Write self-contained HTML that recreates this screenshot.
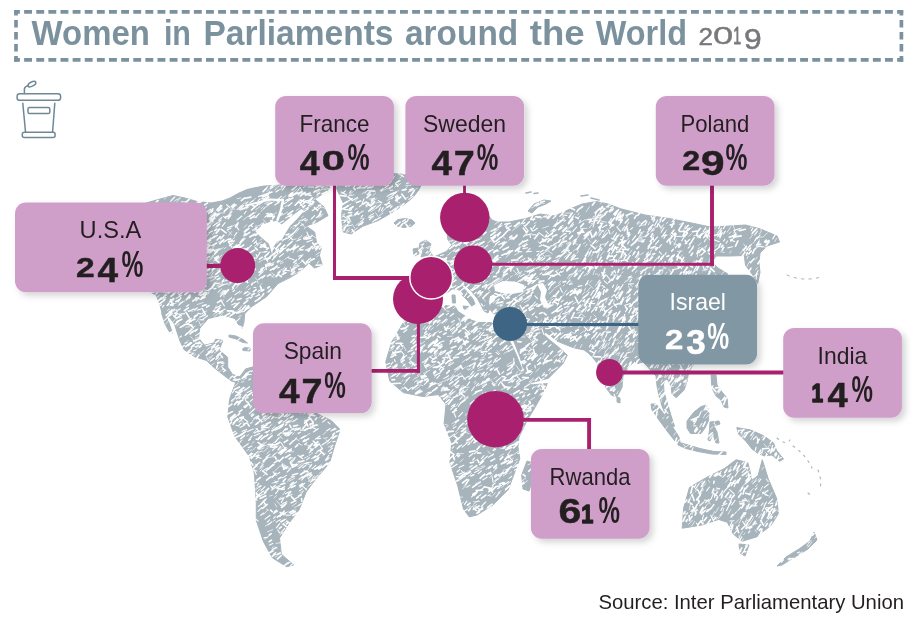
<!DOCTYPE html>
<html lang="en"><head><meta charset="utf-8"><title>Women in Parliaments around the World 2019</title>
<style>html,body{margin:0;padding:0;background:#fff}body{width:914px;height:618px;overflow:hidden}svg{display:block}</style></head>
<body>
<svg width="914" height="618" viewBox="0 0 914 618" font-family="'Liberation Sans', Arial, sans-serif">
<defs><filter id="sh" x="-10%" y="-12%" width="125%" height="135%"><feDropShadow dx="3.5" dy="3.5" stdDeviation="3.4" flood-color="#000" flood-opacity="0.17"/></filter></defs>
<rect width="914" height="618" fill="#fff"/>
<g stroke="#7b929e" stroke-width="3.7" fill="none"><path d="M14.1 11.95H903.2M14.1 59.95H903.2" stroke-dasharray="7.9 4.225" stroke-dashoffset="2.1"/><path d="M16 10.1V61.8M901.4 10.1V61.8" stroke-dasharray="7.5 4.5" stroke-dashoffset="2"/></g>
<text x="31.6" y="45.1" font-size="35" font-weight="700" fill="#7b929e" textLength="118.3" lengthAdjust="spacingAndGlyphs">Women</text>
<text x="163.9" y="45.1" font-size="35" font-weight="700" fill="#7b929e" textLength="27.1" lengthAdjust="spacingAndGlyphs">in</text>
<text x="203.4" y="45.1" font-size="35" font-weight="700" fill="#7b929e" textLength="190.1" lengthAdjust="spacingAndGlyphs">Parliaments</text>
<text x="405.0" y="45.1" font-size="35" font-weight="700" fill="#7b929e" textLength="113.2" lengthAdjust="spacingAndGlyphs">around</text>
<text x="529.8" y="45.1" font-size="35" font-weight="700" fill="#7b929e" textLength="54.9" lengthAdjust="spacingAndGlyphs">the</text>
<text x="595.8" y="45.1" font-size="35" font-weight="700" fill="#7b929e" textLength="91.2" lengthAdjust="spacingAndGlyphs">World</text>
<text transform="matrix(0.2612 0 0 0.2342 698.44 44.58)" font-size="100" fill="#77787b" stroke="#77787b" stroke-width="1.91" stroke-linejoin="round">2</text>
<text transform="matrix(0.3640 0 0 0.2328 712.93 44.41)" font-size="100" fill="#77787b" stroke="#77787b" stroke-width="1.37" stroke-linejoin="round">0</text>
<text transform="matrix(0.1415 0 0 0.2323 733.37 44.39)" font-size="100" fill="#77787b" stroke="#77787b" stroke-width="3.53" stroke-linejoin="round">1</text>
<text transform="matrix(0.3182 0 0 0.2998 744.06 49.17)" font-size="100" fill="#77787b" stroke="#77787b" stroke-width="1.57" stroke-linejoin="round">9</text>
<g fill="none" stroke="#6f8896" stroke-width="1.5" stroke-linecap="round" stroke-linejoin="round"><rect x="17.1" y="93.7" width="43.5" height="6.6" rx="2.6"/><path d="M22.8 103.2L25.5 131.8M54.8 103.2L52.6 131.8"/><rect x="28" y="107.4" width="21.8" height="6.2" rx="1.6"/><rect x="22.3" y="132.3" width="32.8" height="5.3" rx="2"/><path d="M24.4 93.5v-4.5q0-2.2 3.6-3.4"/><ellipse cx="31.9" cy="84.1" rx="4.3" ry="2.1" transform="rotate(-28 31.9 84.1)"/></g>
<path d="M146.0,203.0 160.0,199.0 173.0,195.5 185.0,198.0 197.0,201.5 211.0,203.0 222.0,201.0 230.0,198.0 238.0,193.5 247.0,189.5 256.0,187.5 264.0,186.0 275.0,185.5 285.0,184.5 300.0,183.5 318.0,184.0 330.0,187.0 326.0,192.0 314.6,199.0 324.0,207.0 328.0,215.6 316.5,222.4 306.0,226.0 314.6,232.0 316.5,242.0 321.4,247.7 319.4,255.4 322.3,265.0 314.6,268.0 308.7,263.0 301.0,271.0 291.0,277.0 278.0,283.6 266.5,296.7 252.0,306.4 244.7,313.7 244.0,322.0 242.2,328.3 238.0,324.0 235.0,318.5 222.8,315.0 208.3,318.5 199.8,328.3 198.5,338.0 204.6,345.2 214.3,342.8 215.5,339.2 222.8,340.4 219.2,350.1 227.7,357.4 227.7,367.1 232.5,374.4 239.8,376.8 238.0,383.0 231.4,381.0 222.5,374.3 213.6,367.2 206.5,360.5 194.0,356.5 184.0,349.5 180.0,341.0 177.0,332.0 174.5,324.0 170.0,318.0 162.0,313.0 159.7,304.0 156.0,295.0 150.0,292.0 140.0,260.0 130.0,230.0ZM239.8,376.8 245.6,368.9 256.0,366.0 270.0,368.0 290.0,372.0 310.0,385.0 322.0,400.0 316.9,413.5 331.2,420.6 340.1,429.5 334.7,445.5 329.4,463.3 316.9,477.6 306.2,491.9 299.1,509.7 288.4,523.9 279.5,538.2 281.3,554.2 293.7,564.9 286.6,566.7 272.4,557.8 263.5,541.8 256.3,520.4 256.3,502.6 254.5,474.0 249.2,456.2 234.9,436.6 227.8,417.0 229.6,399.2 236.7,379.6ZM336.5,188.4 343.3,203.0 341.4,216.6 343.3,232.1 351.0,234.0 362.7,226.3 378.3,220.5 391.8,212.7 403.5,205.0 413.2,197.2 419.0,189.4 422.0,183.0 420.0,177.0 400.0,174.0 360.0,172.0 340.0,176.0ZM394.0,223.0 398.0,219.5 405.0,218.5 412.0,220.0 415.0,223.0 411.0,226.5 404.0,227.5 397.0,226.0ZM420.0,243.0 426.0,240.0 431.0,244.0 429.0,250.0 433.0,256.0 428.0,258.0 421.0,257.0 423.0,251.0 419.0,248.0ZM413.0,249.0 418.0,248.0 419.0,254.0 414.0,256.0ZM418.0,272.0 425.0,262.0 436.0,256.0 445.0,252.0 452.0,245.0 448.0,240.0 446.0,228.0 452.0,215.0 462.0,203.0 476.0,199.0 485.0,206.0 489.0,216.0 492.0,220.0 497.0,222.0 509.0,222.0 526.0,218.5 540.0,214.0 555.0,216.0 570.0,209.0 582.0,204.0 596.0,201.5 608.0,204.0 620.7,208.8 645.0,215.0 669.0,218.5 693.5,223.4 710.5,227.0 730.0,226.0 745.5,225.0 760.0,228.8 777.0,236.0 779.5,242.0 767.4,245.8 760.0,253.0 759.0,262.8 760.0,272.5 757.7,283.4 752.8,275.0 745.5,265.2 744.3,255.5 730.0,256.0 716.0,256.0 712.0,262.0 718.0,268.0 728.0,274.0 738.0,290.0 735.0,305.0 722.0,320.0 712.0,345.0 695.0,362.0 688.7,372.0 687.0,381.7 684.0,390.0 676.3,397.7 672.0,394.0 671.0,386.0 668.0,380.0 666.0,379.0 663.5,384.0 664.0,392.0 667.0,402.0 671.0,415.5 674.5,426.2 671.0,427.0 667.0,418.0 662.0,406.0 659.0,396.0 657.0,386.0 656.0,376.0 652.0,372.0 647.0,366.0 643.0,362.0 637.7,363.6 634.6,361.5 628.5,367.0 623.0,376.0 622.0,387.4 616.8,397.0 611.4,395.1 604.0,385.0 599.0,370.0 596.7,362.5 592.5,357.3 588.3,353.1 584.1,349.9 573.6,347.8 563.0,343.6 557.0,341.0 551.0,336.0 545.0,332.0 543.8,334.5 549.0,339.5 554.0,343.5 559.0,347.5 567.3,355.2 563.0,363.6 548.4,378.3 531.5,382.5 526.0,378.0 520.3,357.7 512.7,338.3 508.5,331.0 506.0,322.0 508.0,314.0 500.0,314.6 493.0,313.5 490.0,309.0 491.0,304.0 495.0,301.0 497.0,296.5 493.5,294.0 489.5,296.0 488.5,302.0 490.0,308.0 488.0,313.0 484.0,311.0 481.0,305.0 477.0,298.0 472.0,292.0 468.0,288.0 464.0,285.0 461.5,285.5 468.0,293.0 473.0,299.0 475.0,304.0 471.5,306.0 468.0,301.0 463.0,296.0 458.0,289.0 452.0,289.0 447.0,293.0 440.0,296.0 432.0,297.0 428.0,300.0 424.0,307.0 414.0,309.0 403.0,305.0 402.0,292.0 410.0,286.0 420.0,284.0ZM403.3,322.7 410.0,313.0 418.8,311.0 434.4,307.2 442.6,305.5 455.0,306.3 458.0,311.5 465.0,316.0 472.0,320.5 480.0,322.5 491.0,322.5 497.0,326.0 506.2,330.0 510.1,342.1 515.9,353.8 523.7,373.2 531.5,384.9 547.3,383.6 542.0,395.1 533.6,409.8 527.3,420.0 519.0,437.0 517.9,447.0 519.8,458.6 514.0,474.2 508.2,489.7 492.6,505.2 477.1,515.0 469.3,516.9 463.5,509.1 457.7,485.8 449.9,462.5 451.8,443.1 444.1,423.7 446.0,404.3 438.3,394.6 422.7,396.5 403.3,392.6 389.7,381.0 385.8,361.6 391.7,342.1ZM527.0,461.0 533.0,463.0 534.0,475.0 529.0,491.0 523.0,489.0 521.7,475.0ZM617.0,397.0 620.0,398.0 620.0,403.0 617.0,402.0ZM682.2,528.2 683.7,507.8 689.5,487.4 707.0,477.2 724.5,468.5 736.1,459.7 747.8,462.6 752.1,480.1 758.0,475.7 762.3,459.7 768.2,478.6 776.9,499.0 778.4,513.6 771.1,525.3 756.5,536.9 742.0,541.3 733.2,534.0 727.4,522.3 718.6,519.4 701.2,525.2ZM739.0,544.0 749.0,545.0 745.0,556.0 740.0,553.0ZM814.0,532.0 817.0,540.0 808.0,549.0 795.0,557.0 782.0,565.0 777.0,566.0 786.0,557.0 799.0,549.0 810.0,541.0ZM736.8,427.6 750.5,429.9 764.3,436.0 773.5,442.9 776.6,450.5 783.5,459.0 779.6,461.3 772.0,455.0 764.3,455.9 758.2,453.6 752.0,449.0 746.0,441.4 738.3,433.7ZM687.0,421.0 694.0,412.0 701.0,406.6 706.6,405.0 709.0,412.0 708.3,421.0 705.0,428.0 701.0,433.5 690.5,433.5 687.0,428.0ZM651.0,404.0 656.0,404.0 664.0,414.0 672.0,426.0 679.0,437.0 680.0,442.0 675.0,441.0 667.0,431.0 659.0,420.0 652.0,410.0ZM678.0,442.0 688.0,445.0 700.0,448.5 714.0,451.5 726.0,452.0 726.0,454.5 712.0,454.0 698.0,451.5 686.0,448.5 678.0,445.0ZM710.0,422.0 719.0,421.0 720.0,424.0 714.0,426.0 717.0,432.0 719.0,443.0 716.0,443.0 713.0,434.0 710.0,441.0 708.0,440.0 709.5,430.0ZM711.0,375.0 716.0,375.0 717.0,385.0 722.0,392.0 727.0,398.0 728.0,408.0 724.0,407.0 721.0,400.0 716.0,396.0 712.0,388.0ZM528.0,211.0 534.0,204.0 544.0,200.0 551.0,201.0 546.0,204.0 538.0,207.0 532.0,213.0ZM229.0,335.0 236.0,336.0 243.0,339.5 247.5,343.0 243.0,342.5 236.0,339.0 229.0,337.0ZM242.0,347.5 250.0,348.0 250.0,351.0 243.0,350.5ZM161.5,313.0 165.0,313.5 169.0,323.0 172.5,333.0 169.5,332.0 165.0,324.0ZM463.0,306.0 469.0,306.5 468.0,309.5 464.0,309.0ZM452.0,295.0 455.0,295.0 455.5,303.0 452.5,303.0Z" fill="#a7b4bc" stroke="#a7b4bc" stroke-width="1" stroke-linejoin="round"/>
<path d="M255.4,231.2 263.3,224.0 276.5,220.7 281.7,224.6 293.5,214.8 301.4,208.9 304.0,211.0 297.0,219.0 290.0,226.0 285.6,233.1 281.7,239.7 276.5,242.3 273.5,247.0 272.0,254.0 270.0,247.0 268.6,243.6 259.4,235.8ZM494.0,285.0 503.0,281.0 515.0,281.5 524.5,285.0 523.0,292.0 512.0,294.0 502.0,293.0 495.0,291.0ZM537.0,284.0 543.0,283.0 547.0,290.0 545.0,297.0 549.0,306.0 544.0,308.0 540.0,300.0 541.0,292.0Z" fill="#fff"/>
<g fill="none" stroke="#fff" stroke-linecap="round" stroke-linejoin="round"><path stroke-width="2" d="M246 205.5L258 202.5L270 199.5L282 200"/><path stroke-width="2.4" d="M283 200L281 210L277.5 220"/><path stroke-width="1.6" d="M261 196L272 192M289 196L300 192.5L311 195.5M300 200L312 204"/></g>
<g fill="none" stroke="#a7b4bc" stroke-linecap="round"><path stroke-width="1.6" d="M526 193L531 192M534 193.5L538 193M581 196L588 195M591 198L599 200"/><path stroke-width="1" stroke-dasharray="2.5 5" d="M787 275Q803 282 821 277"/><path stroke-width="1.1" stroke-dasharray="2 5" d="M777 438Q786 446 790 440M793 446Q806 455 812 468M818 470Q822 480 820 490M808 493L812 496"/></g>
<g stroke="#fff" fill="none" stroke-linecap="round"><path stroke-width="0.7" d="M350.9 232.4l3.2 -1.7M175.6 209.4l4.8 -3.1M213.4 261.0l3.4 -1.7M719.1 287.4l1.3 -2.2M253.4 402.4l1.6 -1.6M169.2 254.3l3.4 -2.0M439.1 290.8l4.5 -1.0M630.2 284.8l2.0 1.6M730.6 297.7l1.7 -3.7M453.9 436.0l3.7 -3.6M693.5 286.0l2.3 -3.4M243.3 220.0l4.2 -3.5M217.2 270.9l3.3 -2.3M691.8 514.6l2.1 -3.3M250.0 264.8l2.0 -2.4M483.2 416.4l1.8 -1.3M746.1 480.1l3.8 -0.4M171.8 199.6l1.9 -2.0M362.1 193.8l3.0 -2.1M550.5 231.7l2.8 -2.2M448.8 363.8l2.7 -1.7M697.4 238.1l4.0 -4.8M490.1 231.3l5.7 -2.9M494.7 480.4l2.4 -1.8M713.6 490.6l4.3 -0.8M373.1 184.6l2.3 -2.3M305.0 444.4l6.2 1.8M280.2 262.3l2.5 -1.5M753.7 483.2l2.7 -4.8M627.2 240.2l1.6 -2.2M749.8 492.0l3.6 -3.4M697.2 256.9l0.7 -3.2M293.0 405.5l4.5 -4.1M473.8 382.5l1.7 -1.2M659.4 374.0l2.4 -3.2M549.6 373.8l2.5 -4.5M438.1 383.7l5.4 -2.5M212.4 347.6l2.3 -2.1M580.5 228.5l6.3 -0.2M401.7 362.2l3.9 4.3M483.5 306.6l1.5 -1.5M509.0 346.6l3.2 -1.5M200.9 277.6l2.1 -1.5M691.2 276.8l2.9 -5.4M600.8 341.8l4.1 -3.8M439.5 308.0l4.5 -4.2M312.9 223.8l2.2 -1.7M163.2 252.6l2.8 -1.9M651.1 287.3l1.3 -1.6M690.7 344.7l3.9 -4.2M397.6 373.4l5.0 -2.9M165.3 224.9l4.2 -3.4M303.4 237.6l4.4 -2.4M454.8 372.2l2.6 -3.4M190.3 330.5l2.6 -1.5M530.3 382.4l4.0 -3.0M473.5 501.7l6.0 -0.3M219.5 316.5l3.8 -4.3M513.0 420.5l1.5 -1.4M474.8 384.1l1.6 -1.7M635.4 272.8l1.6 -2.4M467.0 324.0l4.7 -2.0M655.9 416.7l2.0 -2.4M640.0 293.0l1.2 -1.6M170.5 279.2l2.4 -2.2M484.1 356.4l1.6 -2.0M742.7 249.0l2.5 3.2M436.3 280.0l4.9 -3.9M274.1 402.6l1.3 -2.2M438.3 292.4l2.7 -2.3M765.1 452.1l2.6 2.7M316.5 192.5l5.0 -2.8M478.4 247.9l5.3 -1.9M631.9 352.1l2.4 -4.2M453.2 308.7l2.4 -2.0M580.2 292.6l1.0 -3.6M243.7 236.5l2.6 -1.5M261.3 208.6l1.7 -1.7M292.6 274.8l3.4 -1.7M413.2 380.2l2.4 -2.6M171.5 279.4l2.2 4.3M403.3 345.4l2.7 5.2M696.3 508.6l1.7 2.1M487.4 439.0l2.8 4.4M441.7 391.5l4.9 -3.7M572.5 293.2l1.8 -2.5M489.5 402.7l1.7 -1.2M290.4 267.1l1.8 4.9M340.0 181.7l2.3 -2.1M284.5 186.9l2.7 -2.8M597.5 250.5l2.9 -0.6M692.2 265.6l2.2 -4.9M468.6 248.3l4.1 -4.8M275.3 557.1l1.9 -1.2M745.6 521.7l2.9 -2.0M585.4 322.8l2.2 -2.7M693.4 345.4l2.7 -5.5M308.8 455.8l2.6 -1.9M424.1 364.4l2.6 4.7M545.5 302.2l3.3 -1.5M263.7 470.5l3.6 -2.6M310.3 206.5l3.4 -2.6M616.6 350.7l2.1 -4.6M584.8 219.9l3.3 -0.1M518.2 320.1l2.5 -1.8M524.5 302.5l5.5 -3.4M477.5 264.0l2.1 -1.3M157.0 289.2l1.4 -2.5M307.6 476.8l2.0 4.4M225.1 253.7l4.0 -2.4M576.9 253.5l1.6 -2.3M675.5 389.2l1.8 -1.7M399.4 390.6l4.3 -2.8M628.3 254.8l3.7 -4.8M228.5 285.0l3.5 -2.4M263.4 219.7l4.4 4.7M693.6 235.7l5.8 -0.8M698.3 245.6l2.6 -2.7M483.4 325.2l4.8 -3.7M540.3 389.8l3.1 -1.4M435.9 346.1l2.1 -2.2M453.7 215.7l2.8 -2.8M191.9 347.0l2.1 -1.0M756.2 237.5l6.2 -0.6M173.6 311.2l2.9 -1.5M687.9 230.6l4.8 -3.9M272.0 276.6l2.2 -1.8M564.9 314.3l4.5 -0.5M560.4 328.1l4.5 -1.1M690.4 273.6l5.7 -3.0M151.2 233.2l4.0 -4.5M219.8 262.3l1.8 -1.2M202.1 314.1l1.9 -2.2M556.6 361.8l4.1 -4.7M295.6 233.0l3.6 -4.2M515.1 311.8l2.5 -3.1M266.1 413.1l1.9 -2.1M641.2 357.5l1.5 -3.7M282.9 214.9l4.6 -2.7M617.7 278.6l2.4 -3.2M671.1 379.9l1.0 -2.8M641.2 302.0l2.9 -2.0M519.5 295.5l4.6 -4.0M691.5 526.3l3.2 -5.0M200.9 254.2l5.3 -2.0M562.9 286.2l1.8 -1.6M649.4 254.2l1.7 -2.6M322.8 455.6l2.7 -2.1M498.2 257.3l2.7 0.4M465.8 487.5l3.7 -2.0M609.0 371.0l3.0 -4.7M560.1 313.7l2.6 -2.8M269.2 274.2l4.9 3.5M493.2 471.3l3.9 -3.0M660.9 402.1l0.9 -2.9M259.2 292.6l4.8 -3.2M235.2 234.5l2.0 -1.9M198.7 321.1l2.3 5.1M633.0 344.9l1.6 -2.5M394.7 187.2l4.2 -3.7M605.2 371.6l2.4 -4.1M714.4 441.9l2.4 -3.3M195.7 338.0l3.0 -0.7M419.8 353.1l2.5 -3.0M253.5 432.6l4.4 -4.6M499.6 456.4l4.2 -2.5M271.8 444.1l5.1 -3.9M372.8 195.6l2.8 -2.6M282.0 462.9l4.3 3.6M449.9 395.8l4.9 -4.0M691.8 495.2l1.4 -2.2M701.2 311.9l3.2 0.3M421.5 246.4l2.4 -2.0M580.6 313.3l4.6 3.6M751.6 482.2l1.4 -1.6M580.0 271.8l1.3 -2.3M288.0 479.7l5.0 -2.5M263.1 446.4l4.9 -2.0M510.4 277.0l1.9 -1.2M449.1 230.1l3.7 -2.1M449.9 395.1l3.2 -2.1M479.8 363.7l2.0 -0.7M489.5 477.8l3.1 -3.3M696.1 287.8l3.8 -0.3M473.6 280.4l5.0 -2.4M163.1 291.5l2.2 -1.8M597.4 257.0l0.9 -2.3M577.7 317.8l5.5 -0.5M514.8 275.2l2.8 -2.8M154.8 219.1l4.6 -0.4M571.0 257.6l3.5 -3.7M623.4 268.8l1.6 -2.3M560.5 338.7l4.3 -3.5M684.4 285.4l0.8 -3.1M688.6 524.4l4.0 -4.3M520.4 281.5l4.9 -2.7M366.1 207.2l4.3 -3.2M447.7 255.4l3.9 -3.7M672.9 354.6l2.0 -2.3M456.5 405.7l1.7 -2.3M252.6 450.3l3.0 -3.1M670.0 235.2l1.9 -3.0M518.2 277.6l2.9 -4.6M303.3 187.6l2.5 -1.3M538.9 330.0l3.9 -2.4M589.3 328.3l1.6 -2.2M280.4 189.6l3.9 -4.6M165.4 230.3l5.8 -2.4M594.0 291.3l2.1 -2.8M305.5 221.9l2.0 -1.9M292.5 229.1l2.6 -1.2M438.7 306.4l4.1 -0.6M559.6 229.5l3.9 -2.3M235.2 279.1l3.5 -0.2M588.2 256.5l1.7 -2.3M814.6 538.4l2.2 -2.5M628.7 286.1l0.8 3.4M755.7 259.2l1.6 -2.1M617.4 251.1l3.0 -3.0M316.0 254.7l4.4 -2.7M268.3 198.8l1.4 -1.7M684.0 304.3l5.9 0.0M728.2 278.2l1.7 -2.1M434.4 377.4l3.7 -3.7M689.5 515.9l2.9 -4.5M481.9 382.2l1.4 -1.5M254.3 213.3l1.9 -1.5M608.9 251.0l2.6 -3.9M523.6 379.4l4.8 -2.1M159.1 221.5l3.8 -1.9M406.8 227.4l3.8 -2.6M639.9 237.7l6.0 -1.6M394.2 339.1l5.8 -2.3M662.8 307.1l1.9 -2.9M689.3 509.6l1.3 -6.1M563.9 316.7l1.6 -1.7M425.0 372.3l5.1 -2.1M684.9 520.8l2.1 0.5M568.7 279.2l4.1 -4.6M555.1 271.9l3.4 -2.1M495.1 231.6l3.2 -2.1M705.3 414.6l3.2 -3.7M266.9 453.9l2.7 -3.1M280.5 375.8l3.5 -3.1M510.1 367.3l4.7 -2.8M237.0 198.7l3.9 -0.7M203.9 259.5l2.3 2.7M649.4 360.3l5.0 -1.5M521.1 336.9l3.7 0.1M439.6 353.9l2.3 -2.4M471.4 348.7l3.5 -2.9M708.6 501.6l1.6 2.5M516.1 365.7l3.9 5.2M484.3 377.6l2.5 -2.8M196.0 322.0l3.9 -4.5M492.9 495.2l2.5 -2.3M479.1 216.6l6.1 -2.0M236.2 288.2l2.5 -3.4M256.9 246.3l4.6 -4.6M587.8 251.5l2.4 -3.8M311.0 428.1l3.5 -1.7M212.5 234.6l1.9 -1.5M196.4 240.8l4.7 -3.0M658.7 301.1l1.5 -3.3M244.8 278.1l3.1 -1.7M436.9 326.3l4.3 -4.2M299.7 186.8l3.2 5.1M689.0 294.6l3.0 -5.5M621.7 261.4l3.7 -4.1M296.2 241.5l2.0 -2.0M405.7 198.7l2.6 -1.7M260.6 284.7l1.5 -1.5M585.4 308.0l2.0 -2.5M681.6 237.1l2.7 -4.5M271.9 548.1l2.1 -1.5M613.0 274.8l4.6 0.2M545.6 255.9l4.4 0.0M313.6 477.9l4.3 -2.5M517.6 296.3l4.9 -3.2M735.5 513.2l2.0 -2.6M585.1 312.0l1.6 -2.7M711.1 312.3l1.1 -2.6M240.0 251.3l2.6 -2.2M566.3 243.2l4.5 -0.6M621.8 273.4l1.1 -1.7M324.5 189.8l4.4 -1.6M160.1 270.3l4.9 -3.6M605.9 329.9l2.8 -5.0M320.7 206.7l4.8 1.7M559.4 352.2l4.2 -2.9M423.9 373.0l0.8 2.0M308.5 385.4l1.8 4.5M502.6 271.6l2.1 -2.0M341.2 227.2l4.3 -2.6M292.5 268.9l1.9 -3.0M504.5 473.5l4.3 -2.6M540.0 355.0l2.7 -2.0M169.5 284.6l3.8 -3.4M426.0 247.7l4.7 -1.5M577.5 272.2l1.8 -1.9M705.5 291.8l2.5 -5.6M696.2 300.4l1.7 -4.2M292.8 190.3l3.4 -3.9M468.6 370.4l2.2 -2.6M602.0 237.4l1.4 -1.7M705.7 510.0l3.8 -0.7M323.2 434.6l2.8 -2.8M749.8 238.5l2.5 -3.1M515.3 310.4l3.5 -2.1M572.6 292.2l4.3 -4.1M147.3 248.2l3.7 -3.3M414.5 382.3l3.0 -2.3M205.7 244.0l5.7 -1.6M302.9 210.5l2.4 -2.0M464.5 392.1l3.2 -2.9M507.3 454.9l1.9 -1.6M661.2 227.4l2.4 -2.8M613.6 340.4l4.8 -0.6M758.8 517.9l3.1 -4.5M504.9 491.2l4.3 -4.5M593.1 274.7l1.6 -4.3M255.1 392.1l4.3 -2.7M595.5 328.3l2.7 -2.6M179.4 303.2l5.5 -2.4M449.6 401.2l3.6 -2.9M356.7 182.0l5.1 -3.9M159.5 230.9l3.3 -2.7M307.3 398.2l5.4 -3.2M728.5 479.0l1.6 -2.8M565.2 311.8l2.4 -3.0M169.9 305.9l3.2 -1.7M296.2 265.5l2.0 -1.6M440.4 348.6l1.8 -1.5M182.3 244.3l5.4 -3.5M241.9 278.7l2.3 -1.7M572.8 251.6l4.9 -4.0M541.6 203.4l2.6 -0.1M257.0 384.7l4.6 -1.5M574.6 333.5l2.5 -3.0M539.9 274.0l1.7 -1.2M355.1 209.5l2.1 -1.1M687.5 340.6l3.4 -3.2M510.2 432.6l2.2 -2.2M660.7 296.2l4.7 -4.3M440.5 282.4l1.7 -1.1M455.5 431.8l2.8 -2.3M148.3 226.0l1.8 -2.1M230.2 243.9l4.8 -3.8M663.0 266.9l3.1 1.7M678.2 356.1l3.5 -5.0M282.9 272.4l2.1 -2.0M276.4 398.5l4.8 -3.4M726.1 278.9l2.2 -2.7M239.6 442.9l2.9 -2.8M273.0 521.5l2.3 -1.6M196.3 239.6l1.4 -2.0M289.8 485.4l2.7 -1.4M211.2 365.5l3.2 -2.3M252.0 443.3l2.0 -1.6M275.4 555.0l4.8 -2.2M310.3 200.9l3.1 -3.3M377.2 177.7l3.9 -3.1M501.2 389.5l4.9 -1.8M401.9 299.7l4.9 -4.1M304.0 413.9l2.0 -1.5M708.6 480.5l1.1 1.9M605.4 302.9l2.9 -5.7M289.6 421.7l2.8 -2.4M618.5 328.9l1.4 -3.1M281.3 416.0l4.2 -4.4M454.2 457.7l1.9 -1.8M488.4 380.4l3.0 -0.5M445.1 424.6l2.2 0.3M234.5 272.6l2.4 -2.7M679.6 380.2l4.4 -4.8M605.7 351.5l3.6 -4.3M650.6 232.5l1.4 -2.7M389.9 180.2l4.0 -2.3M168.5 243.4l2.4 -2.0M383.7 190.2l3.2 -1.8M618.7 290.2l1.5 -3.2M763.1 246.4l4.6 2.4M354.9 201.5l2.9 -3.0M747.6 472.5l3.2 -3.4M445.0 355.5l5.6 -2.2M429.8 367.5l4.8 -3.1M404.3 190.2l3.3 -4.3M209.1 261.1l4.1 -3.9M198.0 208.5l3.8 -3.3M617.1 364.7l2.8 -4.2M727.2 232.1l3.6 -5.3M718.9 392.9l2.2 -3.2M163.6 292.2l3.2 -0.1M267.7 194.1l2.1 -3.0M448.0 366.1l1.9 -2.2M163.4 296.9l3.5 -1.7M516.0 301.2l4.2 -3.0M537.9 241.7l3.6 2.8M679.3 369.9l1.5 -2.5M704.8 228.6l2.3 1.8M196.8 209.5l5.0 0.2M599.9 235.3l2.7 -4.3M528.3 298.6l3.1 -1.6M704.8 231.3l6.3 1.3M397.3 186.5l3.3 -3.0M192.9 356.7l2.9 -2.7M593.2 216.6l6.4 1.1M539.5 386.0l2.4 -1.1M709.7 258.7l2.2 6.0M297.7 466.6l4.5 -3.2M507.3 484.4l3.3 -2.8M583.6 239.1l4.0 -4.8M230.2 209.1l4.4 0.0M208.9 357.8l3.8 -2.3M267.2 223.7l5.2 -3.1M463.7 486.1l3.6 -3.6M286.0 469.2l3.0 -2.3M484.8 287.4l2.4 -0.3M526.5 265.0l1.9 -1.3M297.9 408.0l1.9 1.0M688.8 307.6l1.7 -1.2M297.1 462.3l2.2 -1.5M263.4 259.1l5.5 -0.7M457.3 370.4l4.5 -4.1M264.2 419.1l5.2 -0.8M639.2 226.1l6.0 -1.6M701.0 491.2l1.9 -5.2M727.2 288.1l2.1 3.8M287.0 252.0l4.9 -3.7M703.0 486.5l3.0 -2.9M139.4 216.5l3.7 -1.7M554.1 288.3l2.6 -1.9M610.2 348.5l3.0 -4.1M255.2 277.9l2.7 2.5M282.2 524.3l3.6 -2.2M700.1 236.9l1.0 -1.7M742.6 437.8l3.0 -5.6M562.6 322.3l3.1 -4.0M352.1 224.1l2.6 3.9M569.6 284.1l2.1 -2.5M501.8 336.6l4.2 2.8M674.4 311.1l1.6 -4.0M732.1 236.9l1.4 -1.7M257.9 292.9l1.4 2.5M203.6 276.0l1.8 -2.6M267.5 531.8l5.3 -2.2M344.6 233.9l3.3 -3.8M645.2 283.1l3.7 -4.9M492.8 286.5l1.7 -1.4M203.5 294.4l5.9 -2.4M660.9 326.3l2.5 2.9M682.2 312.7l2.7 -5.3M493.9 378.7l2.9 -2.0M473.2 509.8l3.5 -3.0M745.2 529.0l3.9 -4.5M316.8 257.0l1.6 -1.8M679.7 315.1l2.7 -2.2M223.6 281.6l3.5 -2.0M204.3 262.1l3.4 -3.1M277.2 486.7l4.9 -3.0M684.4 385.7l2.5 -3.5M530.1 331.4l3.6 -3.0M284.7 512.9l1.6 3.1M457.0 227.0l2.6 -4.4M615.7 352.7l2.0 -2.6M261.7 463.5l3.5 -2.0M263.8 451.4l4.0 -3.3M170.5 254.5l5.3 -2.6M241.5 420.5l1.8 2.1M681.9 352.6l1.5 -2.0M755.6 486.7l1.5 -2.0M515.9 373.5l2.3 -2.1M632.1 323.7l2.0 -0.2M276.3 403.7l1.5 -1.4M698.7 483.6l3.5 -2.6M176.3 301.3l5.0 -3.3M461.4 425.5l3.0 -2.2M214.5 251.6l4.4 -1.5M451.4 331.5l3.8 -3.1M604.0 360.9l2.9 -5.4M155.6 208.2l1.4 1.7M279.2 435.4l3.4 3.5M256.4 492.4l4.1 -3.7M739.5 536.1l3.3 -4.8M474.3 417.3l1.8 -1.3M401.9 175.7l1.6 -1.4M699.0 493.4l2.1 -2.1M369.6 210.5l5.1 -2.8M653.0 231.0l1.6 -1.3M179.7 218.4l3.6 -3.0M485.3 354.1l4.1 -4.5M756.7 503.4l1.0 -1.9M192.7 345.4l4.7 2.7M646.5 282.1l1.2 -3.7M141.6 263.1l5.5 -0.1M674.4 384.4l3.0 -4.9M492.1 430.0l5.3 -3.0M189.3 257.8l4.6 -4.0M271.8 272.9l3.9 3.0M317.0 476.6l1.7 -1.8M602.3 348.7l2.8 -2.2M696.6 261.0l5.6 0.6M589.8 282.5l1.9 -1.9M583.2 243.9l2.1 -1.3M280.8 199.4l5.2 -3.6M299.2 487.4l2.8 -2.5M654.3 261.9l2.2 -2.9M193.2 219.2l2.4 -1.4M177.3 262.4l3.7 -5.2M293.3 239.8l2.8 -1.0M186.0 276.2l2.1 1.0M270.0 434.4l2.1 -1.4M717.6 315.2l2.7 3.8M277.9 186.9l2.2 -1.4M259.4 468.8l4.4 -2.5M555.4 257.8l2.8 -0.7M513.5 454.9l5.0 -3.9M230.5 227.4l3.9 -2.5M288.9 240.3l4.1 -4.4M415.8 381.3l5.6 -0.6M208.2 270.6l3.7 -4.8M520.7 244.8l2.2 -2.3M488.3 440.7l3.2 -2.6M572.4 241.8l4.8 2.7M747.1 266.2l2.4 -4.9M216.2 260.6l2.8 -1.5M152.8 227.2l3.5 -3.0M592.4 238.0l3.9 -5.0M263.0 475.9l3.7 -2.9M712.6 518.3l2.3 -1.8M626.8 281.5l3.3 -3.9M311.5 451.9l1.3 1.6M458.0 274.7l2.0 -1.3M309.2 485.5l2.9 -2.0M466.9 245.4l1.9 1.9M605.0 325.3l1.7 -2.5M260.2 451.5l2.4 -0.3M224.1 248.9l1.8 -1.7M564.0 269.2l3.0 -4.3M584.1 276.0l2.1 -2.2M674.4 296.2l2.7 -3.9M480.8 229.6l4.2 4.2M446.0 251.4l2.4 -2.7M621.4 381.9l1.4 -2.0M176.9 325.7l2.4 -1.9M320.5 183.9l1.9 5.8M216.5 357.6l4.2 -3.4M658.3 346.1l2.3 -3.0M164.2 286.4l1.9 -1.3M241.3 382.1l2.7 -0.3M421.5 306.2l2.0 -1.5M305.5 463.2l5.6 2.3M544.0 286.8l1.9 -1.7M716.1 301.3l1.9 -5.0M721.1 401.4l3.6 -4.9M712.2 496.9l1.4 -3.4M737.1 472.3l4.9 -4.2M687.7 273.6l1.7 -3.3M497.7 305.9l5.4 -2.3M733.0 224.3l1.5 5.1M503.9 353.6l4.9 -3.4M353.4 183.0l2.6 -1.5M177.0 199.8l3.1 -2.2M483.6 364.5l5.2 -2.8M586.2 256.4l2.1 -4.7M488.0 495.4l3.5 0.8M279.5 466.3l6.4 -0.6M424.9 323.3l5.8 -2.1M266.8 292.5l3.5 -2.8M471.4 438.0l4.6 -4.4M673.7 243.1l5.3 2.6M512.6 230.6l4.1 -3.8M417.3 375.6l2.8 -2.1M291.7 273.7l2.2 -1.7M266.7 404.7l4.1 -3.2M187.1 200.7l4.4 -2.4M297.3 251.8l2.2 -2.5M240.0 259.0l2.5 -1.5M452.9 250.8l1.9 -1.3M420.5 312.0l3.1 -2.1M425.0 292.0l4.4 -4.5M227.3 317.6l5.0 -2.5M253.6 217.8l3.4 -0.5M457.2 369.6l4.6 -3.9M668.5 277.5l2.9 -5.4M497.9 282.4l4.8 -3.1M143.7 249.1l2.4 -1.8M167.6 277.9l3.8 -3.6M427.2 248.8l2.0 -1.3M728.2 472.2l3.0 -5.6M205.1 238.3l4.2 -4.8M427.4 327.4l2.1 -2.2M613.2 243.2l3.4 -4.1M523.1 350.3l4.7 -0.1M777.1 510.3l2.1 1.9M668.4 377.5l3.1 -4.7M550.6 298.8l4.0 -3.9M307.4 414.1l5.6 -1.9M465.3 277.9l0.9 5.3M532.5 339.5l0.9 2.2M318.7 217.6l2.8 -1.5M624.8 257.9l2.1 -2.5M453.8 219.4l1.9 -1.1M637.3 225.1l2.6 -2.6M299.0 495.6l4.3 -3.9M447.1 358.7l4.2 -3.2M255.2 226.1l4.2 -0.3M669.1 269.5l1.6 2.5M639.4 265.8l4.4 -4.3M239.3 443.6l2.0 -3.3M244.0 227.4l2.6 -2.6M509.5 473.5l2.2 -1.7M788.9 561.3l0.9 -3.6M505.2 297.0l1.9 -2.2M213.8 286.3l2.7 -4.3M509.1 254.1l1.7 -1.8M136.5 253.8l5.0 -3.6M482.8 298.4l2.8 2.7M577.3 238.1l3.3 -5.1M304.2 228.8l2.0 -1.7M523.8 393.9l1.7 -1.4M648.4 267.8l3.0 -0.6M654.3 261.4l2.7 -3.3M253.1 200.7l2.4 -2.5M419.9 294.5l2.3 -1.4M754.4 451.9l1.5 -2.3M158.9 220.9l4.7 -1.2M358.4 214.2l3.9 -3.5M480.0 239.3l1.5 -1.8M263.6 208.4l5.5 -3.5M590.0 261.0l1.5 -2.2M464.1 250.1l2.9 -3.1M684.9 286.1l1.4 2.2M460.5 224.0l3.5 -3.8M349.3 194.8l4.0 -3.3M621.3 219.7l2.3 -4.5M752.5 483.7l3.9 -2.9M263.9 378.1l2.2 -2.7M532.7 261.3l2.6 -2.9M585.3 246.5l2.0 -2.5M665.3 377.5l2.6 -2.6M460.1 461.9l3.0 -2.7M632.3 255.8l3.1 -4.0M316.7 196.9l1.4 -1.7M680.7 264.3l3.9 -3.6M463.2 318.7l3.7 -2.0M711.6 517.3l3.0 -5.6M253.4 236.0l5.1 -3.5M714.4 302.8l2.9 -0.0M659.4 322.5l2.9 -5.3M430.5 330.0l3.0 -2.3M388.4 178.0l4.4 -3.2M558.0 247.6l2.2 -2.5M266.2 508.8l2.6 1.6M530.5 400.0l4.2 -2.5M542.4 374.2l2.4 -1.8M294.4 510.9l1.5 -1.5M312.6 480.5l4.7 -4.4M165.5 324.3l3.8 -4.4M306.5 471.5l4.2 -4.9M191.5 355.0l2.0 -1.3M477.1 287.5l3.4 -2.7M478.3 368.5l4.9 -3.3M493.4 303.3l4.3 -3.9M434.3 333.9l4.7 -3.3M147.7 257.3l4.2 2.8M453.4 251.1l2.2 -2.3M572.1 226.9l1.5 -2.4M478.0 297.2l4.1 -2.5M220.7 295.0l3.8 -2.2M520.3 261.1l4.6 -2.9M577.9 215.0l1.1 -1.8M628.0 277.6l4.3 -0.0M720.8 251.8l3.5 0.6M174.0 201.4l2.7 -1.9M750.9 513.8l2.2 3.3M675.9 281.6l1.6 2.6M508.2 414.3l2.3 -1.2M607.4 356.1l6.0 -1.9M321.6 466.2l3.1 -0.4M606.3 329.7l2.3 -2.8M477.7 370.6l5.2 -1.5M580.4 333.6l3.2 -2.6M475.7 483.6l4.9 -1.9M193.2 282.6l3.2 -3.4M508.3 410.2l2.0 -1.5M661.1 287.6l5.6 -0.6M478.2 233.2l3.7 -4.6M254.4 401.4l2.6 -3.0M473.6 504.1l5.0 -3.7M265.9 188.2l2.0 -2.2M665.8 294.2l1.5 -2.6M603.3 234.9l3.3 -4.8M299.8 206.0l1.8 -1.6M464.3 272.8l3.8 -4.0M625.9 217.8l1.2 -1.6M355.0 215.5l2.5 -1.6M480.8 348.5l2.1 -5.0M446.3 399.8l1.4 -1.9M218.1 292.3l3.8 -3.7M269.0 426.9l3.1 -2.5M360.1 223.6l2.5 -2.1M671.6 294.8l3.2 -4.2M400.4 370.7l1.9 -1.7M488.0 289.5l2.4 1.9M319.8 216.3l3.4 -2.1M729.6 253.2l1.6 -2.2M484.3 338.0l4.8 3.7M290.9 394.8l5.4 -2.9M215.9 359.6l2.2 -1.6M281.7 204.9l2.2 -1.5M693.0 337.6l2.2 -2.2M624.3 282.9l2.0 -2.5M530.2 291.2l4.3 -2.4M468.9 264.3l3.5 -3.9M808.7 546.6l3.2 -4.7M548.5 251.3l3.8 2.5M249.6 275.4l1.8 -2.2M158.2 246.3l2.9 2.3M575.1 332.3l3.2 -2.9M705.0 269.5l2.9 -5.0M670.5 361.4l0.9 -3.5M709.3 437.3l2.0 -2.2M358.9 213.7l4.6 -2.5M282.3 507.6l2.7 -1.8M399.9 178.1l2.7 -2.6M528.5 372.2l2.7 -2.5M683.8 448.0l4.8 -3.0M234.2 386.8l3.8 -3.5M521.8 480.9l3.9 -2.7M762.6 494.3l1.6 -3.3M197.2 304.6l5.8 -2.1M434.2 355.8l3.7 -3.1M683.9 272.3l3.8 -4.7M215.6 228.0l4.2 -4.9M563.8 239.1l0.4 2.8M664.7 405.0l2.0 -3.2M359.6 177.3l2.0 -1.1M466.2 333.1l3.6 -3.0M696.8 527.5l1.5 -4.3M444.1 390.9l3.7 -1.8M283.7 451.7l3.6 -3.1M482.7 325.6l3.6 -2.7M402.0 387.5l1.7 1.5M219.8 293.7l4.2 -3.8M475.7 229.1l5.5 -1.3M276.0 543.4l5.8 -1.0M517.7 282.1l3.5 -2.7M655.4 294.7l2.2 -3.5M688.8 236.1l2.7 -2.3M733.0 237.9l2.9 -4.1M185.1 271.4l4.4 -4.0M409.0 351.3l4.1 -3.7M493.7 449.0l3.2 -2.0M636.6 258.6l2.5 -4.2M459.6 318.9l1.2 6.1M720.7 275.2l3.8 -4.0M582.3 294.6l2.4 -2.3M436.0 354.7l0.8 4.1M711.3 498.1l2.3 -5.3M274.7 470.9l4.1 -3.8M379.4 215.6l3.6 -2.5M529.1 347.3l3.1 2.4M534.7 387.1l2.6 -1.7M514.5 255.2l4.6 -3.0M664.6 347.9l2.9 -3.3M692.7 292.6l1.2 -2.8M558.7 283.3l2.0 -2.3M256.2 244.5l3.1 -1.7M578.3 328.0l2.0 -2.0M493.6 426.0l4.4 -3.8M725.6 482.2l2.2 -2.5M287.5 451.7l4.2 -3.4M657.7 298.8l2.5 -4.9M506.7 470.8l2.7 -1.2M305.9 436.1l4.0 -2.8M588.9 254.6l1.3 -2.6M194.3 311.2l3.2 -3.3M229.4 212.2l4.2 -4.2M513.4 270.2l4.1 4.7M341.0 177.6l2.5 -0.5M251.7 271.8l3.4 -2.1M672.0 396.2l3.2 -5.0M764.2 524.1l3.3 -4.0M291.3 384.2l4.7 -1.6M259.3 420.9l5.6 -3.2M257.9 453.5l2.1 -1.7M491.7 240.9l2.4 -0.2M216.0 259.3l1.8 -3.0M740.2 253.5l3.9 -4.9M595.2 338.6l0.2 2.4M156.1 224.3l4.2 3.3M744.7 436.8l4.1 -4.7M466.8 367.0l3.7 -2.2M679.5 224.4l2.9 -1.0M443.4 429.3l4.9 -3.4M480.3 373.0l2.2 2.7M344.3 221.6l1.7 -1.3M270.1 392.1l2.8 -2.1M695.3 488.7l1.9 1.7M272.2 215.8l4.3 -3.4M482.3 392.8l4.3 2.3M467.7 471.7l3.3 -2.0M425.4 394.4l3.2 -1.9M421.6 316.5l3.2 4.2M400.1 350.3l2.9 -2.2M350.9 195.2l3.1 -0.3M450.6 326.9l4.0 -3.9M722.6 513.2l1.2 -5.1M742.1 541.3l0.9 -2.3M533.2 338.7l2.3 -1.1M521.6 302.2l4.1 -4.0M253.2 456.7l3.3 -1.0M544.7 217.5l3.3 -3.5M567.3 308.1l2.2 -1.7M302.6 404.6l4.8 -2.8M236.0 276.2l2.4 -1.6M219.0 257.6l2.9 -2.5M650.7 334.2l2.3 -5.6M489.5 441.9l2.8 -1.5M444.4 381.3l4.2 -2.9M617.2 344.1l2.1 -2.3M274.1 497.9l2.5 -2.2M578.2 217.7l2.0 -1.9M424.5 266.7l1.4 1.7M577.1 313.3l3.1 -1.2M196.7 250.2l5.0 0.6M298.3 238.6l3.8 -3.2M479.3 243.0l3.1 -0.2M480.8 361.5l4.3 -3.0M666.3 223.8l1.7 -1.8M582.1 299.2l1.3 -2.4M405.3 223.5l2.5 -2.9M208.5 274.8l4.4 -3.9M346.7 230.6l2.7 -2.3M480.9 466.9l3.4 -1.3M604.6 331.6l3.6 -0.6M679.6 293.8l1.2 -2.6M685.5 382.8l2.0 -4.1M198.8 228.3l3.7 -3.2M683.3 444.2l1.9 2.4M663.5 234.5l3.2 -4.5M236.0 378.6l2.7 3.2M462.4 489.2l4.1 -4.4M598.4 352.3l4.0 -4.9M619.4 365.7l2.4 -1.1M694.8 318.2l1.7 1.9M753.3 504.5l2.2 -3.4M213.6 310.9l2.8 -5.0M316.5 195.0l3.0 -1.5M619.6 359.6l2.3 -3.4M550.4 245.8l5.9 -0.7M714.8 496.2l3.3 -4.2M512.5 316.0l5.3 -3.3M291.5 452.0l2.2 -0.8M607.7 310.3l1.7 -1.6M493.5 281.5l4.6 -2.0M707.5 335.8l3.2 -4.9M265.9 512.0l1.7 -2.0M535.4 342.1l1.8 -1.6M618.0 226.3l3.9 -4.5M379.5 180.6l1.8 -2.5M272.2 202.7l3.3 -2.2M609.7 300.0l2.8 -0.2M589.3 320.0l1.8 -3.7M453.3 444.1l2.6 -2.9M298.4 443.7l3.7 1.5M562.7 251.6l3.8 0.5M308.3 481.6l4.7 -3.7M664.0 327.6l2.7 -2.9M562.4 296.0l1.7 -1.2M749.4 495.3l1.9 -3.4M671.7 221.6l4.4 -3.7M483.3 264.5l2.5 0.1M645.3 262.4l0.8 -2.1M610.7 378.2l3.0 -1.9M180.7 211.9l4.2 -3.1M269.1 457.3l4.7 -0.6M283.9 396.7l4.6 -3.7M247.3 276.9l1.9 -1.2M216.2 216.8l1.6 -1.4M269.8 496.0l2.5 -0.7M472.4 395.2l3.7 -3.4M387.1 200.5l5.2 -2.6M245.5 310.0l5.1 -2.6M307.7 399.8l1.9 -2.4M390.6 211.8l3.2 -0.4M646.0 255.9l1.8 -2.1M294.5 231.9l3.2 -3.7M188.2 259.3l4.0 -1.7M146.2 210.9l4.1 -3.6M293.8 405.7l2.7 -2.3M418.6 384.8l4.3 0.8M651.0 259.1l2.2 -3.3M287.4 481.7l3.0 -2.6M678.7 278.1l1.8 -3.8M374.7 183.1l1.7 -1.8M493.4 326.0l1.6 -1.3M467.3 487.2l3.0 -2.0M403.3 322.4l2.1 3.4M697.3 305.6l3.3 -3.2M273.1 487.4l2.9 -2.5M688.1 358.6l2.5 -0.9M241.4 268.1l3.4 -2.6M528.3 354.7l3.9 -2.1M394.6 350.8l4.8 -2.4M750.1 227.9l3.2 -2.4M199.9 353.9l4.1 -3.7M257.4 281.2l0.8 2.3M644.7 338.0l1.9 2.4M161.8 207.5l2.0 -3.0M482.3 385.8l4.3 -1.8M210.2 215.9l4.9 -4.0M652.9 356.4l1.5 4.4M209.3 259.4l3.9 -4.3M659.0 377.5l1.4 -2.7M200.4 272.1l5.9 -2.3M526.9 268.1l4.5 -3.8M567.0 245.5l3.3 -4.0M692.7 357.6l2.3 -2.4M494.8 261.3l2.2 -2.3M595.0 307.0l3.0 -4.1M238.9 316.4l2.4 -0.7M277.5 275.1l3.2 -3.7M451.0 378.1l2.2 -3.6M264.1 419.3l3.5 -2.3M702.3 411.0l3.4 -2.9M763.2 515.3l4.2 -3.7M686.0 307.5l1.4 -1.5M524.8 244.7l1.8 -2.0M466.0 205.0l4.0 -1.9M616.0 354.6l3.3 -2.1M620.6 263.2l0.9 -2.1M312.6 477.4l1.9 -1.4M460.3 435.1l2.2 -1.4M518.5 374.6l3.8 -1.8M636.8 279.0l5.0 -2.8M376.0 203.1l4.9 -1.3M464.0 387.2l5.1 0.0M496.1 369.2l2.5 -1.7M590.2 305.0l0.4 3.2M482.7 214.1l1.4 -1.8M652.0 317.9l3.5 -4.6M395.5 341.2l3.4 -2.8M353.5 176.3l1.6 -1.7M513.7 465.6l3.6 -4.1M695.4 491.8l1.9 -3.0M666.0 286.0l1.7 1.5M170.7 302.3l3.2 -1.9M457.1 229.1l3.2 -2.8M676.8 344.9l3.8 -4.6M228.3 276.5l4.1 -3.5M426.8 339.3l4.4 -4.5M259.4 225.4l2.8 -2.3M593.6 314.6l2.4 2.4M494.8 283.8l3.4 -1.9M615.6 289.4l1.8 -4.6M206.1 230.9l2.1 -1.9M583.9 305.4l1.8 2.2M524.9 271.2l5.0 -0.1M580.3 347.7l1.6 -3.3M481.2 272.1l2.4 -1.0M601.4 370.0l1.1 6.1M504.3 282.4l4.4 -4.0M272.0 429.0l3.2 -2.7M488.1 495.7l2.3 -1.6M287.6 423.1l3.8 -1.8M206.5 357.0l1.8 3.3M510.5 338.7l4.3 -1.6M706.3 323.1l2.9 -3.4M634.4 237.3l1.6 -2.2M278.5 450.5l4.0 -3.1M596.8 328.8l4.7 -0.1M680.0 354.0l2.0 -5.2M477.9 385.9l1.6 -1.9M370.9 211.7l3.8 -2.3M733.4 515.6l2.4 -3.4M719.0 247.7l1.4 -4.1M628.0 350.6l2.6 -2.9M614.2 316.6l2.0 -3.7M173.0 253.6l1.9 -1.1M248.1 291.8l3.3 2.3M289.5 408.8l1.5 -1.9M505.0 295.7l3.7 -3.0M254.2 246.4l3.1 -2.3M319.2 417.6l3.1 -2.7M493.1 436.3l2.8 -2.0M653.0 236.6l1.0 -1.8M213.3 315.0l3.7 -3.8M707.7 237.2l3.7 4.8M517.1 380.9l2.2 -1.9M550.0 301.4l3.7 -2.7M563.0 268.0l2.5 -3.9M225.4 291.2l1.8 -1.0M620.6 302.9l0.8 -2.2M479.2 275.4l2.6 -1.9M269.3 264.6l4.8 -2.3M561.6 217.5l3.6 -2.2M588.8 284.2l4.0 4.1M702.5 270.6l5.0 -1.2M402.6 370.6l4.7 -3.5M601.4 375.2l3.3 -3.7M596.1 217.9l3.3 -4.7M594.9 249.0l2.2 -2.6M701.5 483.8l1.4 -2.2M515.4 226.6l2.9 -3.0M313.1 413.7l3.1 -3.5M316.4 246.5l4.8 -3.3M173.9 271.6l3.5 -2.1M597.3 234.4l2.1 -2.8M191.5 220.8l1.9 -1.2M576.2 291.0l2.0 -1.3M280.0 534.6l4.1 -2.8M591.0 264.5l1.8 -2.3M664.7 377.3l1.5 -4.1M622.9 256.4l2.7 -3.8M526.5 355.1l3.1 -3.1M211.1 275.7l2.1 -3.0M763.2 237.2l4.1 -4.3M680.6 300.7l3.0 -4.7M743.7 534.6l1.3 -1.6M599.2 303.6l3.9 -4.2M607.6 229.1l1.7 1.4M251.9 268.9l3.0 -3.3M184.2 247.0l3.0 -1.3M670.3 387.4l3.3 -1.2M158.1 212.2l1.7 -2.3M304.7 475.4l4.0 -3.2M263.3 190.7l4.5 -3.6M484.9 427.1l3.3 3.7M482.5 476.3l3.4 -1.7M577.1 310.2l3.1 -3.3M526.6 409.0l4.7 -2.3M586.0 274.4l3.9 -3.8M478.5 486.5l3.3 -1.3M144.6 224.8l2.2 -1.2M458.2 318.0l1.2 2.0M499.1 311.2l3.1 4.1M543.5 275.0l3.0 -3.4M190.6 336.6l2.6 2.8M475.0 469.9l5.1 -1.0M266.2 416.6l2.0 -2.1M665.1 429.6l2.6 -3.5M252.1 394.8l1.8 2.6M591.6 346.8l1.3 -2.0M745.7 527.5l2.4 -3.3M295.5 396.1l3.9 -2.9M489.3 396.3l4.2 -3.6M461.6 471.6l3.7 2.5M219.1 354.3l1.9 -2.1M284.8 259.4l4.2 -3.1M529.1 364.8l1.6 -1.3M466.9 369.2l2.1 -0.1M465.9 348.3l3.4 5.2M407.8 368.6l2.2 -1.7M141.0 268.1l3.8 -4.4M460.1 259.5l3.6 -2.8M216.8 286.0l5.7 -2.4M647.3 357.1l1.6 2.7M259.8 421.3l3.4 -2.7M661.3 382.1l0.9 -2.0M462.9 228.7l2.1 -3.3M679.8 307.8l3.8 -4.9M281.2 204.4l3.1 -2.6M428.0 352.3l4.0 -4.4M621.9 300.7l4.3 -3.9M427.3 281.5l2.2 -2.5M140.2 224.5l3.4 -2.9M486.8 263.7l5.2 -3.7M647.3 328.5l3.2 -4.5M634.2 324.2l2.9 -3.2M461.3 504.1l2.4 -2.2M473.6 461.4l4.0 -2.2M532.1 354.1l2.5 -1.8M314.5 396.8l2.9 -3.8M461.2 470.3l2.4 2.6M696.0 349.4l1.3 -2.7M166.4 277.5l2.1 2.5M282.3 241.4l4.5 -3.9M205.2 295.2l3.6 -1.7M735.2 523.2l3.6 -3.6M553.8 317.7l5.1 -2.5M422.2 348.0l3.1 -2.8M716.9 332.8l0.9 -5.5M494.5 325.8l1.4 -1.4M462.7 208.6l5.3 -1.1M456.3 394.7l3.8 -1.7M716.3 519.5l1.7 -2.4M470.9 377.5l4.3 -4.8M753.0 243.5l2.2 -3.0M539.0 395.5l2.7 -2.5M665.1 369.0l4.8 -4.4M671.6 395.4l3.0 -5.1M390.9 369.7l2.9 -1.2M714.8 426.3l1.0 -1.7M255.7 386.9l2.3 -2.1M637.8 315.3l1.2 -1.8M550.9 331.0l4.9 3.5M556.1 336.6l4.4 -3.8M154.0 215.5l3.2 -2.9M774.9 241.5l1.6 -3.2M588.5 232.9l3.4 -3.1M625.5 227.4l3.4 -5.1M603.9 236.3l1.2 -1.9M187.9 310.6l4.8 0.6M529.9 375.2l2.9 -3.1M659.6 219.5l3.2 -3.9M280.4 263.8l3.1 -1.5M741.9 517.5l2.7 -1.0M190.3 329.2l4.9 -3.1M481.9 489.1l2.5 -1.9M659.9 220.6l2.4 -4.5M728.2 301.4l2.5 -5.1M501.3 404.2l4.1 -3.9M715.6 394.2l3.4 -5.1M166.9 305.4l3.1 -3.8M222.9 241.6l1.4 -1.5M492.0 272.7l1.8 -1.3M730.2 301.7l3.1 -3.8M648.5 362.9l2.6 -0.5M745.7 508.9l1.1 -3.5M304.3 185.2l2.0 -1.7M603.1 346.0l3.1 -5.4M314.4 190.8l2.3 -0.1M260.9 211.5l4.3 -3.9M633.2 342.7l2.2 -3.3M586.1 211.9l3.4 -5.2M159.2 259.9l1.8 -1.8M569.8 310.7l4.1 -3.4M434.0 382.3l5.6 2.5M262.0 470.9l5.7 -3.0M677.4 358.1l6.1 1.4M607.5 206.2l1.5 -2.3M454.9 212.1l2.0 -2.1M265.1 420.9l3.1 -2.8M703.4 417.5l1.8 -3.0M456.0 376.2l4.8 -3.2M441.8 287.8l1.8 -1.4M650.4 251.4l2.9 -3.2M509.9 408.3l2.9 -2.0M758.9 241.9l0.5 -2.1M604.1 356.9l1.5 -5.6M619.5 337.9l2.7 -3.7M296.6 444.9l2.8 -1.5M666.5 320.1l1.4 -3.6M747.0 258.7l1.2 -2.4M246.1 288.2l2.5 -2.9M677.4 388.5l1.2 -2.1M354.6 181.7l3.8 -2.7M726.4 497.3l4.6 4.4M653.5 282.9l0.7 -2.3M741.2 438.2l2.1 -3.2M621.0 347.6l1.3 -1.6M688.8 332.6l1.1 -1.7M644.6 274.8l1.3 -3.0M167.1 310.5l2.6 -1.6M509.5 388.5l2.2 -2.7M169.2 252.0l4.2 -2.2M646.5 328.3l3.1 -5.3M238.4 309.8l4.0 -4.6M313.9 458.2l2.0 -1.1M684.5 275.0l2.1 -3.6M283.9 468.3l4.0 -1.9M403.5 384.8l3.9 -4.5M231.7 402.2l2.3 -2.4M246.6 435.9l2.0 -1.2M522.3 420.5l4.3 -4.2M662.5 362.7l2.4 -2.7M689.7 345.5l2.7 -4.1M599.4 219.0l3.2 -4.9M763.9 444.2l2.7 2.4M596.1 243.0l2.3 -2.3M768.3 446.3l2.4 -1.1M700.6 426.2l1.7 -2.9M750.7 439.5l3.2 -5.1M300.3 413.4l3.7 -2.9M523.2 260.7l1.4 -2.0M316.9 467.6l4.5 -3.3M714.0 423.6l1.5 -4.1M451.4 247.3l5.0 -2.9M219.3 372.2l1.4 -1.5M612.5 239.5l2.4 -3.6M625.7 215.1l1.8 2.2M624.1 323.8l1.5 -4.9M429.5 357.1l3.1 -1.6M737.9 230.7l3.6 -3.0M266.7 458.6l1.7 -1.4M769.1 497.4l2.9 -4.9M476.9 288.4l3.6 -3.2M480.0 350.7l3.2 1.8M465.3 325.2l2.9 -0.5M288.9 458.6l3.7 -0.9M451.3 268.9l2.6 0.7M598.5 276.1l1.1 -2.0M572.2 216.8l2.7 -2.8M498.5 428.8l4.5 -1.8M511.5 459.7l2.0 -1.7M489.7 362.3l1.6 -1.7M656.9 355.7l3.3 -2.8M526.9 335.5l4.3 4.8M519.4 393.8l1.7 -2.6M661.5 274.0l1.5 -2.9M488.8 269.5l1.7 -2.2M176.8 264.6l2.8 -2.6M229.1 413.3l2.1 -1.6M761.5 437.7l4.0 -3.5M551.1 322.4l2.3 -1.9M260.5 269.4l1.6 -2.1M291.2 462.8l3.7 -3.7M722.3 319.4l3.0 -5.4M730.2 497.5l2.2 -0.1M618.2 260.5l2.0 -3.3M255.6 488.9l2.0 -2.1M729.1 233.9l1.7 -2.1M418.5 345.5l2.5 -2.1M748.7 499.7l0.4 2.6M505.8 257.4l4.1 -3.7M616.5 394.1l1.6 -2.7M527.8 293.3l1.9 -1.6M503.0 408.0l4.7 -3.7M457.0 453.5l6.3 0.2M384.0 180.9l3.2 -3.1M659.3 266.5l3.3 -4.8M516.9 227.5l4.0 -3.8M166.6 232.7l4.5 -4.2M267.1 191.5l2.4 -2.7M400.0 328.7l4.4 -1.1M260.7 449.4l3.3 -1.5M701.9 292.9l0.5 2.2M431.4 314.5l2.2 5.3M595.3 286.0l1.8 -2.2M519.7 297.7l5.1 -3.1M381.4 174.7l3.4 -2.9M276.7 500.8l3.7 4.3M244.7 263.0l1.5 -3.2M484.7 409.3l3.3 -1.2M593.1 324.9l1.3 -2.1M508.7 240.1l2.8 -1.8M488.1 374.9l2.0 -1.4M323.5 189.2l3.9 -2.4M595.9 221.2l2.1 -3.0M283.6 184.1l0.7 2.4M346.9 206.6l4.1 -2.5M532.5 330.4l1.8 -1.4M278.7 416.1l1.2 -1.6M594.8 345.3l2.8 -3.9M491.9 405.0l3.3 -3.7M421.3 343.9l3.3 -2.5M263.0 271.7l2.4 -3.0M614.3 349.0l1.6 -2.1M398.4 207.0l2.8 -2.5M144.0 254.1l4.5 -2.6M187.2 287.0l4.7 -4.0M493.1 277.6l3.6 -2.8M718.4 518.5l3.1 -3.4M586.3 292.2l3.9 -4.5M226.1 421.6l5.7 -2.6M391.8 373.6l2.4 -2.6M463.6 431.7l5.3 1.9M603.4 237.8l2.0 -2.1M475.3 467.4l1.7 -1.9M293.2 266.0l5.5 -0.5M702.5 491.2l0.8 -1.9M295.7 465.9l3.2 -2.4M519.8 381.4l5.0 -2.3M531.4 208.1l3.0 -1.8M254.8 490.5l5.2 -3.9M606.7 357.2l1.7 -4.2M475.1 330.0l3.4 -4.2M422.7 329.4l2.4 -3.5M299.7 439.0l3.2 -1.7M232.8 246.9l4.0 -0.9M679.5 258.6l2.8 -3.8M273.5 255.7l3.2 -1.3M200.1 325.2l3.3 -1.9M444.1 330.0l2.1 -1.7M452.8 426.4l3.4 -3.2M667.1 332.6l1.4 -1.9M272.5 416.8l6.0 1.2M589.9 303.4l4.4 -2.9M461.4 345.3l2.9 -1.7M243.0 380.1l3.7 -2.3M471.9 436.9l1.7 -1.1M249.7 451.1l1.9 -1.5M668.0 262.6l1.6 -3.0M315.5 246.6l3.7 -0.1M595.5 232.1l0.8 3.4M699.6 427.0l1.7 -3.3M607.8 384.1l3.5 5.4M282.3 270.6l2.5 -3.6M738.4 492.4l1.3 -1.9M715.6 246.4l1.3 -2.0M182.7 286.3l3.2 -2.9M272.3 392.2l2.9 -2.8M309.9 425.8l3.7 -1.7M506.4 312.5l2.3 -3.6M642.3 301.2l2.3 -3.5M269.8 552.8l4.2 -1.9M476.5 468.1l2.5 -0.5M409.4 375.1l3.4 -4.3M311.5 235.1l4.0 2.5M171.9 323.1l3.1 -3.5M423.5 320.1l2.6 -1.5M757.1 513.1l2.0 -1.9M757.2 496.5l1.9 -2.4M601.4 338.4l2.3 -5.3M622.1 269.6l1.6 -2.7M193.0 273.7l4.5 -4.6M568.5 228.6l5.0 -4.1M480.5 376.4l3.6 -2.1M710.0 429.2l3.0 -2.5M591.1 238.2l4.0 -5.1M230.2 241.3l4.5 -3.8M423.9 241.7l3.3 -2.8M201.6 313.6l5.1 -2.8M534.2 223.6l2.0 -1.3M493.2 242.6l2.4 -1.1M600.1 203.6l2.0 -1.8M459.2 245.7l2.4 -2.5M683.5 230.4l2.0 -4.8M660.6 304.6l2.3 -3.6M648.3 224.8l1.5 -2.5M640.3 271.6l3.7 -1.1M387.5 189.0l5.3 -3.7M518.8 375.1l1.5 -2.4M746.2 472.7l2.0 -5.4M294.5 507.8l4.3 -2.6M738.9 523.4l3.0 -4.9M261.1 375.3l2.0 2.7M292.4 506.1l4.2 -3.4M528.2 281.1l2.8 -1.4M741.0 434.9l1.5 -1.8M291.8 193.1l5.1 -4.0M542.7 228.2l5.8 -2.1M493.5 247.0l2.7 -2.2M662.9 294.9l5.2 -3.1M272.2 549.2l5.0 -1.2M148.1 256.3l2.1 -0.1M261.3 200.4l3.6 -1.9M304.1 458.2l3.5 -1.7M224.2 241.9l4.2 -3.1M684.5 265.2l0.7 -1.9M307.9 486.9l1.9 -2.3M585.1 330.9l1.7 -1.8M705.0 407.9l1.5 -1.9M696.2 278.3l5.7 -0.3M260.7 405.6l2.5 -1.6M683.4 513.6l2.3 -0.3M609.8 383.5l3.2 -4.1M281.7 380.3l3.5 -2.4M474.0 277.2l1.6 -2.1M498.0 492.8l3.1 -1.8M766.3 479.0l2.9 2.8M705.9 418.1l3.0 -3.1M218.0 242.2l4.3 -1.4M677.0 352.3l2.3 -2.0M458.6 340.0l4.0 -1.2M659.8 311.1l2.1 -2.7M547.0 242.0l3.9 -2.5M562.0 241.8l3.0 -4.9M298.8 221.0l4.3 -1.5M755.5 269.6l2.2 -1.9M483.1 330.6l1.9 -1.7M481.4 247.7l2.4 3.7M442.2 276.5l4.9 -2.7M315.3 265.6l2.9 -2.4M570.2 332.7l4.0 0.2M672.2 329.8l4.6 -3.9M487.8 451.1l2.4 2.6M702.5 524.6l0.8 -3.8M242.9 241.3l2.8 -2.9M356.0 225.2l3.7 -2.5M449.6 224.7l3.8 -4.7M454.9 231.3l1.6 -1.6M389.5 350.8l4.0 -1.9M393.5 192.9l5.1 -2.2M584.2 290.8l1.4 -2.8M268.8 267.2l1.7 -2.4M292.3 434.5l2.1 -1.7M162.9 208.9l4.4 -2.4M422.4 299.5l2.4 -1.7M356.1 213.3l2.4 -1.6M479.1 446.9l3.1 -2.5M274.8 190.3l2.2 -2.9M708.6 271.7l3.0 -3.6M615.2 261.3l1.1 -1.8M459.6 497.1l3.0 -0.0M263.1 370.7l3.4 3.0M603.1 347.9l4.3 -4.8M305.4 489.9l1.2 -1.7M203.6 228.6l1.9 -1.4M424.6 280.0l2.1 -2.2M687.6 324.1l1.6 -2.9M759.6 233.8l1.3 -2.1M534.0 230.7l3.8 -2.5M472.1 241.5l5.1 -3.2M325.7 439.8l4.2 2.9M766.1 479.2l1.9 2.5M591.6 256.2l1.4 -3.0M170.6 305.1l5.5 -2.0M462.4 320.4l5.5 -3.0M195.8 346.7l2.7 -0.3M172.3 255.3l5.0 -4.0M674.0 245.5l2.3 -6.0M257.7 432.8l1.8 -1.6M461.8 386.3l2.0 -0.3M371.1 202.2l5.3 -3.5M543.4 253.3l5.4 -3.4M242.1 251.7l5.3 -3.7M450.1 393.8l5.2 -2.7M209.5 225.8l3.6 -3.4M526.1 335.0l2.7 -1.6M599.3 348.6l4.0 -5.1M531.9 332.6l3.6 -2.2M442.5 258.8l1.0 1.8M445.4 354.2l2.3 -1.3M471.9 360.0l3.1 -1.8M280.3 382.5l1.7 -1.2M469.6 424.2l4.7 -1.6M282.9 494.8l2.5 -3.4M501.8 487.3l1.7 -1.4M716.6 280.7l1.8 -2.5M522.8 403.5l2.2 -1.6M710.9 267.7l2.7 3.1M520.7 428.2l3.1 -1.4M599.1 235.9l1.2 -3.1M523.4 416.6l1.8 -1.2M266.0 369.2l4.6 -2.8M226.3 254.4l2.2 -1.9M214.0 317.5l3.9 -4.0M640.6 254.7l2.8 -2.0M272.0 483.1l5.0 -1.3M587.6 238.0l3.1 4.3M524.9 278.6l3.1 -3.3M436.6 321.8l2.0 -2.1M366.3 186.5l3.1 -1.8M207.9 360.9l3.3 -3.5M489.7 411.6l2.7 -1.3M401.9 381.5l1.4 -1.4M807.1 545.8l1.9 -3.6M310.7 451.2l3.6 -3.0M233.7 253.6l2.1 -1.4M737.4 540.3l3.1 -4.5M342.0 215.1l2.7 -1.3M260.6 400.3l2.2 -1.1M341.3 217.5l3.4 -2.7M595.5 274.1l2.1 -0.1M672.2 324.3l5.4 -0.8M469.9 283.9l3.9 -2.0M257.5 382.3l2.8 -1.8M588.5 232.7l2.3 -1.9M153.8 227.4l3.3 -1.5M395.2 200.9l4.5 1.9M555.5 225.1l2.3 -5.6M512.7 424.8l2.3 -1.9M255.8 209.7l4.3 -3.2M699.3 255.4l2.7 -1.4M281.1 275.3l5.0 -2.4M530.4 405.3l4.0 1.1M206.8 278.7l5.7 -2.3M547.9 247.8l4.4 -1.9M485.9 469.8l3.6 -3.7M542.8 325.1l2.8 -2.8M262.2 430.2l3.4 -3.5M584.4 332.0l2.6 -4.1M577.4 310.3l2.6 0.0M537.1 262.0l3.0 -1.5M301.5 223.2l3.4 4.1M375.4 212.5l3.4 4.9M430.8 345.4l3.5 -3.0M281.2 522.2l5.2 -3.4M524.1 315.4l1.9 -2.4M199.2 291.3l3.4 -2.6M477.6 235.4l2.3 -1.8M639.2 239.2l2.6 -0.6M255.1 463.9l2.1 3.2M618.1 355.6l1.6 -2.7M258.9 252.2l6.4 0.0M264.7 203.6l5.3 -2.3M480.2 469.0l4.6 -2.4M241.1 206.1l4.4 -4.2M572.3 304.3l3.9 -2.2M416.4 347.0l5.8 1.0M758.0 480.4l1.3 -1.9M497.6 479.8l4.2 -4.6M657.8 390.2l1.4 -2.1M506.9 365.2l5.2 -3.4M470.9 370.1l3.3 -2.1M267.1 447.0l3.2 -2.3M402.1 376.2l4.7 -2.5M604.1 213.7l1.5 -1.5M702.1 249.6l3.7 -3.7M774.3 518.5l1.5 -2.3M455.3 270.8l2.3 -0.9M602.2 288.9l1.9 -2.0M760.7 229.1l0.6 2.2M283.2 566.0l5.3 -3.8M623.6 360.6l2.9 -5.2M735.4 469.4l3.6 -3.8M197.2 259.5l5.0 -2.2M606.2 315.9l2.2 3.3M306.4 462.6l5.3 -0.3M493.6 232.3l2.4 -0.1M288.5 468.9l4.2 -2.3M666.2 301.4l2.4 -3.6M714.1 423.4l1.4 1.6M420.3 251.6l3.7 -3.3M275.8 453.1l2.0 -1.0M739.1 536.2l1.2 4.4M491.7 380.8l4.2 4.8M427.6 254.0l3.7 -4.9M494.7 224.2l4.9 -2.9M590.7 357.8l3.4 -2.5M404.3 330.0l2.3 -2.3M484.9 343.2l2.3 -2.2M511.7 436.7l4.2 -3.3M528.5 274.8l4.0 -4.8M690.4 498.2l1.2 -2.9M205.1 251.1l2.7 -0.4M447.3 380.6l3.4 -3.0M474.3 247.6l2.1 -1.8M560.9 246.6l1.6 -2.7M204.8 228.9l4.4 -3.1M137.4 232.5l3.0 -2.4M562.0 230.8l4.9 -4.2M530.3 324.0l2.3 -0.2M504.2 385.2l2.3 2.9M537.2 324.3l4.6 -4.5M323.6 438.2l3.8 -0.5M534.9 278.1l2.3 -1.4M524.9 401.3l2.1 -2.0M529.5 333.2l4.7 -3.9M450.0 466.6l2.2 -1.9M176.6 318.1l4.4 -0.8M571.0 341.0l2.9 -0.8M252.3 420.7l3.3 -2.4M575.7 339.8l4.9 -4.1M522.6 308.4l5.2 -3.7M447.4 336.5l5.0 -0.4M680.1 313.8l3.1 2.8M405.8 185.3l4.1 0.0M760.1 491.0l2.5 -4.6M258.9 262.3l4.2 -2.8M239.8 293.2l2.0 -1.6M704.6 249.6l2.1 -4.2M479.6 495.7l2.7 -2.7M501.2 409.3l4.3 -2.9M242.9 312.1l2.2 -1.4M683.5 235.1l1.4 -2.1M468.1 507.3l2.6 -1.2M589.4 265.3l2.8 4.5M161.2 241.9l2.5 5.5M563.4 249.9l5.4 0.8M668.6 352.8l2.1 -4.1M282.0 274.9l4.8 -2.5M565.6 231.4l2.8 -3.6M647.2 338.7l1.4 -2.4M601.9 321.4l5.0 -0.1M597.5 302.7l1.1 -1.9M289.7 236.6l2.9 -3.1M567.2 278.1l2.3 -2.1M713.0 506.6l1.2 -1.9M290.5 228.1l1.9 -1.2M564.3 257.5l4.0 -3.3M619.2 245.1l1.7 -3.1M423.3 375.5l3.8 -3.4M165.0 273.0l4.9 -2.8M631.0 322.4l3.2 -4.3M415.4 389.5l4.0 -2.6M538.9 279.8l1.0 4.2M633.2 307.2l3.4 1.8M487.7 242.8l3.1 -2.3M638.9 237.2l2.9 -5.2M184.4 262.6l2.7 -1.0M231.5 301.5l2.9 -1.9M601.3 276.4l4.3 -4.3M274.6 480.6l2.3 2.9M294.0 268.0l5.4 -2.0M679.6 292.5l2.9 -3.2M487.8 366.1l3.9 -1.4M524.1 291.3l3.9 -2.6M140.5 246.5l4.2 -1.1M692.2 306.2l2.8 -2.0M228.6 235.3l3.1 -3.8M210.5 250.8l3.9 -4.9M284.8 206.4l4.5 -1.3M760.4 456.1l2.1 -3.5M743.8 244.0l3.4 5.4M655.0 308.2l3.5 -4.3M587.2 275.0l2.7 -3.1M608.0 345.3l1.7 -2.9M540.9 252.8l3.9 4.0M278.6 499.1l2.5 -1.8M660.9 229.4l1.8 -4.1M232.4 252.4l2.4 -1.7M410.4 185.5l4.1 -2.7M217.5 360.6l4.6 -4.3M412.5 190.7l5.2 -2.7M299.6 263.3l3.8 -3.6M157.7 229.1l5.9 0.6M670.6 243.0l2.2 -2.0M705.2 506.8l3.5 -4.0M186.2 210.5l4.5 -4.3M465.2 242.6l3.1 4.4M755.1 530.2l1.4 1.9M451.5 230.7l3.2 -2.1M694.6 325.3l4.1 -4.6M467.9 333.1l3.9 -2.5M481.6 406.2l4.5 -3.5M677.3 251.4l4.9 -0.5M241.4 392.3l4.5 -3.9M288.8 451.5l2.5 -1.8M494.2 283.3l4.0 -3.2M557.6 286.2l3.0 -2.4M502.4 436.1l3.5 -2.2M277.9 439.3l3.4 -3.1M408.7 373.4l3.1 -1.7M709.8 288.6l3.8 -0.8M808.9 543.1l2.1 -2.6M260.1 471.1l1.9 -2.3M446.2 310.8l2.7 0.6M391.3 179.3l3.9 -3.4M151.8 260.2l1.7 -1.1M610.8 222.5l1.9 -3.1M503.3 236.9l2.4 2.1M641.0 318.7l3.5 0.2M214.5 352.8l3.9 -2.4M275.0 243.9l3.5 -1.9M458.6 438.4l4.6 -3.2M611.7 233.9l2.0 -2.8M156.8 263.2l3.2 -4.7M189.4 331.0l4.0 -2.5M475.8 209.9l2.4 -2.9M452.0 423.9l4.2 -3.0M481.3 217.1l4.6 -3.2M674.4 313.4l2.2 -2.9M431.1 336.1l4.7 -3.9M761.9 469.6l1.7 -2.5M445.7 322.2l1.8 -2.7M183.9 285.2l2.9 -4.9M256.0 481.6l3.8 -3.6M487.5 508.2l3.2 -1.9M486.4 325.9l3.0 -0.7M300.8 492.4l2.6 -1.7M236.0 264.1l1.9 3.0M549.2 293.8l4.1 -4.2M407.7 357.8l2.0 -0.4M187.9 276.0l4.8 -2.8M282.0 397.7l2.7 -2.1M747.4 508.5l1.1 -2.3M246.1 209.1l3.1 -2.4M184.0 258.2l3.7 -3.3M288.6 197.1l2.0 -1.5M497.3 350.7l2.7 3.2M188.3 230.2l2.8 -1.2M426.9 284.2l1.6 -1.4M600.3 255.6l3.8 -4.1M490.7 265.6l3.5 -2.7M604.6 348.6l2.1 -3.5M480.5 417.7l3.5 -3.2M191.8 252.1l1.4 -2.1M217.5 363.8l1.9 -1.0M479.1 385.5l2.9 -2.2M662.9 355.3l1.4 -2.8M348.9 195.7l2.6 -0.4M470.3 508.2l3.2 -2.8M542.7 358.7l2.7 -5.3M463.0 368.9l2.3 -1.7M535.9 371.7l3.5 -3.4M206.9 349.7l3.5 -2.7M354.2 230.3l3.3 -2.5M312.2 405.9l3.0 -1.2M184.7 266.9l3.4 -2.2M536.4 390.7l4.1 -2.4M225.4 281.2l3.5 -1.5M450.4 316.2l2.5 -2.8M470.7 289.4l1.2 1.9M221.7 302.1l1.9 -2.5M201.9 232.7l3.6 -1.5M619.9 343.6l2.7 -3.7M369.6 217.5l3.5 0.2M482.6 433.2l6.2 1.5M555.2 342.1l2.7 -3.5M691.7 284.1l4.4 -3.8M540.0 274.5l2.3 -1.5M492.0 456.0l1.6 -1.5M468.0 476.7l3.7 -3.5M156.7 268.5l3.9 -1.7M194.9 342.0l1.9 -1.7M265.4 526.0l5.4 -3.2M490.3 330.8l3.8 2.0M477.3 332.1l2.4 -1.3M453.6 251.3l5.5 -0.7M500.8 432.3l3.7 -4.0M663.7 276.2l3.3 -4.1M566.6 325.7l3.6 -4.4M263.8 514.5l1.9 -2.3M450.2 453.5l2.3 -2.9M500.0 350.8l4.3 -3.1M591.2 223.5l3.5 -1.0M185.7 343.0l2.3 -2.5M417.1 382.7l2.5 -1.3M533.4 220.7l1.6 -3.4M527.9 464.8l5.1 -2.2M647.6 345.2l3.8 -4.7M204.0 276.9l3.7 -3.5M227.8 230.6l4.1 4.2M189.9 356.9l4.3 -3.8M176.7 202.2l3.4 -4.3M252.9 261.4l2.9 -1.2M514.9 460.5l3.1 -1.5M500.8 448.6l5.4 -0.7M218.0 292.0l2.3 -2.1M662.4 290.1l3.3 -4.9M283.7 514.4l4.5 -3.0M215.8 371.2l3.3 -3.1M485.8 265.9l5.2 -1.7M454.4 376.2l3.3 -0.3M153.1 284.4l4.6 -4.0M265.0 539.2l4.4 -3.7M302.3 410.3l1.8 -1.6M560.3 335.0l2.7 -2.1M347.7 222.3l3.0 -2.1M275.0 503.8l1.8 3.0M625.4 357.5l2.9 -0.0M262.4 445.2l4.5 -3.6M503.1 470.2l4.5 -0.9M696.2 270.2l0.9 -1.8M540.6 219.0l4.8 -3.6M461.2 428.4l2.8 -0.2M498.8 280.2l5.1 -3.5M425.6 241.6l3.1 -1.3M489.4 366.9l3.3 -2.2M172.9 293.9l4.1 -2.4M310.3 202.5l5.0 -3.9M151.6 281.5l3.2 -2.4M522.2 245.9l2.2 -1.2M707.6 263.7l2.7 -3.7M679.9 267.7l2.0 -3.0M479.7 437.5l3.5 -4.0M248.2 289.7l2.3 -1.4M496.7 251.4l2.3 -0.2M702.1 325.0l1.5 3.1M260.8 445.7l3.4 -3.5M286.5 246.7l2.0 -1.7M671.2 327.3l2.9 -3.8M540.0 269.6l4.3 -2.5M147.8 211.0l3.9 -3.0M369.1 199.0l3.9 -0.4M511.3 370.7l2.2 -2.6M290.7 404.5l3.1 -3.2M602.1 244.4l3.8 -0.7M415.9 378.2l3.4 -2.4M215.5 252.2l5.1 -3.3M548.8 283.9l3.0 -2.6M427.9 388.2l4.7 -3.6M529.0 382.0l4.1 -3.7M589.2 227.9l3.9 -4.4M711.3 323.4l2.8 -5.7M308.4 410.1l2.3 -1.9M185.8 327.2l3.8 -0.4M649.3 260.7l2.6 -5.4M658.0 311.3l2.3 -4.1M478.9 351.3l3.1 -1.5M256.5 493.0l4.1 3.0M550.8 264.9l5.2 -2.8M715.3 512.8l3.4 -5.3M760.8 522.1l2.0 -5.8M191.6 245.8l2.7 -2.2M172.8 232.0l5.3 -1.8M462.0 362.6l4.3 -3.5M744.9 466.2l2.7 -4.9M486.6 508.7l4.7 -4.1M413.0 355.2l2.0 -2.2M478.0 349.2l2.9 -3.6M438.2 356.2l3.1 -5.6M512.1 382.3l1.8 -0.9M485.0 283.2l2.8 -2.0M161.5 236.8l3.9 -4.2M296.0 438.8l3.1 1.9M474.2 424.8l3.6 -3.3M745.8 510.8l1.8 -2.1M289.5 481.2l5.1 -2.9M688.4 309.2l3.1 0.5M493.2 385.8l4.0 -3.4M446.2 404.9l4.8 -3.9M601.0 220.9l5.5 1.4M307.2 208.1l2.0 -1.4M271.9 386.5l1.8 -1.6M554.7 261.0l4.8 -2.6M273.9 186.6l3.5 -2.2M210.5 281.3l5.2 -2.9M741.7 487.3l4.1 -4.4M807.7 547.2l1.4 -1.6M317.4 262.7l1.6 -1.4M286.9 418.8l2.3 -0.7M678.0 267.5l1.1 -1.9M563.8 293.9l2.9 -4.0M580.0 308.0l3.0 -3.8M661.8 270.5l3.2 -3.1M392.2 345.6l2.8 -5.1M599.9 312.1l2.2 -4.5M282.1 451.2l3.4 -2.4M441.2 390.6l3.4 -2.9M564.2 221.8l1.6 -1.7M430.7 320.6l3.0 -1.5M637.0 284.7l2.1 -3.3M277.4 272.6l4.8 -3.6M441.2 388.3l2.5 -1.2M264.4 430.0l2.0 -1.8M565.6 213.2l5.2 -0.2M637.2 342.6l2.1 -0.6M285.9 434.0l3.1 -3.3M513.8 298.9l2.0 -1.8M286.1 405.0l1.7 -1.3M639.6 226.5l2.6 -3.4M263.7 402.6l4.0 -2.8M662.5 418.8l1.6 -1.4M159.9 211.1l3.1 0.1M489.9 327.7l3.5 -2.1M638.5 238.5l2.7 -3.4M743.8 467.8l0.9 -3.5M327.0 444.5l4.5 -3.4M260.0 240.1l1.9 -1.2M718.5 393.2l3.2 -4.8M749.4 524.1l3.7 -5.3M613.5 354.7l2.0 -2.6M463.9 398.6l4.1 -2.2M412.3 369.6l4.1 -2.1M650.4 292.8l1.1 -3.2M657.5 400.6l4.9 -4.1M237.7 310.4l3.8 -3.0M231.3 280.7l5.5 -2.9M730.2 529.1l2.0 -3.1M341.8 193.5l3.4 -1.8M685.9 298.7l1.0 2.3M473.6 506.7l3.2 -2.3M202.4 315.3l3.4 -2.1M185.1 209.5l4.2 -4.5M627.9 279.8l2.8 -3.5M700.8 263.7l2.2 -5.9M533.0 326.0l5.7 -2.2M459.6 395.2l2.3 -1.0M518.0 274.2l3.9 -2.8M270.7 379.7l3.7 -1.6M360.1 218.3l4.0 0.0M431.1 326.2l2.8 -2.0M481.8 358.0l2.2 -0.5M220.3 249.3l2.8 -1.6M690.2 319.0l2.4 -0.3M517.2 416.5l3.2 -3.5M710.3 306.0l2.4 -2.9M246.6 450.9l2.2 -1.6M640.8 345.2l2.3 -3.5M296.2 210.4l3.2 -2.0M597.2 257.9l2.2 -5.9M507.7 454.5l3.1 -4.4M765.2 495.1l3.2 0.4M619.5 214.6l2.0 -2.0M673.8 435.3l1.9 -2.7M319.5 473.0l2.5 -1.6M479.1 222.2l2.4 -1.9M264.0 257.1l2.9 -3.1M614.0 214.3l2.2 -3.5M659.1 283.4l3.4 -4.7M263.9 504.4l1.8 -1.1M451.5 387.0l2.9 -2.9M640.3 235.3l3.6 -4.0M640.1 232.0l2.1 1.8M279.2 532.6l5.1 1.1M421.8 264.6l4.5 -2.6M744.4 524.2l2.4 -5.6M261.1 422.6l4.0 -2.8M218.9 213.1l5.7 -0.2M150.7 252.0l1.2 -2.4M524.9 347.4l3.4 -3.2M632.5 213.1l1.3 1.6M381.6 212.1l4.3 -3.9M483.9 310.3l2.6 0.1M348.3 216.7l5.1 -1.0M573.3 348.8l2.5 -3.8M291.0 462.9l2.0 -1.4M506.1 436.7l4.0 -2.8M277.9 263.1l2.7 -2.7M155.9 297.8l3.3 -2.2M412.0 291.3l4.7 -2.7M347.1 232.4l2.0 -1.2M301.5 217.5l1.8 -1.3M679.0 275.7l4.0 -4.1M465.2 415.2l5.0 -3.5M660.6 392.6l2.5 -2.9M468.6 203.2l4.4 3.4M212.4 256.9l2.6 -2.8M164.3 199.1l1.6 -1.4M292.6 252.7l2.5 -4.5M259.2 447.7l1.2 -1.6M503.3 475.9l4.3 -2.8M209.7 278.5l5.1 -2.2M569.4 311.8l2.6 -3.6M477.3 398.6l2.8 -0.5M613.5 302.5l1.0 -1.9M553.7 357.1l4.2 -2.9M523.2 484.0l4.4 -3.3M242.9 399.0l3.9 -2.1M654.1 302.9l0.4 -2.1M513.8 405.1l3.8 -2.2M642.3 305.4l4.5 -4.4M547.3 308.6l4.6 -4.2M452.9 360.1l3.0 -5.1M693.4 293.7l2.2 -3.5M458.0 239.0l4.7 -4.2M328.2 447.2l2.9 -1.6M578.7 223.2l5.4 -3.0M186.5 353.0l4.7 -0.8M528.3 275.2l6.3 0.2M276.9 443.8l2.3 2.0M722.1 279.6l4.0 -4.3M653.2 407.8l3.5 -3.9M532.8 314.4l2.3 -2.2M566.8 247.4l2.8 3.3M223.0 290.8l1.0 6.2M568.3 335.7l2.9 -4.0M695.5 345.1l3.3 -3.6M451.1 276.8l4.4 -2.4M715.1 228.7l2.8 -3.4M728.1 514.1l2.8 -4.8M150.8 291.1l4.3 -2.8M379.9 190.4l3.1 -1.3M494.5 428.8l3.7 -3.3M704.9 270.8l1.7 -1.8M698.1 248.5l2.1 -0.9M483.5 231.0l3.1 -4.0M285.8 563.5l5.3 -1.6"/><path stroke-width="1.1" d="M168.6 316.5l3.9 -2.6M680.2 365.1l1.7 3.4M384.7 365.6l5.0 -2.4M672.9 332.2l3.1 -4.8M541.8 260.5l3.2 -2.7M393.1 371.5l4.2 -2.7M246.7 295.6l2.7 -1.8M710.6 265.9l1.0 -2.9M156.2 257.8l0.6 4.7M612.9 344.1l2.7 -5.6M240.0 251.8l2.0 1.1M444.6 268.8l1.8 -1.7M552.8 261.5l2.4 -1.0M445.2 294.4l1.3 -1.7M264.3 259.3l3.5 -1.2M297.9 190.4l2.5 -2.9M669.9 239.1l3.0 -3.0M461.4 237.4l1.6 -1.5M469.2 456.5l3.8 -3.0M306.4 459.9l3.1 -2.3M387.6 177.6l4.0 -3.7M659.2 343.6l2.3 -3.7M547.1 323.4l4.6 -4.2M246.1 299.3l4.0 -2.1M707.8 267.7l2.8 -5.2M591.7 349.1l3.7 -3.8M568.4 323.7l2.7 2.8M306.0 263.8l2.8 -4.5M455.8 439.7l4.8 -2.9M582.8 268.5l4.6 -2.2M712.8 492.6l4.5 3.6M302.7 467.7l3.6 -2.8M193.4 244.9l1.6 -1.9M149.3 218.5l3.2 -3.1M458.3 376.2l3.8 0.3M654.8 404.4l2.1 -0.1M234.4 251.2l4.5 -0.3M425.4 367.4l4.7 -2.3M170.2 261.2l2.2 -1.8M315.3 208.9l2.9 -2.2M617.0 297.0l2.6 1.6M264.6 256.5l3.3 5.2M444.1 262.6l2.2 -2.0M490.1 466.7l2.6 -1.1M371.3 202.5l1.7 -1.9M459.1 271.9l2.6 3.6M272.3 259.8l4.3 -4.5M293.0 429.4l4.0 -1.5M777.3 459.1l4.1 -1.5M181.2 201.8l6.0 0.2M588.3 264.8l2.0 -2.8M343.6 228.2l4.5 -4.0M330.7 430.9l5.4 -1.8M273.5 257.1l3.2 -2.0M656.0 287.8l1.1 -1.8M406.6 183.4l5.2 -1.4M203.8 289.8l5.0 1.0M244.0 311.5l3.4 -3.8M511.1 381.4l1.3 -1.8M300.5 430.1l5.1 -0.0M263.3 501.1l2.5 4.0M244.9 310.0l3.2 -2.2M288.4 206.0l3.7 -3.3M139.2 250.5l3.7 -3.5M438.9 297.0l2.8 -2.8M245.2 399.6l1.4 2.5M325.3 460.3l3.6 -4.9M439.5 342.4l4.5 -1.5M727.5 486.7l2.6 -3.7M613.5 258.2l3.3 -3.9M181.1 258.0l3.6 -1.1M772.8 513.0l3.3 -3.2M523.8 247.0l3.2 -2.8M182.3 242.7l3.4 -1.8M694.3 263.6l2.3 -0.5M542.2 270.0l4.9 -3.7M424.7 311.9l2.9 -2.8M598.8 261.9l2.5 4.6M577.4 294.5l3.7 -3.7M751.9 234.2l3.6 -4.9M500.8 314.7l2.8 -1.4M270.9 413.7l4.0 -3.1M236.2 280.2l4.3 -0.4M482.8 480.0l4.3 -2.9M280.2 454.6l2.7 -1.8M622.3 299.5l1.0 -2.1M229.4 245.7l3.7 -2.6M264.1 251.9l3.0 -0.5M239.0 421.8l4.7 -4.1M704.1 287.2l2.4 -5.0M260.7 515.3l3.0 -2.3M701.8 290.7l2.5 -2.2M660.7 219.9l2.1 -4.1M339.9 177.2l1.8 -2.0M268.4 370.7l3.5 -3.7M508.6 407.4l2.6 -3.7M462.3 447.1l4.7 -4.0M181.0 283.9l2.7 -1.0M439.2 369.9l2.3 -3.3M341.5 209.2l3.1 -1.4M215.1 259.6l3.8 -2.2M260.6 246.2l4.5 -3.1M203.0 223.3l2.9 -0.9M601.0 376.4l1.6 -1.5M651.7 281.2l2.6 3.8M504.3 324.4l4.5 -1.6M493.3 362.6l2.3 -2.4M559.8 216.3l1.7 -1.8M654.7 367.8l2.7 -3.3M426.8 258.0l4.4 -4.8M298.2 195.0l3.7 -3.6M258.3 506.4l2.4 -2.0M655.7 298.7l4.3 -4.5M310.1 447.9l2.6 2.3M248.2 447.7l3.7 -1.6M717.6 236.7l2.0 -3.5M279.2 423.5l1.6 -1.5M255.5 518.9l2.6 2.3M411.8 366.0l2.0 -3.2M655.4 227.0l2.2 -0.2M678.5 310.5l1.7 -1.5M472.8 325.4l1.1 -1.9M682.9 364.8l4.7 -4.5M637.8 240.8l6.3 0.9M389.4 211.5l2.2 3.3M199.1 292.8l3.5 -2.1M498.3 226.9l3.4 -3.7M513.7 358.3l0.3 4.9M518.6 301.6l3.6 -2.9M407.6 390.6l4.8 -3.5M724.5 472.7l2.8 -3.9M488.3 440.9l5.8 -3.0M301.7 485.4l4.8 4.2M559.7 326.9l2.1 -2.1M568.9 217.6l2.4 -3.8M244.8 252.0l2.3 3.0M509.4 432.0l6.1 -0.8M277.7 412.6l6.2 0.1M654.9 317.7l3.5 -3.8M459.2 392.3l3.3 -3.6M191.6 287.1l4.2 -3.5M704.2 315.1l1.1 -2.4M251.5 416.5l2.3 -1.8M499.2 331.8l4.0 -3.3M347.2 201.8l5.1 -3.6M474.8 227.9l1.5 -1.6M501.8 373.3l1.9 -1.6M491.6 231.4l3.8 -2.7M651.6 324.4l2.4 -4.4M614.2 294.8l3.2 4.9M630.7 229.4l1.9 -1.8M661.2 385.0l4.2 -4.1M470.2 245.3l4.2 -3.5M758.6 455.4l2.1 -2.5M512.3 381.8l2.7 -2.6M142.7 213.9l3.5 -2.6M420.9 281.8l4.4 -4.1M520.6 276.4l3.7 -2.3M685.2 327.4l2.1 -2.6M205.7 258.6l3.8 -2.1M744.3 466.1l2.3 -3.8M690.6 301.4l1.6 -1.9M491.3 314.0l5.7 -2.9M189.3 277.6l1.9 -1.8M409.6 359.6l2.8 -3.6M378.7 211.2l1.7 -3.7M549.9 306.5l3.4 -1.8M279.0 373.2l3.8 -3.3M644.9 329.5l2.4 0.9M700.3 294.0l1.5 -3.1M141.3 231.2l4.7 -3.4M179.6 294.4l0.9 3.5M575.2 272.7l2.2 -3.8M484.8 296.1l2.3 -2.8M560.6 221.4l3.5 -3.4M548.5 279.2l2.1 -2.2M288.7 375.8l4.0 -2.5M458.8 327.0l1.2 -1.7M291.2 476.9l3.5 -0.2M742.6 521.5l2.8 3.9M498.7 244.8l5.4 -2.9M460.9 434.9l2.3 -1.6M513.2 327.2l2.8 0.1M491.8 283.0l3.7 -2.2M221.2 366.4l2.2 -1.3M232.2 289.4l1.6 -1.3M218.3 287.2l5.6 -2.7M548.8 370.4l1.6 -1.7M255.9 377.2l2.3 -1.1M726.1 243.2l1.4 -2.2M284.6 565.4l4.9 -2.8M237.1 209.6l4.2 -4.0M539.6 255.8l3.9 -2.7M539.1 246.4l3.2 -1.2M390.5 357.2l3.3 -1.9M220.1 342.3l1.9 -1.6M426.1 253.0l1.8 -1.6M190.0 284.4l3.8 -2.0M446.5 314.6l1.9 -1.2M472.5 494.3l2.9 -1.8M528.7 406.2l2.4 2.6M361.1 224.6l1.6 -2.0M488.2 350.2l3.4 -2.4M369.5 219.7l1.6 -1.3M256.3 258.2l3.7 -5.3M181.7 326.9l4.2 -3.0M609.3 304.9l1.4 -1.5M408.4 192.1l4.6 -2.9M624.0 366.9l2.4 -2.9M451.5 406.4l3.9 -2.4M463.7 378.9l5.8 -2.9M162.5 307.1l1.4 -1.7M553.5 226.5l1.9 -2.5M509.4 265.3l2.6 -3.5M655.1 275.1l3.2 -3.0M142.3 233.2l3.8 -3.6M191.4 257.3l2.2 1.4M247.2 392.4l4.2 -2.0M437.9 346.6l2.2 1.2M458.8 474.6l5.6 -2.6M641.2 240.0l2.6 0.1M651.4 310.9l2.4 -4.5M453.6 287.0l2.3 -1.4M680.4 374.6l2.5 4.3M714.1 308.3l3.3 1.4M702.3 303.4l1.3 -2.0M616.1 219.1l1.3 -2.1M484.4 401.5l5.3 -3.0M250.1 202.6l3.3 -2.1M430.5 294.8l5.2 -3.8M674.3 355.0l3.1 -3.2M495.8 497.1l3.9 -4.7M284.5 270.3l5.4 0.5M390.5 207.8l1.7 -1.7M282.5 514.5l3.1 -1.9M255.3 217.5l3.9 -3.9M750.0 246.1l1.4 -1.8M544.4 270.1l3.4 -1.5M309.1 452.9l4.1 -4.2M235.9 425.2l3.1 0.8M216.6 283.6l3.4 -0.6M545.7 328.6l4.8 -0.4M466.2 442.3l5.1 -0.3M248.7 458.4l3.2 -2.0M475.0 219.3l3.1 -2.1M699.4 493.4l3.3 -5.1M184.9 257.7l2.1 -1.8M303.4 212.0l4.9 -3.1M724.1 399.0l3.0 -1.0M671.3 362.2l3.4 -2.5M349.8 176.2l5.0 -4.0M647.3 232.3l4.4 -4.5M524.6 387.3l5.4 -3.5M582.0 263.2l2.5 -5.0M315.3 248.9l4.3 -3.3M369.0 216.4l4.4 -2.8M493.4 276.4l3.1 0.5M706.3 303.3l2.7 1.8M526.4 322.6l2.5 -2.4M690.9 511.4l1.4 -1.8M655.0 248.5l1.8 -1.1M235.0 294.6l4.8 -3.2M449.1 394.2l4.1 -4.7M712.1 335.1l3.6 -4.9M406.3 307.6l2.7 -3.8M561.6 272.4l1.8 -1.6M178.0 302.0l2.8 -3.9M458.5 287.3l5.4 -3.0M708.1 251.1l2.2 -2.4M237.0 220.0l4.9 -4.0M655.8 285.6l2.5 -3.3M678.6 265.2l3.1 3.4M645.7 309.0l2.4 -5.9M605.9 388.1l2.9 -4.2M535.6 316.3l1.6 1.3M456.2 476.6l6.4 0.6M305.2 250.0l4.4 0.4M730.2 239.7l4.4 1.8M394.3 359.5l1.0 2.1M500.3 436.5l2.1 -2.1M592.1 218.3l3.8 -0.0M332.8 441.9l2.5 -0.6M255.1 498.4l2.0 1.9M194.0 216.4l2.2 -1.6M607.7 206.3l3.1 -1.5M186.3 306.5l2.5 -1.8M720.0 515.5l2.2 -2.7M223.6 216.3l2.4 2.3M195.6 297.5l5.5 2.0M430.4 306.5l3.3 3.2M255.7 241.8l1.5 2.0M638.3 286.2l2.6 -2.3M272.7 455.9l2.4 -2.3M657.0 360.3l2.6 -4.5M250.2 401.4l1.9 -1.6M473.6 247.6l4.3 -4.3M502.9 484.3l3.1 -0.6M479.4 464.7l4.4 -3.5M531.1 342.9l3.0 -2.2M551.0 233.6l5.2 -3.8M472.6 495.0l4.3 -3.7M660.7 300.8l5.1 0.5M505.4 226.6l3.0 -2.9M520.8 426.1l2.0 -1.0M446.8 308.3l5.7 -2.5M497.5 488.6l2.3 -1.0M465.7 424.5l1.6 -1.9M591.4 339.0l2.5 -3.0M393.5 194.4l1.7 -1.3M516.1 392.4l3.5 -2.1M613.8 303.4l2.9 3.7M282.7 405.9l4.5 -4.3M244.7 390.6l4.8 -3.9M304.7 220.6l2.5 -0.9M177.1 284.2l4.6 -3.1M526.2 235.3l5.3 -1.5M590.8 221.5l5.5 -0.8M646.3 254.4l2.2 -2.2M407.2 221.2l1.1 -2.0M317.6 193.9l2.3 -1.1M153.7 212.2l3.6 -1.2M349.6 192.8l1.5 -1.9M490.9 370.4l3.0 -2.7M452.1 244.2l4.0 -3.0M458.5 262.3l2.3 -1.2M701.5 521.5l1.4 -1.7M479.8 365.5l2.8 0.2M484.3 340.1l3.6 -3.7M419.7 291.9l4.6 -3.5M735.1 532.7l1.8 -2.0M734.0 533.9l2.5 -2.7M689.8 299.6l1.5 -1.6M471.5 270.5l3.1 -3.3M608.6 230.3l1.3 3.5M197.1 223.6l2.3 -1.4M663.0 346.0l1.2 -3.5M562.7 362.0l1.6 -3.3M459.6 291.7l4.8 -3.9M610.7 362.6l1.3 -2.1M729.6 489.7l4.5 4.2M136.9 218.8l2.0 -2.1M515.4 337.0l2.0 -1.2M537.3 365.0l3.0 -2.8M477.3 294.0l5.7 -2.4M531.8 306.0l3.5 -4.0M661.1 232.3l2.9 -4.6M666.8 418.3l1.4 -1.6M480.7 224.2l2.2 -0.6M248.8 440.1l3.1 -4.0M476.8 484.6l3.7 -2.6M513.6 427.2l4.8 -2.5M188.0 298.3l2.3 -2.8M300.7 386.7l4.6 -2.5M741.8 553.9l2.9 -3.5M267.5 217.0l4.0 -3.3M603.5 236.8l4.1 -3.9M687.0 296.6l5.0 -1.2M670.5 374.2l1.3 -1.8M686.1 514.7l1.5 -1.9M516.2 414.1l1.5 -2.3M277.9 449.6l2.9 -3.1M210.1 361.4l3.0 -2.8M219.5 267.2l1.3 1.8M476.7 497.4l3.8 -2.5M498.2 227.8l3.9 -2.4M464.9 263.2l3.6 -3.1M455.5 482.0l2.5 -2.3M755.1 489.8l1.9 -1.9M766.6 245.2l2.8 -3.3M467.0 349.1l4.1 -4.3M271.5 381.3l4.2 -3.7M266.9 396.8l3.5 -2.4M545.0 250.9l4.9 -3.9M573.7 241.0l1.4 -1.5M290.7 461.5l2.2 -1.6M162.1 267.2l1.6 -1.4M758.8 481.8l2.2 -2.8M447.4 353.6l4.6 -2.7M699.1 289.6l4.6 3.6M677.1 442.7l2.2 -2.9M635.7 285.6l1.3 1.9M384.8 187.9l3.8 -2.6M731.7 505.0l3.4 -4.7M596.8 291.1l1.9 -2.7M436.8 378.3l2.9 -3.3M551.0 240.5l1.7 -3.3M582.7 311.3l4.0 -3.9M483.2 282.1l1.8 -2.3M489.7 341.6l1.8 -3.0M253.9 287.2l2.0 0.5M248.5 226.8l4.7 -3.6M668.6 378.9l1.7 -2.5M708.7 316.5l6.3 -0.8M596.5 288.3l2.3 -2.7M558.0 352.3l2.9 -2.3M432.7 295.2l3.2 -4.6M709.6 439.1l3.6 -4.5M582.2 312.1l1.4 -1.4M680.1 326.7l5.2 -3.7M228.4 241.6l3.3 5.6M689.1 252.7l4.1 -5.0M301.8 480.1l2.7 -4.2M745.5 546.0l1.8 -1.8M681.6 371.4l1.5 2.0M559.8 220.7l5.2 -0.7M523.5 278.6l2.0 -1.0M426.5 395.9l3.4 -2.8M275.0 442.6l3.8 -4.7M281.3 502.4l2.8 -5.0M604.6 246.0l3.5 -4.3M350.1 210.5l1.6 -1.7M189.1 298.4l1.4 -1.6M283.9 203.8l2.4 -1.3M447.6 233.9l1.6 -1.4M412.6 340.4l2.2 -1.6M719.6 495.7l3.2 -5.1M375.9 208.4l4.7 -3.9M446.6 329.3l3.6 -1.3M469.8 415.2l1.7 -1.3M518.9 281.1l4.2 -2.1M436.0 273.0l2.4 -0.5M453.9 412.8l1.9 4.5M160.3 299.5l5.6 -1.9M718.7 228.6l1.1 -2.8M282.2 190.1l3.1 -3.8M157.1 224.8l4.6 -3.8M507.8 417.3l2.8 -2.4M537.4 327.6l2.8 -2.4M181.5 347.7l3.0 -2.4M144.9 252.8l2.3 -1.8M530.0 234.8l0.5 2.6M494.6 230.4l2.5 -2.0M394.8 365.8l2.1 -1.6M488.4 492.0l3.7 -3.3M593.3 355.2l2.8 -4.8M328.3 451.7l4.2 -3.6M286.9 416.6l3.3 -2.7M565.7 337.5l2.8 -0.8M169.2 311.7l1.6 1.4M221.0 311.2l4.2 -2.2M504.4 422.8l4.0 -2.8M383.1 181.9l3.8 -2.9M597.0 345.7l2.4 -4.8M450.5 380.3l3.7 -4.4M609.9 390.8l5.3 -1.4M312.1 468.6l3.8 -3.3M495.0 481.4l3.2 -2.7M488.3 457.4l5.3 -3.4M469.7 467.2l2.6 -1.7M735.9 465.2l1.4 -2.6M255.8 296.4l3.8 -1.9M264.9 256.2l4.5 -4.4M460.1 215.7l3.3 -3.4M614.5 270.6l1.2 2.4M449.1 286.7l2.5 -0.5M466.5 333.3l2.0 -0.5M421.8 322.9l4.3 -3.1M180.3 216.9l2.2 -1.7M735.8 529.2l3.5 -4.2M526.7 412.6l4.1 -4.3M657.4 367.6l1.4 -2.9M290.3 236.1l4.0 -3.4M752.2 506.0l4.8 -0.2M691.2 249.9l2.4 -4.0M133.3 245.7l5.7 -2.7M259.3 431.6l5.1 -2.3M200.1 253.1l4.4 -2.6M638.5 310.3l3.6 -4.1M326.8 430.8l3.4 -2.3M223.4 371.8l2.5 -1.6M484.3 223.3l4.9 -3.8M458.3 349.4l2.7 -3.8M498.3 412.5l1.4 -2.0M651.6 296.6l2.7 -4.5M632.6 333.4l2.1 -2.6M231.7 304.9l3.9 -1.8M390.2 190.5l2.6 -0.5M244.0 293.9l1.9 -2.0M660.8 362.9l4.1 -5.0M316.3 185.6l4.4 0.5M585.5 284.5l2.2 -0.9M261.9 277.9l3.2 -2.8M540.4 380.2l3.7 -2.2M706.6 490.9l2.8 -3.9M232.3 433.3l3.3 -2.2M744.9 473.9l1.8 -2.3M746.2 250.6l3.6 -5.0M604.2 280.8l3.1 2.9M770.6 452.9l4.0 -4.3M464.9 217.8l2.0 -0.7M733.6 238.5l3.0 -4.0M516.7 384.1l4.3 -4.3M511.2 306.0l3.7 -2.3M514.5 470.3l2.2 -1.4M628.8 313.0l2.6 -5.0M306.0 262.0l4.7 -3.9M587.8 294.0l1.4 -2.0M149.6 240.7l3.7 -2.2M616.9 226.8l3.6 4.6M199.9 244.0l2.3 -1.7M733.9 232.9l1.3 -3.2M664.5 409.5l3.5 3.9M480.9 415.2l2.1 -2.9M396.3 335.7l1.6 1.7M415.0 393.9l5.4 -3.2M704.3 241.7l1.7 -2.5M286.2 388.3l4.2 -3.8M373.6 183.0l2.5 -2.2M672.7 363.2l2.4 -3.0M606.2 206.9l2.7 -0.0M288.1 236.1l4.6 3.7M521.1 408.5l5.1 -3.2M429.8 356.7l4.0 2.9M410.8 191.1l2.2 -2.6M322.0 187.5l2.0 -1.0M403.6 332.2l3.4 -2.4M719.8 238.3l2.5 -5.5M681.7 379.1l1.7 -2.0M542.0 329.1l1.7 5.2M372.7 221.8l3.2 -2.7M226.8 301.6l4.7 -3.9M197.2 310.3l5.2 -1.9M412.6 374.0l1.9 -1.9M756.7 247.1l3.2 -0.9M671.9 423.0l2.3 -2.5M285.5 452.9l2.9 -2.5M536.9 255.6l1.8 -2.0M171.3 279.4l1.5 -2.2M697.8 331.7l2.5 -4.0M524.2 407.3l2.6 -1.7M273.3 554.1l2.7 -1.6M507.6 296.8l4.9 -3.6M279.7 499.6l3.1 -1.7M396.7 376.7l3.9 -4.6M230.6 377.3l2.6 -1.1M296.9 386.6l4.0 -3.4M481.3 506.4l4.4 -4.4M512.6 340.2l5.0 -4.0M688.0 367.5l1.9 -5.0M707.2 286.8l2.6 -3.7M184.9 343.3l2.0 -0.9M662.7 314.9l3.1 -4.3M174.1 207.1l2.2 -2.7M540.3 252.3l3.0 -2.1M396.3 334.7l1.7 5.0M236.4 305.1l2.9 -2.6M541.1 394.1l3.9 -2.4M548.8 307.5l1.7 -2.3M362.0 204.2l2.0 -5.3M277.7 435.3l3.8 -2.8M326.3 460.2l3.0 -2.4M595.1 216.1l1.3 -3.7M193.6 350.8l2.7 -1.0M665.0 254.8l1.1 -2.1M174.3 313.5l2.9 -1.7M669.2 361.9l2.4 -4.0M457.7 270.9l3.8 -2.8M447.1 327.5l1.6 -1.7M479.7 295.1l2.8 -2.9M165.8 253.6l2.1 0.3M307.2 449.6l1.8 -1.2M566.3 295.0l2.3 -2.3M419.9 301.5l4.3 -3.9M693.9 424.1l2.7 -4.4M450.8 409.3l3.6 -3.5M618.0 262.6l1.3 -1.9M227.6 227.8l4.1 -1.7M455.1 386.5l4.2 -1.4M240.7 252.1l3.4 -3.2M729.8 521.0l4.2 -0.3M583.2 260.8l2.3 -4.0M272.6 387.0l3.9 -4.5M459.0 467.5l4.8 -2.3M222.1 367.3l3.2 3.2M245.0 375.1l6.3 -0.8M494.7 333.2l4.1 -3.4M546.2 308.1l4.1 -3.4M455.8 387.9l3.0 -1.2M630.5 333.6l3.7 -4.6M173.5 232.6l3.1 -2.3M277.6 474.0l2.1 -1.6M621.0 355.7l2.3 -2.9M482.8 335.5l5.2 -0.6M281.3 532.3l3.4 -4.0M645.1 225.1l1.8 -3.7M464.5 504.3l2.4 -3.2M310.2 426.8l5.6 2.2M226.6 204.6l3.2 2.9M308.5 404.1l4.7 -2.9M744.9 498.4l2.5 3.0M239.7 265.9l4.5 -2.6M480.2 294.2l1.5 -2.1M503.3 274.6l4.3 -4.5M666.7 263.9l3.2 -0.4M628.5 284.1l4.9 -0.3M401.4 351.5l2.5 2.8M436.7 273.9l1.9 1.8M402.7 357.8l4.0 -2.3M273.2 388.7l2.2 -2.6M309.6 201.1l2.0 -2.1M462.9 280.5l4.1 0.8M392.6 367.1l3.9 -1.0M600.5 310.2l3.2 -4.5M192.2 227.9l4.1 -2.0M611.6 253.8l2.4 -3.5M293.6 459.2l1.5 -1.8M183.4 231.1l4.0 -3.1M636.1 335.8l3.0 -3.3M504.7 265.3l4.4 -3.4M603.6 357.5l3.6 -3.6M300.8 411.6l4.1 -3.6M607.6 368.2l1.2 -1.6M275.1 430.2l5.7 -2.8M315.7 188.0l5.6 -2.6M239.6 325.9l4.0 2.3M243.0 447.4l5.3 -3.7M771.4 449.2l1.4 -3.9M185.1 335.5l1.6 -1.7M535.7 268.5l4.4 -2.0M567.1 250.1l2.2 2.4M567.0 283.4l3.1 -3.3M692.0 321.1l4.3 -3.7M428.4 329.4l2.1 -3.3M408.2 180.1l4.1 -4.3M286.8 515.1l3.3 0.1M526.5 318.4l3.1 0.8M159.4 254.6l3.8 -3.8M523.7 354.9l1.9 -1.0M632.9 313.9l1.4 -2.1M234.1 307.4l2.8 -3.7M273.1 471.8l3.1 3.6M232.5 392.8l1.7 -2.6M543.7 241.8l5.0 -3.4M218.7 222.4l2.5 -2.3M658.6 395.2l1.7 -2.1M501.5 296.0l3.2 -2.7M456.2 222.6l2.4 3.2M200.1 345.6l2.2 -1.5M522.2 350.2l3.5 -2.4M446.4 261.2l6.0 -0.4M356.3 179.5l3.3 -2.9M744.3 433.2l6.0 -1.8M529.7 272.4l4.8 -2.5M295.5 226.5l4.4 -4.3M567.6 337.2l2.1 -2.0M654.6 225.6l3.1 -5.5M266.3 264.3l3.4 -1.2M390.8 377.1l3.1 -2.0M357.1 188.1l6.0 -0.3M690.7 322.9l2.7 -3.0M222.2 226.3l2.9 -3.6M247.6 431.6l5.5 -2.5M277.1 384.5l3.2 -3.9M268.9 369.6l1.8 -1.1M241.8 434.9l4.4 -3.8M573.8 317.2l4.7 0.7M683.9 310.2l2.8 -5.7M471.3 234.3l2.9 -1.8M611.5 238.3l4.7 1.7M704.5 410.0l2.4 -6.0M620.8 236.3l1.6 -1.5M761.2 505.5l2.0 -2.5M428.8 281.4l4.1 -2.2M428.4 352.1l4.8 -3.9M641.7 328.7l2.2 -0.2M428.1 335.4l2.1 -1.9M585.6 285.3l2.6 -4.6M584.8 301.5l1.0 5.0M170.1 312.9l4.8 -3.9M483.7 262.2l3.0 3.3M559.9 227.3l3.1 -1.9M504.8 473.0l1.8 -2.0M440.4 397.0l5.7 -3.2M569.0 275.3l4.4 -1.7M456.5 328.5l4.2 -4.0M451.5 322.2l2.9 -1.6M505.4 405.3l2.5 -3.7M471.1 290.2l4.2 -4.0M209.1 232.8l3.3 -1.9M642.7 307.9l1.0 -4.2M189.1 275.9l4.1 -3.2M479.1 334.5l1.8 -2.0M627.8 268.8l1.9 -2.8M510.2 379.1l2.7 -2.8M321.9 445.0l5.5 -3.5M532.4 269.6l1.8 -1.5M661.8 332.0l2.4 -3.7M727.8 247.9l4.7 -1.1M288.1 257.7l5.9 2.1M454.8 380.5l4.6 -3.2M770.3 503.7l2.6 -0.6M506.3 228.4l5.1 -2.7M590.8 295.2l2.8 -4.6M258.6 438.7l2.2 -1.5M689.8 321.9l2.9 -4.1M264.9 432.4l2.1 -0.8M523.0 223.8l1.9 -1.1M673.9 287.0l2.8 -1.4M343.9 209.4l5.1 0.5M579.0 316.3l1.5 -1.7M481.5 346.3l3.9 -4.8M652.2 308.3l2.3 -3.7M663.9 238.4l1.7 -3.2M537.5 361.4l3.5 -3.8M214.1 250.7l5.3 -2.0M244.3 213.8l1.8 -2.5M573.7 338.2l3.2 -2.7M474.7 393.8l2.3 -1.9M694.2 487.4l1.9 -3.1M502.8 336.4l3.9 -3.4M661.8 236.9l3.7 -4.9M562.1 239.1l4.6 -3.4M504.8 294.9l2.0 -1.6M553.8 276.5l2.2 -2.0M180.5 288.0l2.4 -2.6M651.7 357.4l3.8 -4.1M681.9 302.1l2.8 3.4M234.4 236.0l2.2 -3.2M298.6 256.2l4.5 -1.4M142.8 273.7l3.7 0.6M285.5 217.9l5.4 -2.8M172.7 258.7l2.1 0.9M276.7 488.3l3.2 -1.9M273.5 395.4l5.1 -3.7M524.0 299.5l3.0 -1.0M256.2 254.5l1.1 2.6M519.6 407.2l5.4 -2.6M176.2 298.4l5.4 -3.3M255.6 398.5l4.8 -2.4M764.2 487.7l4.2 -3.6M187.5 353.6l2.2 -1.9M268.1 524.8l3.6 -3.0M495.8 336.7l6.0 -1.3M738.0 430.5l6.3 -0.6M412.8 288.0l4.0 -4.5M594.8 307.9l2.7 -0.7M236.3 399.2l4.1 -3.5M723.6 492.8l2.0 -3.2M475.9 506.6l3.5 2.6M480.8 260.4l3.6 -3.4M627.7 368.1l1.9 -3.1M580.1 233.7l1.4 -1.7M221.4 363.5l2.7 -0.4M202.0 260.6l5.3 -0.9M474.4 324.5l4.5 -3.4M476.4 498.5l2.1 -1.2M391.5 198.7l1.6 -1.4M695.4 489.0l3.4 -4.7M546.7 260.8l3.3 -3.1M206.0 345.9l5.2 -1.6M531.7 283.5l2.9 -2.2M507.0 432.8l1.5 -1.8M176.6 310.7l3.9 -1.9M606.7 364.4l1.7 -5.3M359.5 206.7l3.0 -2.6M316.3 459.9l2.7 -2.2M276.7 252.0l2.7 -1.2M253.7 388.6l6.1 -0.2M278.7 223.6l4.9 -2.8M293.7 499.4l4.3 -2.2M554.2 362.9l2.3 -3.6M483.2 208.7l2.0 -2.3M286.7 436.1l1.8 -1.8M197.1 243.6l3.3 1.9M636.9 320.6l3.0 -5.6M520.1 305.2l3.2 5.6M679.2 247.3l1.7 -2.7M513.0 334.2l3.7 -1.9M528.8 351.3l2.4 -1.8M621.3 245.2l1.6 -2.5M626.0 301.1l1.5 -1.9M679.5 256.9l3.7 4.8M561.5 214.7l5.5 0.8M166.3 291.6l2.1 -1.5M306.9 242.1l5.5 -2.2M658.3 291.2l1.7 -1.9M614.1 394.3l1.5 3.6M710.8 515.3l2.7 5.6M298.3 505.7l3.0 -2.2M258.7 279.5l3.3 -2.9M502.9 474.1l4.5 -3.5M690.3 493.5l1.5 -2.4M283.3 422.1l3.8 -2.5M642.3 302.2l1.7 -1.6M494.7 360.0l2.5 -2.2M762.1 511.0l2.4 -4.3M457.1 448.8l4.8 -3.9M742.7 505.5l1.4 -3.6M245.3 263.5l3.2 -2.1M403.6 322.7l2.5 -2.8M665.4 360.2l2.5 -2.1M592.1 264.3l3.7 -3.2M570.2 226.6l3.0 -4.0M579.5 222.5l0.9 -2.3M371.3 205.9l2.9 -2.8M435.2 309.9l3.6 -1.9M549.8 273.7l3.5 -3.7M700.2 236.7l2.2 -3.4M310.5 237.4l1.8 -2.1M726.5 510.6l2.0 -4.1M291.6 190.0l5.2 -3.7M698.4 417.4l2.8 -5.8M451.6 467.7l5.4 -3.5M319.4 444.3l3.2 4.6M252.6 241.4l2.6 -2.9M652.2 276.9l2.3 -2.5M481.3 303.8l1.4 1.9M198.3 213.6l4.7 -1.9M507.0 307.4l3.7 -4.7M181.9 221.2l4.4 -3.7M446.4 234.8l4.2 -3.3M271.8 488.0l3.2 -2.2M430.0 383.6l2.9 -0.2M532.1 315.0l1.9 -1.6M237.1 340.8l3.1 -2.7M708.2 253.0l2.8 2.0M719.2 323.1l1.8 -4.1M528.9 278.7l3.5 -2.2M474.2 207.7l2.5 -0.9M755.4 450.0l0.7 -2.8M764.1 506.1l2.4 -4.1M368.8 217.8l5.0 -1.9M492.6 443.8l5.4 -3.2M391.9 357.4l3.2 -2.6M285.4 493.8l4.1 -2.0M308.8 478.2l3.4 -3.2M502.7 350.3l3.9 -4.0M478.2 473.6l3.3 -2.8M485.2 349.4l4.0 -4.2M456.7 440.4l2.2 -1.7M423.9 335.7l3.6 -2.0M604.1 386.0l2.1 -2.0M505.4 410.5l2.3 -2.6M555.8 271.1l4.4 4.6M512.5 300.5l3.9 -3.0M175.7 283.5l4.1 -3.2M649.2 285.8l2.3 -5.5M602.0 285.3l3.0 2.1M280.0 489.2l4.2 -2.5M149.0 246.8l2.2 1.9M627.0 347.3l1.7 -1.1M546.4 362.7l2.4 -2.2M259.7 496.7l2.6 -2.4M668.3 368.6l1.6 -3.2M454.0 216.7l3.7 -2.5M456.6 355.0l5.2 -2.9M275.9 192.0l3.3 -2.2M525.5 348.1l4.3 -4.7M255.9 456.2l5.3 2.3M653.1 270.2l1.9 -4.3M589.4 253.9l2.1 -3.5M196.0 246.4l4.2 -4.6M447.9 284.2l4.0 -0.5M572.8 231.4l3.9 -4.4M655.7 275.0l4.8 -0.6M659.4 251.7l2.0 2.4M414.0 329.9l4.2 -3.4M254.3 433.1l4.1 -2.2M469.0 253.4l2.9 -1.8M627.9 250.3l1.3 -1.8M188.5 311.5l5.2 -2.5M674.3 392.8l4.9 -3.8M533.9 230.6l3.1 -2.2M530.7 335.5l2.5 -2.6M628.8 277.0l2.5 -0.9M754.6 235.0l2.7 -3.6M672.5 287.4l2.1 -2.3M602.2 310.4l3.4 -4.0M677.0 236.5l4.1 -0.3M671.9 340.8l3.3 -5.3M425.2 329.6l2.4 -2.5M697.4 251.2l1.6 -1.4M495.9 361.8l4.6 -3.6M303.1 389.7l1.9 -1.7M509.7 463.5l1.7 -1.3M620.5 357.3l2.8 -4.6M641.8 360.4l1.6 -1.9M605.2 373.4l1.2 -3.9M150.1 258.0l2.1 0.7M236.4 321.3l3.5 -3.1M449.2 365.6l4.3 -3.0M678.0 347.2l3.0 -3.4M315.3 439.2l4.7 -3.2M567.8 304.5l5.1 -3.4M479.5 337.2l3.9 -4.5M482.8 276.1l2.4 -1.5M259.0 275.3l3.8 -3.5M485.7 295.5l3.4 -3.1M638.5 287.9l5.1 -2.1M315.8 250.4l2.6 -3.1M273.6 407.0l4.0 4.6M758.9 535.4l3.6 -3.7M448.4 221.1l2.9 3.4M298.1 455.4l4.6 3.4M558.6 316.7l1.4 -2.4M674.5 298.8l2.6 -0.4M442.1 263.2l3.4 -2.3M605.4 337.3l1.5 -3.2M402.9 366.2l2.3 -2.1M500.4 306.1l1.9 -1.1M383.9 183.9l1.9 -3.9M646.7 310.0l1.8 -1.9M389.5 183.4l1.7 -1.9M163.6 229.9l2.6 2.5M371.1 208.3l4.9 -2.5M699.8 505.5l4.3 -3.7M282.4 477.9l4.0 -2.5M261.5 429.1l3.9 -3.7M277.9 529.9l1.5 2.9M532.4 234.8l3.3 -0.1M636.8 314.0l3.4 -3.5M475.8 229.7l5.2 -3.3M526.8 334.8l5.1 -2.5M673.9 382.0l2.4 -3.7M221.5 293.1l4.0 -2.5M261.2 225.9l2.6 -3.1M475.2 349.1l5.4 -2.2M622.9 327.9l1.8 -1.9M519.7 244.5l3.2 -3.6M597.7 282.8l2.2 -2.7M501.4 343.9l4.7 -3.0M236.8 256.5l2.4 -1.6M677.5 381.1l2.7 -1.2M495.1 477.3l3.9 -3.2M518.5 325.7l4.0 -1.5M391.0 211.7l4.7 -3.7M408.8 199.4l4.4 -3.3M162.8 297.7l3.4 -3.8M466.4 360.2l4.6 -3.6M300.6 487.2l4.2 -4.1M648.5 295.8l5.8 -0.6M669.1 318.6l1.5 -2.1M644.3 259.5l3.4 -3.0M276.3 406.2l4.2 0.6M512.5 264.1l4.6 -1.6M245.9 203.6l2.1 -1.8M654.2 317.5l1.5 -2.4M272.4 450.3l4.3 -3.8M680.5 345.2l1.0 -2.2M635.2 357.7l1.7 -1.4M633.2 336.2l3.0 -5.0M616.4 279.1l1.4 -2.8M672.5 221.5l2.2 -2.7M306.1 239.4l4.7 -1.3M185.5 273.7l2.8 2.5M703.1 346.3l1.7 -3.2M522.7 264.1l3.4 -3.1M453.6 228.9l3.2 -2.8M478.4 511.1l4.5 -4.3M520.0 334.1l5.7 -3.0M597.9 223.2l2.6 -4.4M452.6 233.5l3.6 -0.2M420.9 244.9l2.9 -1.1M176.9 252.8l2.6 -0.7M668.9 329.8l1.7 -3.7M495.0 404.6l5.8 -2.0M733.0 483.1l2.6 -3.1M484.3 436.6l4.1 -2.0M459.2 394.8l4.4 -4.6M408.3 177.9l4.0 -3.2M605.5 291.5l1.6 -2.6M467.1 385.5l2.6 -3.6M205.0 230.4l3.6 -3.0M543.7 216.8l3.3 -0.0M271.6 418.8l1.9 -1.8M702.4 509.0l3.3 -1.4M218.8 220.4l3.0 -3.1M192.4 291.4l2.5 -0.7M629.6 366.2l1.7 -3.4M718.2 285.1l2.6 3.2M215.8 359.2l2.6 -2.1M772.7 238.9l3.4 -5.5M305.5 409.5l1.3 1.6M716.5 322.6l2.6 -3.5M702.4 264.2l1.8 5.0M270.7 486.2l1.9 2.2M274.9 386.3l2.0 -2.2M617.4 236.8l1.8 -2.4M371.3 187.9l2.4 -2.1M761.6 452.7l1.8 -4.1M217.9 354.4l3.8 -2.6M661.7 369.9l2.4 -4.0M545.0 317.9l3.3 1.5M599.3 230.7l4.3 0.2M626.7 293.4l3.3 -3.9M193.5 318.2l2.5 -1.8M625.3 337.5l1.3 -2.3M709.8 317.2l4.9 -1.6M280.7 411.4l2.5 4.8M714.9 301.5l2.0 -1.9M676.6 256.5l3.8 -5.1M491.4 327.9l1.7 -1.9M629.1 364.1l2.2 -2.7M572.0 256.8l2.0 -2.4M167.3 210.9l2.2 -1.7M524.5 278.1l2.4 -1.9M236.5 278.0l2.8 -2.3M470.5 268.0l2.3 -1.8M203.4 288.1l2.7 -2.1M240.7 210.1l2.4 -1.7M167.7 316.6l4.4 -4.6M298.6 259.2l3.2 -3.2M441.8 352.3l4.3 -2.0M713.7 267.8l2.2 -5.8M503.4 244.6l3.4 -2.7M494.2 280.9l5.0 -2.8M768.4 515.1l0.9 -2.1M569.3 233.7l1.6 -1.9M564.3 307.7l4.1 -1.6M378.7 174.6l2.3 -1.9M228.8 214.9l3.2 -3.4M490.3 489.3l2.9 -3.0M251.0 415.1l1.9 -1.4M228.3 272.5l2.0 -1.0M459.8 426.2l3.5 -3.1M216.9 210.4l3.7 -5.2M215.0 277.6l3.6 -1.8M294.8 264.1l1.8 -1.1M738.6 509.9l2.0 -2.9M238.2 313.3l4.8 -2.2M492.5 485.4l2.7 -2.4M189.2 355.9l3.8 -3.0M614.7 336.5l2.9 -4.5M477.6 270.7l4.7 -2.8M291.2 271.8l3.2 -2.1M400.9 294.5l4.5 -3.6M560.2 237.1l4.5 -3.6M480.6 366.6l5.4 -3.0M484.4 383.0l5.0 -3.1M614.8 381.7l3.8 -3.1M474.3 409.4l2.4 -1.5M474.6 472.6l4.3 -2.0M449.8 344.0l2.2 -2.6M609.9 228.1l2.8 -3.7M469.9 224.6l4.5 -2.9M467.2 252.9l0.3 3.2M481.9 414.6l4.8 -1.5M467.7 440.5l2.0 -1.1M400.7 360.3l3.2 -4.9M484.9 289.1l1.8 -2.6M746.2 476.5l1.3 -1.6M701.2 255.1l3.6 -3.6M276.2 522.1l4.1 -2.4M353.3 200.0l4.2 -2.5M317.4 456.4l4.1 -3.7M231.4 400.8l4.4 -3.4M163.3 245.2l1.6 2.4M332.2 430.0l2.9 -1.9M474.4 453.6l3.1 -2.5M659.0 247.6l2.7 -3.1M477.3 210.5l2.6 -1.5M516.9 376.0l3.3 4.0M314.7 244.6l1.9 -0.9M462.9 400.9l5.0 -3.3M446.5 328.5l1.6 -1.4M523.4 410.4l3.3 -2.9M497.5 430.9l3.7 -4.5M206.5 230.1l3.9 -4.3M661.0 360.4l2.9 -5.3M261.9 198.5l2.1 0.5M310.5 414.7l3.5 -3.3M489.9 370.1l1.6 -1.4M698.1 498.2l3.0 -5.1M391.1 364.4l1.8 -2.4M481.6 354.8l2.1 -1.1M482.4 441.4l2.4 -1.1M431.5 361.1l4.1 -4.0M257.9 511.3l3.9 -3.7M705.6 502.6l3.1 -3.1M251.2 225.1l1.1 1.8M768.4 519.1l3.6 -5.1M650.7 241.7l2.4 -4.1M733.2 497.1l1.4 -2.0M381.6 210.4l1.5 -2.9M731.8 497.9l1.6 -2.7M257.5 370.8l1.7 2.0M439.1 287.6l3.5 -2.9M685.1 243.9l4.5 -4.4M258.9 298.3l2.4 -1.5M619.4 217.9l3.1 2.3M490.0 396.7l3.3 -2.0M709.8 330.6l1.7 -1.6M452.5 278.1l3.2 -2.5M312.8 223.2l2.5 -2.7M248.8 380.0l1.8 -1.2M520.3 349.9l5.5 -3.0M757.8 245.9l5.1 1.0M458.7 416.6l4.0 -4.3M466.6 440.2l2.1 -1.1M165.8 287.2l1.8 -2.2M548.7 289.2l2.4 -3.8M487.9 364.7l3.2 -3.7M217.5 363.5l2.5 -0.7M172.3 263.2l3.7 -4.3M608.8 222.7l2.6 -4.1M560.8 338.1l3.9 -3.3M602.4 227.4l4.4 -2.5M250.3 455.9l2.5 -2.4M474.9 348.7l2.4 -1.6M248.1 349.9l1.4 -1.5M462.0 257.3l2.8 0.0M670.5 296.9l2.9 -2.7M508.6 382.8l3.8 -1.7M556.4 360.7l3.6 -0.5M293.7 226.1l2.3 -1.2M274.8 482.7l3.6 -1.7M170.6 201.4l4.3 -4.6M703.2 312.8l5.8 -0.7M282.9 431.9l2.7 -3.3M298.5 433.6l1.7 -1.5M691.7 366.3l2.2 -3.8M734.4 289.9l4.1 -3.3M310.6 482.2l2.4 -3.0M711.6 388.4l1.4 -2.8M235.6 225.0l3.2 4.9M156.7 275.1l2.6 -3.4M375.2 220.4l5.3 -3.2M675.9 262.3l2.8 5.8M504.5 429.7l3.1 4.7M294.4 440.3l2.1 -2.4M293.8 232.8l4.2 -4.9M705.1 234.3l3.9 -3.8M484.1 279.0l2.6 -1.6M727.3 476.7l3.6 -2.8M521.7 484.1l2.1 -2.3M496.0 352.4l2.6 2.0M378.3 200.6l3.6 2.4M739.2 501.8l4.3 0.2M632.3 240.1l3.2 -4.0M254.3 469.7l2.0 4.9M517.0 268.3l2.2 4.7M664.6 309.6l1.6 -4.0M287.2 472.0l3.4 -3.4M733.8 230.5l6.0 -1.9M453.2 428.3l2.8 -1.7M492.1 476.8l1.1 5.7M707.7 328.0l1.5 -2.5M742.6 516.3l2.5 -2.9M230.5 418.2l0.8 2.3M536.4 205.9l4.1 -2.2M654.4 329.1l3.9 -4.6M499.3 267.3l3.0 -2.5M708.2 276.4l2.5 -5.3M469.6 366.3l4.8 -3.4M293.1 510.1l1.0 2.1M756.2 279.2l0.2 -4.7M316.1 402.3l2.3 -1.5M474.8 285.5l4.7 -0.0M651.9 231.0l2.2 -3.0M422.5 362.6l3.8 -3.0M553.8 264.8l4.4 -4.3M629.8 281.7l1.6 -2.3M609.7 212.2l3.3 -5.5M607.9 315.9l3.1 -3.6M310.2 450.1l1.7 -1.1M508.9 478.4l3.0 -2.1M702.1 328.0l3.4 -0.2M611.8 272.1l3.2 -0.6M464.3 296.7l2.7 -3.8M285.7 200.6l3.8 -2.0M434.7 375.5l5.3 -2.4M330.8 447.6l2.2 -2.5M723.4 228.6l2.4 -4.0M245.6 267.4l2.0 -1.1M243.7 418.6l4.1 3.2M486.1 428.8l3.4 -1.6M304.7 444.7l2.0 -2.0M513.9 387.6l5.1 -3.2M476.2 385.9l2.2 -2.6M628.2 332.6l5.6 -3.0M316.6 468.5l4.8 -2.6M264.9 500.2l1.5 -1.6M481.3 458.6l2.7 -2.9M493.7 251.1l4.4 -0.8M269.5 545.1l3.3 -1.7M672.4 269.8l5.8 -1.3M626.4 353.2l4.0 -1.2M470.7 374.6l2.6 -3.2M664.2 333.8l0.8 -4.2M701.5 309.0l3.8 -4.9M180.5 272.2l1.9 -2.8M450.3 316.1l3.5 -2.6M480.0 490.6l4.8 -4.0M533.9 306.0l3.4 -2.3M591.4 312.2l3.0 -3.5M696.3 321.1l3.1 -3.9M399.9 343.9l2.9 -0.7M349.3 210.7l4.1 -4.4M491.9 266.8l2.7 -2.0M701.5 307.3l3.3 -5.2M450.3 330.2l4.1 -3.0M216.4 350.7l3.5 -2.6M281.8 488.9l2.9 -2.2M280.7 505.4l2.3 -0.5M595.5 346.2l3.2 -5.6M289.4 216.7l1.8 -0.9M635.4 257.4l3.6 -4.6M467.6 297.5l3.0 -2.6M654.4 329.6l1.5 -4.5M162.2 229.0l5.6 3.0M764.9 492.8l3.2 -2.5M717.2 292.6l2.9 -3.0M461.7 375.0l3.6 4.5M387.1 196.4l3.7 -2.4M637.1 255.3l1.5 -3.8M256.0 428.4l3.2 2.9M392.8 371.5l2.3 -2.6M272.7 249.6l1.8 -2.2M524.7 358.3l1.9 -1.8M426.2 381.9l2.3 -2.2M242.8 377.7l3.6 -2.9M425.5 294.2l4.1 -0.9M187.2 207.4l4.8 -4.0M388.8 198.1l4.4 -3.0M612.4 287.4l1.3 -2.5M468.1 444.8l1.6 -1.3M680.4 340.3l1.6 -1.2M454.6 369.6l5.3 -3.3M199.8 316.9l5.8 -1.9M251.5 371.5l4.3 -2.2M638.3 286.6l3.2 -4.2M357.4 188.7l5.0 -4.1M482.5 387.7l4.1 -3.6M517.1 332.7l5.0 -3.3M271.6 490.0l5.2 -3.4M277.5 199.6l3.9 -3.3M658.9 337.8l1.6 -2.2M312.2 210.7l2.8 -2.2M659.6 225.3l0.8 2.3M523.9 225.4l3.4 4.2M229.7 378.8l2.8 -2.8M150.4 292.8l5.7 -1.6M485.4 381.1l2.4 -1.9M459.9 392.8l5.4 -1.1M584.2 326.8l3.8 3.8M485.5 272.0l4.6 -3.7M276.4 527.9l3.3 -4.2M428.6 269.8l2.2 -1.4M636.7 361.4l4.5 -3.8M797.3 552.9l2.3 -0.8M386.2 205.2l3.3 -3.6M551.0 327.5l3.3 -2.0M462.0 319.3l3.9 -3.4M283.0 468.0l2.2 -1.2M189.5 267.7l3.6 -3.1M443.8 378.6l4.7 -2.9M250.4 298.3l2.2 -2.2M361.3 216.8l1.5 -1.4M669.3 311.4l2.3 -2.7M202.1 289.7l3.8 -4.4M172.9 211.6l1.7 -1.3M424.4 384.4l4.1 -3.6M719.5 236.4l1.8 -3.5M254.0 418.4l4.4 -2.8M553.0 218.5l3.2 -3.0M183.4 214.5l4.9 -2.6M502.8 342.3l4.1 -4.4M297.9 272.7l4.2 -2.6M552.1 370.9l5.1 -3.5M165.0 263.9l4.5 -2.3M523.6 422.7l4.6 -2.9M536.8 251.5l2.2 -0.1M228.8 238.8l5.2 2.6M606.5 328.4l1.4 -2.9M589.4 346.9l1.7 -2.8M663.7 360.0l5.2 -0.9M402.3 359.3l2.4 -1.9M451.2 263.4l4.4 -3.9M277.4 268.1l1.9 -0.8M418.2 313.8l2.3 -1.7M730.3 482.3l4.4 1.1M665.1 312.2l2.2 -2.2M491.0 415.8l3.8 -3.7M627.1 297.9l3.2 -3.4M289.4 434.3l2.7 -2.1M471.6 497.0l1.6 -2.0M474.3 293.9l2.0 -1.8M269.5 410.0l4.9 -2.1M649.8 302.2l2.6 -3.6M250.5 423.4l1.8 -1.3M528.8 357.8l4.2 -4.6M692.1 450.4l0.9 -2.8M476.4 340.2l4.0 -2.7M287.2 496.6l4.8 -2.1M254.1 243.4l2.4 -2.6M280.5 375.4l4.5 -3.3M409.1 362.5l1.8 1.4M212.8 219.0l2.6 -3.4M222.9 263.6l2.5 -2.7M533.3 347.4l3.3 -2.9M255.1 424.9l4.8 -3.8M245.1 293.5l2.7 -2.0M664.8 287.3l5.7 0.1M474.6 351.4l2.6 -1.6M697.8 231.5l1.2 -1.7M273.1 254.6l1.9 -1.0M243.0 250.6l2.2 -1.9M538.7 376.9l2.5 3.3M173.6 244.0l2.3 -1.8M643.0 318.6l3.3 -5.4M623.5 357.4l3.0 -3.4M277.7 488.9l5.8 -0.8M495.5 244.3l3.9 -3.0M561.3 301.9l1.9 -1.6M799.1 554.8l2.9 -2.6M633.7 325.9l1.0 -1.7M653.6 220.2l1.5 -4.0M503.6 485.0l5.2 -3.5M634.1 294.8l2.4 -3.6M178.8 305.2l4.0 -3.6M259.0 494.5l4.6 -3.5M486.7 369.1l2.1 -1.8M261.0 490.7l4.0 -4.0M252.5 230.1l6.3 -0.7M654.1 304.1l1.6 -2.8M238.9 398.5l2.0 -1.4M536.3 260.6l3.6 -3.6M453.5 404.9l1.6 1.4M407.8 322.9l2.3 -1.9M538.9 232.6l4.6 3.5M523.3 409.6l2.9 -3.5M488.5 252.1l4.5 -2.8M658.1 223.4l2.1 3.4M265.0 519.1l5.1 -3.8M299.2 408.7l1.9 -1.0M198.7 294.8l3.7 -3.0M681.7 240.9l2.4 -3.9M538.2 257.6l1.5 -2.6M585.8 338.0l2.5 -4.4M239.1 425.1l2.0 -1.9M533.0 228.4l2.2 -3.2M327.5 441.4l2.1 -2.1M288.5 435.7l3.0 -3.2M599.5 216.0l1.5 -1.5M299.0 479.2l3.8 -2.7M755.8 274.8l2.3 -4.4M204.6 208.8l2.1 -2.0M499.3 267.0l5.5 -2.8M245.6 398.6l2.6 -1.0M384.7 204.6l5.0 -1.3M505.4 266.1l6.2 0.3M440.5 354.9l4.8 -3.3M501.7 332.0l3.0 -2.8M531.5 329.1l3.4 -3.9M305.4 200.9l3.6 -0.7M301.0 225.5l2.2 -1.2M635.8 312.3l2.8 -4.9M476.3 269.7l5.2 -3.9M304.8 239.4l5.1 -3.0M678.8 268.5l1.2 -1.8M716.4 488.0l3.3 0.9M303.9 463.8l5.1 -1.2M714.7 250.8l4.9 -3.9M292.6 421.7l4.7 -3.0M521.5 223.7l3.6 -4.8M173.6 237.6l2.9 -1.8M659.9 374.0l2.2 2.5M316.3 217.7l4.7 -3.7M691.1 485.4l3.7 1.5M570.4 339.3l2.1 -2.6M282.7 503.4l4.4 -1.6M731.2 531.2l1.4 -3.7M379.4 183.2l3.9 -2.8M522.1 317.7l3.5 -1.6M458.0 447.6l1.7 -1.7M728.0 285.0l1.3 -4.6M157.2 243.1l2.1 -2.9M308.9 475.7l2.2 -1.5M343.9 222.6l3.3 -3.0M626.8 336.9l2.5 -3.2M507.4 397.5l3.6 -2.7M526.8 251.9l3.2 -3.5M453.7 262.2l4.5 -4.3M472.8 348.4l2.4 -2.7M299.6 248.7l4.7 -2.9M454.1 213.3l3.4 -2.5M693.8 271.2l3.1 -5.3M221.6 301.5l2.8 4.4M686.1 274.0l3.0 -3.0M202.4 277.3l5.3 -3.0M253.5 470.6l3.4 0.4M308.2 417.6l5.0 -3.7M329.6 453.7l2.1 -1.5M652.4 357.5l3.6 -3.8M706.7 264.6l0.8 2.5M322.6 422.0l4.1 -3.1M707.8 285.2l1.4 -2.4M256.3 465.0l3.6 -2.8M714.6 495.7l2.7 -4.0M659.1 270.4l3.2 -0.3M259.8 399.6l2.2 -1.2M264.0 537.9l3.4 -0.6M464.4 328.4l4.6 4.5M471.6 390.7l2.8 -3.9M270.7 372.8l1.2 1.6M496.0 304.0l3.2 -5.1M440.6 255.5l3.0 -0.8M573.4 259.3l4.9 -1.0M716.7 316.8l4.3 -4.6M699.7 322.1l5.1 -2.8M522.5 246.2l4.9 -1.7M617.6 279.2l3.1 -4.0M299.9 400.0l1.9 2.5M182.1 259.2l2.6 -1.2M637.2 223.5l1.8 -2.0M650.7 236.6l3.8 4.1M179.7 314.5l1.7 1.3M615.5 296.0l3.5 -4.2M574.0 267.4l3.0 -5.3M299.4 490.9l2.9 -2.0M149.6 235.4l2.8 -1.8M185.1 244.4l5.8 -2.8M542.5 241.5l3.8 -2.9M638.0 304.2l1.0 -2.0M166.3 287.5l5.6 -3.0M222.2 284.7l5.5 -1.0M458.0 428.9l3.2 -3.8M518.8 245.0l2.8 -2.6M179.6 287.7l4.9 -4.2M311.3 219.0l3.3 -3.4M498.3 385.3l2.4 -3.6M769.9 443.6l2.5 -3.7M704.4 314.5l3.8 -4.0M612.1 265.6l2.8 -5.6M328.0 422.2l1.9 1.7M491.2 333.0l2.6 -1.2M491.0 409.1l5.0 -4.0M504.0 463.3l4.8 -3.1M481.9 426.7l4.9 -4.2M187.5 323.7l4.2 -2.7M506.5 321.4l4.0 -2.8M674.8 286.3l2.4 -3.1M719.3 288.2l2.0 -3.3M197.0 230.5l3.3 -2.4M473.1 348.9l3.3 -0.0M256.3 419.0l2.2 -1.9M564.4 334.7l3.5 -0.4M387.5 368.0l3.3 -1.9M675.2 247.9l4.0 -4.6M516.5 381.9l1.3 -1.6M745.9 481.6l3.6 -4.6M258.1 201.0l1.9 -2.1M195.0 331.7l2.8 -2.6M279.5 256.8l4.0 -3.2M195.7 335.6l4.8 -3.2M360.6 221.6l3.0 -2.2M229.4 282.9l3.4 -2.0M417.4 383.6l4.5 -2.6M602.6 346.7l1.8 -3.3M622.5 320.1l2.3 -5.8M655.5 244.4l3.2 -3.8M719.3 473.8l1.9 -2.6M518.1 251.6l3.7 0.1M657.1 380.0l3.7 -4.8M736.1 434.3l3.8 -4.2M653.8 359.1l3.0 -4.5M172.1 284.4l3.7 -1.5M686.8 230.4l1.2 -2.1M570.2 341.5l5.1 -3.3M200.0 259.9l2.3 -1.3M714.6 497.5l0.3 -3.3M495.4 437.3l4.3 -3.4M257.1 485.5l1.8 -2.1M143.3 223.8l1.2 1.9M650.3 282.3l3.7 -5.2M159.3 306.1l2.2 -1.3M146.1 261.8l4.2 -2.7M510.4 436.5l1.7 4.5M607.2 258.4l2.3 -5.9M622.3 253.3l1.3 -2.7M477.6 414.8l3.8 -1.3M697.3 351.8l0.9 -2.5M486.6 407.7l3.4 -2.5M742.0 464.1l1.7 -2.0M740.0 539.8l1.9 -2.9M684.3 318.0l3.5 -3.6M528.8 323.9l2.2 1.5M311.7 458.6l3.9 -3.0M729.2 527.9l2.7 -5.7M438.7 386.0l3.0 -2.2M624.6 305.4l5.7 -1.8M693.0 311.4l2.5 0.3M214.5 237.1l2.8 -1.5M487.9 271.6l3.1 -3.0M245.7 373.7l5.2 -2.9M203.0 319.1l4.6 -3.4M285.3 425.3l1.6 -1.3M476.6 219.0l1.7 -1.6M706.3 347.5l1.9 -3.2M608.9 340.6l2.6 -3.6M315.6 187.6l3.2 -2.8M306.1 208.8l2.2 -1.2M549.6 328.3l4.2 -3.4M195.0 275.4l2.7 -1.0M279.9 516.4l2.9 -2.6M759.6 499.3l1.6 -2.1M542.1 376.0l2.9 -2.0M157.1 280.7l3.7 -4.7M500.1 411.0l3.6 4.7M650.0 300.4l3.7 4.7M578.2 286.4l3.7 -0.8M488.4 488.1l4.4 4.4M735.0 476.2l3.1 -4.9M415.8 392.8l4.5 -3.0M498.2 271.3l1.9 -3.2M582.8 262.9l3.1 -4.8M375.5 177.8l2.9 -2.5M757.0 238.9l3.0 -3.9M413.6 364.0l5.2 0.5M669.8 263.4l2.4 -5.7M298.5 193.8l3.4 -3.0M441.2 390.6l2.6 -3.8M476.9 265.4l2.3 -1.9M558.3 274.1l2.6 -2.7M589.0 303.4l5.9 0.2M242.1 431.3l4.6 -1.7M449.4 437.8l5.1 -3.7M272.0 550.4l4.2 -3.2M288.1 488.9l4.2 -3.7M419.5 348.2l5.2 -3.3M274.8 205.0l4.9 -3.5M685.4 343.0l1.2 -2.2M274.8 407.4l0.6 2.0M497.4 236.3l2.1 -2.5M533.3 328.5l3.6 -1.4M619.4 304.1l1.9 -2.8M712.5 334.5l1.5 1.9M723.5 233.9l1.8 -2.8M151.0 245.8l3.8 -0.6M313.4 432.0l4.8 -3.3M756.3 516.5l1.6 -2.1M450.1 463.7l2.0 -1.5M232.9 291.5l1.8 -1.3M492.5 327.8l1.7 -1.4M624.1 259.0l1.4 -3.2M621.0 303.0l2.1 -3.9M523.4 236.7l2.6 -2.5M526.1 252.0l5.4 -0.8M156.2 258.4l3.3 -2.3M162.7 243.0l2.7 -2.6M447.2 274.4l2.3 -2.2M332.9 438.3l4.4 -2.8M553.6 244.5l5.2 -2.4M750.7 435.7l3.5 -4.5M618.6 217.9l2.2 -2.3M255.9 417.2l3.2 -1.0M365.0 193.0l2.5 -2.7M482.3 400.4l3.1 -1.7M675.9 320.5l4.3 -4.0M340.8 220.2l5.0 -0.2M748.5 532.8l1.4 -1.9M282.0 240.3l6.1 -2.3M645.8 306.9l5.3 -0.9M263.7 494.4l2.4 -1.9M643.9 321.6l4.4 -4.3M271.1 466.3l3.2 -1.6M275.4 411.5l2.0 -0.8M518.6 409.2l3.2 -2.8M682.3 267.0l2.5 -4.1M471.7 440.9l1.6 -1.4M297.4 240.7l3.3 -1.5M486.1 286.3l4.9 -2.8M308.0 187.0l5.9 0.1M599.7 246.8l1.4 -2.5M258.1 291.5l2.5 -1.7M444.8 290.2l3.7 -4.0M407.9 352.1l5.2 -2.1M557.3 305.1l1.3 -2.0M689.6 333.1l2.8 -4.9M414.9 369.2l2.2 -1.7M730.5 501.3l2.1 -5.0M194.3 309.8l2.7 -1.9M593.5 220.0l3.9 0.5M469.9 439.6l3.8 -4.2M718.8 315.8l2.8 -3.5M314.4 445.7l2.2 -0.7M281.1 442.8l3.5 4.9M176.3 237.9l3.7 -3.0M766.3 507.6l2.9 0.1M343.5 216.2l3.8 2.3M716.1 475.6l4.6 -1.9M240.2 427.4l4.4 -2.3M656.7 355.0l5.7 -1.6M610.9 275.2l3.8 -4.9M732.2 299.2l1.3 -1.5M655.8 348.9l2.8 -4.4M459.9 399.5l2.2 -2.6M708.7 501.5l3.0 -3.3M720.9 510.5l1.5 -2.8M267.2 522.1l2.5 -2.2M753.9 276.3l3.9 -2.4M249.3 413.7l4.8 -4.0M312.5 248.7l2.6 -2.1M540.5 263.9l4.1 -0.2M762.4 492.4l5.2 3.0M498.7 410.6l1.6 -1.4M693.5 419.9l1.8 2.2M653.8 312.2l3.3 -5.0M266.0 457.1l3.8 -2.7M757.2 437.3l0.6 5.8M627.7 243.9l1.7 -2.9M674.7 345.4l3.5 -3.6M522.9 248.8l4.8 -1.0M538.6 282.6l2.5 -2.1M577.6 309.2l3.2 -4.0M152.5 226.3l2.8 -1.8M215.8 312.9l1.5 -1.6M472.7 460.1l1.8 -2.2M309.7 466.8l2.0 -2.1M670.2 376.2l1.8 -3.6M430.1 280.5l3.5 -4.3M240.7 418.5l2.9 -1.8M164.0 320.7l4.4 -3.8M535.3 280.4l3.0 -2.1M354.2 186.5l2.8 -2.9M235.4 395.9l5.6 -1.6M593.1 226.9l1.6 -5.6M619.7 216.8l1.4 -2.4M696.4 523.1l2.7 4.2M669.4 388.1l3.6 -5.1M186.9 247.2l4.5 -4.1M231.4 302.0l2.5 -3.8M649.2 277.8l1.2 -2.7M433.2 296.5l2.0 -0.7M611.7 297.2l2.7 -2.9M315.9 453.4l2.9 -3.3M317.6 438.9l3.2 -0.7M252.2 410.6l3.8 -2.6M625.5 311.7l2.2 -3.0M635.3 315.3l1.9 -2.9M266.3 213.6l2.6 -0.4M297.9 433.0l2.4 -0.2M698.9 358.3l1.9 -3.0M704.6 500.1l2.9 0.4M313.8 457.8l3.5 -1.9M585.4 269.3l1.6 -3.9M293.0 484.2l3.7 -2.3M261.7 392.0l2.1 3.7M447.0 396.7l3.8 0.6M642.2 264.9l2.8 -4.4M646.6 291.3l1.6 -2.4M179.8 337.2l1.7 -1.2M471.8 430.5l3.4 -3.6M501.9 414.0l2.2 0.4M522.4 484.3l1.8 -1.0M668.6 300.2l1.1 -5.2M515.1 417.7l3.0 -3.9M458.2 406.5l2.2 -3.0M539.5 260.0l3.3 -2.8M569.3 284.4l3.2 -0.6M288.6 450.5l1.9 -1.1M260.5 467.2l2.7 -3.1M525.8 346.3l3.4 -2.6M512.9 467.6l6.1 -2.4M222.2 370.0l1.5 -1.7M619.2 250.6l3.7 -4.9M510.8 269.7l3.2 -4.0M442.1 367.8l2.2 -1.4M425.7 338.9l4.5 -3.2M521.4 363.9l3.4 -3.5M505.1 408.2l4.8 -4.1M266.7 432.8l2.7 -2.4M511.6 422.8l3.9 -3.1M265.4 264.6l1.0 5.2M346.1 226.3l5.4 -1.1M195.7 346.9l3.0 -2.0M330.6 438.3l2.9 -2.9M653.5 241.6l4.1 -4.7M256.7 401.1l3.3 -2.6M298.8 468.5l4.3 -3.7M281.5 250.1l4.6 -2.4M248.6 440.4l1.9 -1.1M515.3 387.4l4.3 -4.0M467.8 274.4l2.6 -1.5M629.9 322.1l0.8 -2.4M504.7 405.3l3.8 -4.2M483.9 212.1l2.0 -0.4M191.3 332.4l5.1 -3.0M177.8 293.3l3.1 -3.8M241.7 249.2l6.4 0.5M200.0 319.7l3.6 0.2M610.8 207.5l2.3 -0.4M395.9 183.1l4.2 -2.6M460.3 286.2l3.5 -3.7M395.5 183.3l3.3 -2.7M703.2 295.4l4.0 -2.9M448.9 241.3l4.3 -0.5M488.2 444.0l4.2 -2.5M224.2 255.0l2.6 -1.5M245.7 281.9l3.8 -4.0M717.6 233.0l4.0 -5.0M311.0 481.6l4.6 -2.5M548.7 346.7l2.4 -2.1M560.2 287.8l2.1 4.4M197.2 218.3l4.9 -2.0M670.7 321.7l1.9 -3.1M696.8 283.1l1.2 -2.6M515.1 444.4l4.0 -2.7M178.7 295.0l4.7 -3.6M682.6 276.7l2.5 -5.8M439.4 373.5l2.1 -2.3M753.8 524.1l2.8 -0.7M751.2 230.7l1.6 -2.6M289.9 431.3l3.3 -2.9M415.0 336.8l3.8 -3.7M141.6 261.3l1.5 -2.3M473.1 509.6l2.3 -1.8M718.0 279.7l1.6 -2.5M528.3 404.8l2.2 -2.7M472.3 496.2l4.4 -3.3M622.1 230.4l2.4 -3.7M656.6 263.7l3.6 -3.9M398.5 173.6l5.4 3.3M205.4 212.8l5.2 -3.6M268.4 417.5l2.5 -1.6M601.1 250.6l1.0 -1.9M281.5 399.9l4.4 -0.5M768.4 503.6l4.1 -4.4M402.6 221.5l3.0 -2.2M690.7 331.1l1.0 -2.6M196.0 300.9l2.7 -3.3M745.8 480.8l2.5 -3.3M613.6 237.6l2.9 -4.7M739.6 552.7l1.6 -2.0M439.3 332.6l2.4 -1.1M509.6 457.5l2.9 3.1M262.3 201.8l3.7 -4.8M478.8 401.4l4.4 -1.4M213.8 266.1l4.2 -1.0M660.5 258.8l2.1 -2.4M391.6 354.8l4.4 -3.5M506.6 436.1l1.8 -1.0M264.9 217.2l3.3 -2.7M702.3 325.5l2.1 0.7M620.4 239.5l2.0 0.4M393.0 337.6l4.9 -3.3M213.1 225.9l4.4 -3.1M665.6 303.5l1.5 -3.5M197.8 313.2l2.9 0.7M457.0 472.0l2.7 -2.3M775.9 503.2l1.9 -3.4M563.9 234.4l2.2 -1.2M695.9 420.1l1.7 -3.6M468.5 233.9l4.0 -3.8M659.5 222.8l1.4 -2.5M190.9 212.0l4.0 -1.8M776.2 459.7l5.3 -2.2M220.3 296.6l2.1 -2.4M301.9 220.6l3.6 -2.2M532.4 388.7l1.6 -1.8M578.1 304.1l3.4 -3.7M484.3 393.6l1.8 -1.3M601.9 238.0l1.7 -1.9M254.2 435.7l5.6 -2.2M653.0 222.0l1.9 -2.3M479.3 328.3l2.5 -0.1M742.2 472.3l3.8 -3.7M253.7 400.9l3.2 -2.8M213.9 288.9l2.1 -0.5M252.2 399.4l4.6 -2.0M480.2 360.0l3.3 -0.2M484.3 375.9l3.0 -3.6M151.8 256.2l3.8 -2.8M521.8 352.1l3.9 -2.8M438.7 346.4l3.2 -2.1M439.5 354.2l1.5 -1.6M279.8 252.9l3.1 -2.7M507.9 351.9l5.0 -3.2M263.0 427.2l6.1 0.5M265.4 256.3l3.0 -2.6M483.1 249.2l4.8 -4.0M545.8 231.0l2.5 2.7M173.2 315.4l3.4 3.2M211.6 360.5l3.0 -2.6M253.6 483.3l3.4 -1.1M722.7 477.1l2.7 -2.6M181.3 256.1l3.1 -2.6M178.6 314.3l6.1 -0.7M486.4 379.6l3.0 -1.2M562.7 313.9l5.8 -2.2M492.7 260.5l2.5 -2.0M166.4 285.2l0.6 3.4M186.5 255.1l5.0 -3.0M258.4 196.8l1.8 -1.1M619.7 290.0l3.3 -5.5M239.8 242.5l2.7 -3.4M465.3 421.4l2.0 -1.1M145.3 240.8l3.1 -1.9M478.6 280.9l1.3 -1.7M261.3 426.1l2.6 -1.4M534.9 365.3l0.4 2.6M264.8 200.1l3.7 -3.1M186.0 276.1l3.0 -3.0M479.2 341.4l4.3 -1.9M256.1 458.8l2.5 -1.9M702.5 233.9l4.5 -2.8M155.9 294.2l2.5 -2.7M677.9 323.3l2.3 -0.7M161.9 210.3l2.9 -3.5M151.3 266.6l4.2 -2.1M290.2 402.5l4.8 -4.1M426.1 276.6l2.7 -3.7M183.5 219.5l2.0 -1.9M612.9 321.5l2.4 -4.0M393.2 367.7l2.3 -1.3M709.1 229.1l1.5 -2.9M307.1 249.4l5.7 -2.6M489.8 474.3l1.7 -1.2M651.0 215.7l1.3 2.7M457.7 481.1l4.1 -2.7M561.5 252.1l4.8 -3.5M317.6 209.6l2.9 -2.2M748.0 481.1l3.7 -4.3M725.5 489.8l4.0 -3.9M275.6 493.7l2.7 -3.6M486.3 432.8l4.7 -3.7M137.0 239.7l4.5 -4.0M470.3 403.8l4.3 -3.5M622.7 361.6l3.6 -4.0M596.6 337.7l3.7 -4.6M607.6 310.4l4.6 -4.0M734.1 486.8l2.3 -5.5M536.0 333.6l4.1 -0.8M215.9 308.1l5.0 -2.9M270.4 188.7l2.6 -1.7M247.1 249.3l4.5 -4.1M342.8 192.9l2.6 -2.0M302.0 386.8l4.6 -4.5M453.0 258.1l5.1 -3.3M683.0 311.2l1.4 -2.6M313.6 445.6l2.8 -1.6M462.2 512.4l5.4 -3.4M253.8 282.8l2.3 -1.3M609.2 260.2l5.5 -0.8M417.1 344.5l2.5 -1.6M534.9 295.9l2.7 2.7M580.2 275.8l3.1 -4.0M192.0 247.2l4.3 -1.9M289.1 403.1l4.8 -2.6M609.6 225.6l1.6 -2.6M281.0 209.0l2.5 -1.0M662.3 397.2l3.2 -4.2M307.6 420.6l3.5 -2.3M168.2 288.6l2.9 -2.4M711.7 507.5l2.1 -3.2M688.1 248.1l2.2 -2.2M405.9 381.0l3.8 -3.7M606.3 275.0l3.6 4.5M511.0 411.1l3.0 -2.8M223.5 242.1l5.6 -3.3M211.8 352.9l2.0 -2.2M697.1 435.4l3.3 -4.9M657.1 226.2l1.1 -2.9M452.3 448.2l1.6 -1.5M178.2 229.3l5.5 -3.4M695.0 512.1l2.2 -2.4M733.3 237.3l2.5 -4.6M701.4 340.8l3.7 -0.8M472.9 339.5l4.9 -3.8M259.0 204.5l3.7 -2.8M176.7 279.9l1.9 -1.1M253.7 386.3l2.2 -0.4M442.3 304.7l2.9 4.9M512.3 337.0l2.2 -0.9M723.6 241.1l1.2 -1.9M599.9 362.5l2.4 -5.5M233.1 380.2l2.2 -1.7M204.7 246.6l4.1 -2.3M460.7 349.1l1.4 -2.2M665.7 409.2l1.2 -1.7M483.3 218.5l2.7 0.2M507.8 340.2l2.7 -1.6M273.5 518.5l1.9 -2.2M723.1 301.2l3.4 -3.2M175.4 313.8l1.8 -2.5M494.8 262.4l1.6 -2.2M143.5 207.1l3.2 -3.2M472.3 433.7l5.2 -0.5M754.9 240.4l1.6 -2.4M642.0 242.4l2.7 -2.9M496.0 381.6l4.6 -3.7M290.6 565.7l2.4 -2.1M389.3 188.8l3.4 -2.5M620.8 260.7l5.8 -1.0M582.6 261.8l3.2 -0.5M701.1 513.6l2.2 -4.4M293.7 246.2l2.2 -1.8M254.0 455.2l4.1 -3.9M693.4 426.0l2.6 -0.3M227.2 230.1l3.7 -1.9M678.7 364.7l1.2 -2.0M314.2 460.5l4.1 -0.9M454.8 232.3l3.3 -2.1M637.9 285.5l3.5 4.0M233.7 422.3l3.9 -3.9M722.0 505.7l4.9 -2.2M529.9 265.6l4.5 -0.9M619.3 366.2l2.9 -3.3M542.1 383.4l2.1 3.6M483.9 459.4l3.5 -3.2M507.9 366.6l4.5 -2.2M692.4 281.5l2.9 -5.8M714.1 239.7l5.1 2.1M270.6 220.2l3.8 3.0M341.1 191.9l5.4 3.1M647.3 331.1l1.8 -2.5M347.8 222.2l3.1 -0.5M234.3 259.6l2.0 2.1M753.3 439.3l2.9 -3.0M518.0 281.7l1.8 -1.1M702.5 518.6l1.0 -3.3M495.2 468.7l1.6 -1.7M517.7 453.4l2.4 -0.7M510.2 309.6l4.4 -3.7M707.7 250.7l3.4 -4.9M276.0 428.6l3.0 -2.2M250.0 408.1l1.5 -2.0M703.1 231.7l2.6 -4.0M543.2 362.7l3.8 -2.5M460.8 215.1l3.2 -1.4M672.8 355.5l2.3 -4.9M306.9 232.1l2.5 6.0M421.0 377.8l3.9 0.3M708.9 250.9l3.5 -3.5M506.8 322.5l3.0 -2.8M153.6 252.9l3.1 1.4M194.3 222.6l3.0 -0.4M584.9 335.9l5.0 -1.4M473.6 241.6l5.8 -2.3M165.3 249.8l2.2 -1.8M499.9 248.3l4.0 -3.8M365.3 181.7l1.6 -1.4M434.9 390.1l2.6 -2.4"/><path stroke-width="1.6" d="M185.7 202.6l3.1 -2.9M309.6 405.9l3.3 -3.6M574.5 336.6l2.3 4.6M684.0 382.1l1.9 -1.8M597.1 289.1l2.7 -3.7M175.8 227.2l3.6 -2.2M517.8 341.6l3.3 0.3M686.3 305.5l2.2 -5.9M235.2 247.0l4.8 -2.8M247.6 269.8l2.9 3.4M698.9 252.5l3.4 -4.2M580.1 292.6l1.1 -2.4M745.5 493.2l4.8 1.2M459.3 208.6l2.1 -1.5M176.9 321.8l4.9 -2.6M252.8 395.0l3.3 -2.5M208.8 241.5l2.1 -1.6M451.2 285.6l1.2 1.9M284.9 416.4l2.5 -2.4M275.7 377.0l2.5 -2.0M204.0 279.5l1.3 -1.8M618.6 220.1l3.5 -0.5M498.6 330.3l4.0 0.3M413.9 314.5l1.8 -1.4M650.6 355.5l3.5 -4.2M432.3 362.1l3.4 -0.6M477.8 366.3l2.8 -3.7M395.8 200.2l5.0 -3.3M609.8 245.4l3.2 -3.4M511.9 365.6l2.2 -2.7M173.5 269.6l2.0 -1.3M688.8 369.6l1.9 -2.9M741.8 256.7l3.0 -4.3M348.5 212.7l3.3 -0.1M437.1 291.8l2.0 -1.6M418.8 250.6l3.8 -3.2M441.5 266.2l4.8 -2.2M671.8 232.9l2.1 -2.7M252.4 205.4l1.9 0.9M478.0 511.1l4.8 -2.3M523.0 312.6l3.5 -2.6M291.9 269.6l4.1 -2.2M433.0 335.8l1.9 -2.4M480.9 209.0l2.9 -1.4M598.0 305.1l3.4 -4.3M281.5 507.4l4.6 -3.8M265.4 370.8l1.5 1.8M608.9 312.7l2.9 -2.3M485.3 275.5l5.1 -2.6M584.2 235.8l4.3 -3.6M630.4 266.6l2.4 -4.1M482.0 374.3l2.2 -1.9M372.6 174.2l3.2 -2.8M433.4 359.2l2.5 -1.7M463.3 388.1l2.1 -1.2M259.5 259.2l2.7 -2.0M595.6 366.0l3.4 -4.8M197.9 203.9l5.2 -3.7M599.8 208.5l3.2 -0.6M413.2 343.6l2.4 -2.4M522.6 308.7l1.7 -1.2M489.6 331.1l3.4 -2.1M730.8 241.0l1.4 -1.6M552.8 249.9l3.1 -3.2M529.2 401.3l1.2 2.2M185.9 312.2l3.3 5.3M568.8 304.0l1.4 -1.6M516.5 398.3l1.9 -0.9M706.9 312.9l5.4 3.3M495.0 293.6l5.2 1.9M593.7 336.8l3.1 -4.1M484.5 266.3l5.6 -3.1M147.1 232.2l4.5 -4.5M444.2 280.4l3.2 -2.8M234.5 404.6l2.8 -3.2M762.5 516.1l2.1 -4.6M651.7 413.4l4.3 -3.6M299.1 462.1l4.9 -1.4M200.4 254.9l3.7 -3.3M228.9 239.9l1.7 -1.4M170.8 305.0l2.5 -1.4M631.3 245.4l4.8 -4.0M149.3 208.8l2.7 -1.5M618.0 369.3l1.0 -1.9M484.8 418.8l1.9 -0.9M262.6 415.0l2.3 -2.1M673.6 342.9l1.9 -2.5M201.3 277.1l1.4 1.7M730.6 480.3l2.1 -3.5M167.2 217.9l3.6 1.6M270.1 222.7l2.0 -2.0M673.0 364.4l1.5 -2.1M731.5 526.5l1.2 -1.8M230.9 260.9l2.9 -2.1M159.9 248.9l1.8 -1.2M660.8 326.6l2.8 -4.2M729.6 292.4l2.4 -2.3M196.8 357.9l2.1 -2.8M520.4 353.2l1.2 -2.1M212.6 238.1l2.3 -2.0M564.2 304.5l3.2 -2.1M442.9 396.7l3.5 -2.4M750.5 262.6l3.6 -3.8M235.7 227.0l1.9 -2.4M551.4 322.4l4.8 -1.4M679.5 385.6l1.1 -1.9M538.2 259.2l1.6 -1.5M190.1 334.0l3.3 -2.9M493.1 260.3l4.4 -4.0M474.8 323.4l3.0 -2.6M570.1 207.8l4.4 2.0M639.1 355.0l3.7 -1.1M269.4 468.2l3.8 -3.6M580.6 226.7l2.9 -3.1M594.3 356.8l6.3 0.1M499.6 483.9l3.8 -1.4M515.6 335.9l5.0 -1.1M175.9 250.3l4.2 -2.6M607.0 332.8l3.2 -0.9M280.7 484.6l4.3 -1.4M465.2 336.7l4.8 -3.1M203.4 251.0l5.4 -1.8M503.9 429.3l1.0 2.6M554.4 335.2l1.9 -1.8M178.9 212.8l3.5 -2.7M191.4 347.1l3.0 -2.4M465.0 321.6l1.3 -2.2M547.8 241.9l2.2 -2.9M527.8 359.5l2.4 -1.5M437.9 362.0l1.7 1.2M243.9 303.7l3.9 -3.4M189.9 324.9l3.2 2.4M501.0 336.4l4.3 -3.7M684.5 236.4l2.9 -3.3M542.4 239.0l2.5 1.9M673.0 256.7l1.3 -1.8M363.4 204.0l2.9 -2.1M322.5 467.3l2.4 -2.1M232.9 207.4l3.1 -2.5M497.9 303.0l4.9 -1.2M578.3 279.0l2.1 -3.2M682.1 321.0l3.2 -2.9M442.2 323.0l3.9 -3.8M716.2 500.1l1.4 -2.8M517.2 435.8l1.8 -1.4M239.6 209.4l3.8 -3.9M463.9 261.4l2.8 -1.7M570.1 295.1l4.7 -3.6M569.5 268.7l2.6 -2.7M519.5 299.6l2.3 -2.3M236.8 313.2l4.2 -3.1M449.7 248.7l4.6 -3.6M670.2 225.1l3.8 -1.3M459.6 291.4l2.7 2.7M231.3 420.7l1.9 -3.1M256.4 424.2l1.9 -1.8M477.7 460.1l1.3 2.6M241.3 200.6l3.4 -2.7M507.6 389.4l2.0 -2.0M680.2 369.7l2.8 0.1M554.1 301.6l3.1 2.1M662.5 316.8l2.2 -2.3M712.3 492.8l1.3 -3.9M162.8 254.1l3.2 -3.4M342.0 204.7l5.0 -3.0M237.9 415.1l1.8 -1.7M509.7 446.2l4.8 -2.0M587.9 310.8l1.4 -1.6M151.6 248.8l3.4 -4.1M741.6 508.0l2.6 -3.9M638.0 215.3l2.4 -3.5M466.7 219.4l1.6 -1.3M459.8 233.4l1.9 -1.5M692.1 494.7l2.0 5.9M263.5 369.5l3.2 -2.2M626.7 215.2l5.5 -2.1M735.4 246.3l2.5 -5.4M490.9 395.8l5.2 -3.0M456.9 455.4l1.2 -1.9M661.9 334.2l3.2 -3.7M731.2 528.5l1.7 -2.6M402.0 294.6l3.2 -2.0M270.4 447.0l1.7 -2.3M628.6 326.3l2.2 3.3M678.6 380.2l2.3 -2.7M487.0 345.2l5.3 -2.9M638.3 296.8l1.4 2.1M591.0 245.1l4.1 3.6M484.2 216.6l3.1 -2.9M671.6 378.2l2.0 -4.5M609.2 211.2l1.8 -1.8M628.4 292.3l1.1 -1.7M647.5 283.5l2.5 -4.1M465.3 343.2l3.0 -1.5M411.4 348.3l5.2 -3.8M366.2 205.7l2.4 -2.6M657.0 409.7l2.7 -3.3M595.1 212.9l4.4 -4.0M663.3 325.3l1.3 -2.3M288.3 390.3l2.7 -1.7M313.9 192.1l5.4 -2.7M492.4 383.3l1.6 2.3M502.3 381.0l3.5 -3.5M471.1 423.9l1.8 -1.2M669.4 238.8l1.0 5.2M216.7 356.3l3.6 -2.5M481.6 256.8l3.3 -3.4M546.8 306.4l3.8 -4.1M503.0 401.2l2.2 -1.3M247.2 396.2l4.7 -3.9M411.4 315.3l3.5 -2.2M469.3 378.9l3.9 -3.8M472.2 425.8l3.5 -3.1M401.3 329.3l2.6 -0.9M255.4 247.9l2.0 1.9M461.9 321.0l4.9 -3.9M711.0 298.4l2.2 -3.7M724.8 400.7l1.6 -2.6M446.6 353.5l5.0 -2.3M717.7 455.8l4.3 -3.8M178.3 278.2l5.5 -3.3M521.4 362.0l3.2 -1.5M603.5 383.7l3.6 -5.0M261.0 269.9l2.9 -2.2M344.7 182.7l2.6 -1.5M746.0 525.6l1.6 -3.0M420.0 350.9l2.3 -3.1M443.0 357.9l4.3 -0.7M280.0 426.2l3.6 -2.2M476.1 349.5l3.6 -3.1M245.6 230.5l3.3 -2.0M293.7 426.1l3.9 -0.9M697.9 490.0l2.4 4.8M211.8 347.1l3.4 -2.6M692.3 511.5l3.7 -4.2M279.0 418.1l4.3 -3.6M528.6 471.3l4.1 -3.8M465.0 475.0l5.4 -3.3M486.9 379.9l2.0 -1.5M610.6 368.3l2.8 -4.0M576.9 211.7l1.3 -2.0M207.2 270.7l2.0 -1.4M613.4 337.7l2.1 -4.2M768.3 509.5l4.3 -3.9M665.2 320.2l2.2 -3.1M295.1 205.2l3.8 -3.8M292.0 196.2l5.0 -4.1M692.4 231.7l6.1 -1.0M529.1 279.1l3.3 -4.4M251.5 210.0l4.5 -4.1M522.8 278.7l3.1 -2.6M552.9 321.7l2.9 -2.1M228.0 406.8l3.9 -2.7M659.1 343.5l5.4 -3.1M465.2 288.5l3.7 -3.8M332.9 434.9l1.7 -1.8M662.5 221.2l2.9 -2.9M471.0 475.9l2.7 -1.1M255.3 403.6l4.4 -4.3M558.2 319.6l2.3 -3.3M282.2 464.6l1.9 3.9M463.5 343.7l3.3 -3.1M596.7 252.6l2.4 -2.1M561.6 242.5l4.9 -1.4M412.3 336.5l1.9 -0.8M428.4 392.8l2.7 -0.4M688.6 329.1l2.8 -3.4M170.6 299.5l2.2 5.9M569.5 239.0l2.9 -3.2M729.5 471.4l1.4 -1.4M158.8 234.1l4.0 -4.0M473.7 332.7l3.8 -4.1M602.1 305.8l1.1 -1.8M215.7 259.9l2.9 2.2M212.1 245.6l4.3 -2.5M531.4 293.5l1.6 -1.5M523.4 228.2l3.6 4.7M757.9 263.8l2.2 -3.4M132.3 230.1l4.1 -2.3M400.1 226.7l2.6 -2.9M430.1 385.6l5.3 -2.0M692.9 325.2l2.9 -3.5M657.7 315.8l1.6 3.7M736.7 482.8l1.4 -2.8M671.5 289.3l5.2 -3.4M662.7 355.3l1.2 -1.8M455.5 422.3l3.1 -2.3M639.3 306.6l2.3 -1.9M625.2 222.9l3.0 -3.5M515.3 403.6l3.8 -2.2M527.5 271.7l4.0 -1.6M695.1 295.0l2.5 -4.4M348.3 217.0l1.3 2.7M636.9 300.9l2.5 -5.1M507.0 374.8l4.4 -2.6M269.3 535.0l1.9 -1.3M715.8 476.0l2.2 -3.0M284.8 394.8l4.1 -2.3M744.6 549.4l2.5 -3.4M244.7 273.8l1.6 -1.6M429.0 345.6l4.9 -4.2M454.5 410.4l1.8 -1.9M283.6 469.4l3.5 -2.1M278.2 378.4l4.5 -2.8M235.3 437.5l4.7 -1.9M291.2 487.5l3.9 -1.8M266.5 249.3l1.9 -1.3M138.9 216.7l2.5 -1.5M267.3 204.6l4.3 -1.9M595.4 268.3l3.0 -2.6M590.0 324.6l1.7 -2.3M618.9 320.0l3.4 -2.9M235.7 421.2l2.6 -1.8M568.9 222.5l2.4 -1.7M538.0 387.0l1.7 -2.0M624.4 230.7l2.6 -4.2M462.5 216.6l4.4 -4.0M292.5 474.9l5.1 -1.5M454.4 339.2l3.9 -2.1M230.4 315.6l3.8 -2.4M704.7 236.0l2.2 -0.4M710.3 268.1l4.0 3.6M245.7 308.9l2.8 -3.2M505.2 233.3l2.9 -3.0M692.2 289.5l1.4 -2.6M453.6 281.7l2.3 -1.6M543.6 321.9l4.4 -4.7M615.1 247.0l1.6 2.3M443.9 285.9l5.0 -2.9M161.6 233.2l1.5 1.6M510.7 379.1l3.0 -2.7M507.0 303.3l5.1 -1.7M471.7 406.3l3.1 -3.0M622.0 244.8l3.9 -4.1M621.2 242.8l2.4 -5.8M711.0 254.7l2.5 -4.1M273.2 378.9l2.0 1.0M298.5 496.3l2.8 -1.5M686.1 370.2l1.9 -1.8M190.2 275.9l4.5 -3.3M219.5 313.4l2.8 -2.4M489.3 491.2l1.5 -1.7M698.7 261.7l3.1 -3.7M473.2 367.5l2.1 -4.5M593.3 332.2l4.3 -4.2M482.9 298.1l2.0 -2.1M728.9 486.2l2.0 -3.7M696.9 253.7l1.2 -2.0M576.8 340.8l4.4 -4.4M477.3 259.5l2.6 -1.3M544.9 319.2l1.3 3.6M253.0 266.5l2.4 2.9M670.6 350.0l3.3 -4.1M234.8 380.3l5.0 -1.0M274.9 375.9l5.4 -2.4M514.9 444.0l3.3 -2.3M421.1 298.1l2.8 -2.7M394.6 210.7l3.4 -4.0M232.7 287.6l3.3 -4.2M610.9 222.5l3.9 -4.9M157.2 237.4l5.3 -3.0M646.6 261.5l1.2 -2.5M245.9 277.8l1.7 4.8M292.7 467.3l3.7 -3.3M302.7 477.7l5.1 -2.7M603.1 274.8l1.7 -5.7M714.2 475.9l1.5 -1.8M205.7 249.3l4.3 -4.1M613.2 318.4l1.5 -4.1M524.1 278.7l2.9 -1.7M256.9 480.1l3.6 -2.6M271.5 215.3l1.5 1.9M262.7 196.9l5.7 -2.2M263.3 404.5l4.5 -3.4M709.2 230.6l1.8 -3.3M550.0 335.9l3.2 -2.4M434.0 321.9l1.9 -1.1M629.3 306.7l1.5 -1.9M166.6 243.6l2.4 -3.1M522.4 410.7l2.2 -0.1M308.3 201.6l3.8 -3.7M639.2 312.7l1.7 3.6M614.7 291.3l4.3 -4.7M233.5 277.0l2.6 -2.9M672.4 359.8l4.2 -2.9M308.3 404.3l2.3 0.5M691.5 297.0l2.2 -3.8M433.4 367.6l6.1 -1.6M227.3 414.1l5.2 -2.5M588.2 271.6l1.9 -3.4M731.4 485.6l2.8 -4.6M451.1 464.8l2.3 -2.8M513.8 393.8l5.0 -3.0M446.4 278.7l3.4 -3.6M274.9 456.8l1.4 2.2M752.6 253.3l1.8 -3.6M347.2 216.7l4.2 -1.8M421.8 287.0l3.5 -2.8M194.4 245.9l2.7 2.8M224.7 263.7l4.1 -3.9M504.7 380.5l5.1 -0.5M506.5 226.9l3.4 3.0M202.8 309.9l2.6 4.3M218.1 211.1l3.7 -3.0M696.4 235.3l3.7 2.4M304.6 423.1l2.5 -2.3M324.3 465.3l2.8 -2.1M606.3 262.2l2.3 2.8M506.5 297.9l2.7 -0.3M675.3 381.6l4.5 -4.4M641.4 223.9l4.3 -3.3M645.6 356.2l0.8 -2.0M585.3 237.4l3.8 -4.8M234.0 434.9l2.8 -1.8M520.6 392.8l2.2 -0.9M665.0 327.9l2.0 -2.3M247.9 424.0l1.3 2.0M255.6 235.3l3.2 -3.0M500.2 266.8l3.3 -2.1M646.8 256.8l1.1 -1.8M485.6 253.8l4.7 -3.0M506.8 470.2l4.9 -3.8M309.4 414.9l5.5 0.8M671.8 251.1l1.4 -1.7M712.1 280.5l3.3 -5.6M768.1 451.6l1.9 -2.0M538.6 364.1l2.0 -0.9M561.5 319.4l4.2 -3.4M697.0 270.0l1.8 -3.9M513.5 447.8l4.2 -3.8M477.0 449.6l2.6 -3.2M200.1 247.9l2.1 -1.0M709.8 236.6l2.4 -4.0M135.4 221.1l2.1 -1.1M635.9 262.0l3.2 -3.7M430.8 352.4l3.8 -3.3M562.8 325.0l3.8 -4.9M201.0 299.1l4.2 -2.0M180.6 286.4l3.0 -4.0M443.5 334.4l2.5 -1.4M251.5 284.9l1.2 -1.7M534.6 338.7l2.8 1.4M270.1 401.8l5.5 -2.8M182.8 225.4l2.9 -2.5M686.6 363.2l1.6 -2.0M503.9 272.7l3.8 -4.0M649.7 260.2l2.6 -3.0M215.8 342.7l3.1 -2.2M190.1 256.7l4.3 -0.8M512.3 437.0l5.0 -3.6M627.8 234.5l1.3 -1.8M586.5 301.5l2.9 -3.0M404.9 370.5l1.7 -1.7M210.0 218.4l2.8 2.8M568.9 311.3l3.3 -3.6M595.7 310.4l0.9 -1.9M493.7 345.5l2.8 -3.2M186.3 324.2l5.7 0.8M515.6 317.7l5.0 0.4M429.7 386.6l2.6 -3.9M566.4 231.3l3.6 -0.0M469.9 438.9l2.6 -2.9M459.2 478.5l3.2 -2.3M343.8 230.3l1.9 -3.9M450.8 265.0l2.6 -1.3M436.4 345.0l3.5 -2.0M698.6 503.1l0.6 -2.0M535.6 380.5l1.8 -2.3M622.1 244.9l3.3 3.1M267.1 259.9l3.1 -2.3M741.6 529.3l4.1 -4.0M565.9 258.9l4.1 -4.8M683.7 272.5l3.5 -5.3M651.1 248.1l4.0 -1.5M749.4 528.7l2.4 -1.8M174.6 263.7l4.2 -2.6M625.4 345.6l3.2 -3.3M289.7 425.2l1.4 2.5M500.2 459.3l2.6 -2.5M442.8 306.7l1.5 -1.5M547.0 236.9l5.3 -3.4M670.6 274.7l2.6 -4.4M772.8 512.4l1.9 -3.8M277.8 377.0l2.7 -2.0M756.5 245.7l2.3 -3.9M254.9 499.5l3.1 -2.8M627.5 259.3l2.4 -3.7M754.1 249.9l1.7 -1.7M234.3 389.4l5.2 -2.3M731.2 517.0l1.6 -2.5M444.5 326.7l1.8 3.7M476.2 212.7l3.0 -3.2M209.9 222.6l4.4 -4.2M500.4 422.3l5.8 -1.1M398.6 383.2l2.0 -0.0M522.7 396.9l1.8 -1.5M788.2 559.0l5.4 -0.4M146.6 281.7l1.6 -2.5M224.8 294.2l3.7 -4.5M245.5 309.7l3.5 -2.9M240.9 438.7l3.5 -3.1M531.0 281.1l3.9 -0.4M379.7 177.8l4.9 -4.2M462.5 483.0l4.6 -3.6M537.0 306.2l2.2 -1.4M174.4 316.6l3.0 -3.1M548.1 218.4l4.4 -4.7M184.9 269.9l2.7 -1.5M413.6 295.2l4.7 -2.4M585.5 255.8l2.4 -3.4M281.8 451.4l4.2 -3.7M612.3 280.3l2.8 -4.4M512.2 405.7l4.1 0.4M668.3 293.3l1.1 -2.0M722.2 250.2l1.6 -3.1M493.8 467.6l2.8 -2.7M577.6 232.7l4.9 -0.6M552.3 230.8l2.0 -1.7M677.0 259.9l1.3 -4.5M744.5 437.4l3.0 -4.5M501.9 255.3l3.6 -1.7M464.2 355.0l3.8 -1.8M182.9 254.7l4.6 -2.0M528.4 258.0l4.3 4.0M233.9 377.3l3.7 -2.7M564.7 337.8l3.1 -1.7M593.0 252.2l5.1 -0.6M391.0 343.8l3.0 -2.0M195.0 247.7l3.2 -2.0M473.5 508.0l2.7 2.4M660.0 335.6l2.3 2.2M368.7 211.1l4.1 -2.9M197.5 282.3l1.7 -2.4M545.1 237.0l1.4 -1.9M250.4 218.5l4.1 -2.6M592.3 205.2l2.5 -3.2M470.3 462.9l3.0 -0.6M273.0 406.5l5.3 -2.7M488.6 468.4l1.7 -1.2M509.7 237.5l2.2 -1.7M502.8 484.1l1.7 -1.3M395.5 184.0l2.3 2.1M690.5 446.9l1.9 -1.7M449.3 459.2l4.4 -4.2M270.6 187.1l3.5 -2.6M621.0 257.6l1.8 -6.0M444.4 388.2l2.9 -0.1M691.0 255.5l1.6 -2.5M293.8 262.5l2.8 -2.5M389.5 175.7l2.5 -2.8M465.8 243.6l3.6 -4.1M529.0 337.2l2.6 -1.6M297.8 429.6l2.4 -1.5M404.2 292.8l1.7 -1.3M178.9 283.8l5.3 -2.8M278.5 478.9l2.7 -1.6M530.9 228.3l1.6 2.6M351.7 180.5l1.9 -3.0M319.6 450.7l2.2 -1.7M507.2 464.0l3.1 -2.9M501.1 237.5l3.6 -3.4M200.3 295.5l3.9 -2.0M710.8 302.5l5.7 -1.9M428.2 294.8l1.8 -1.1M164.3 284.9l3.3 -0.7M681.1 262.6l2.7 -5.2M720.6 303.2l1.9 -2.2M715.6 387.9l3.1 -0.3M583.5 297.8l4.0 -3.4M740.0 503.9l2.6 -0.3M239.7 417.9l2.6 -0.8M528.0 409.0l5.0 -4.0M645.3 343.2l2.2 2.7M208.5 264.4l3.9 -0.8M460.2 272.1l4.4 -3.9M706.8 511.7l4.9 -3.8M661.8 363.8l1.9 -2.0M738.8 552.0l3.0 -4.1M469.2 271.0l3.0 -3.1M611.2 371.0l3.1 -4.2M613.1 314.6l3.3 -1.7M494.8 370.0l2.1 -1.6M462.7 328.7l3.6 -2.0M404.3 376.6l4.4 -3.2M483.4 446.7l3.1 -2.1M709.1 347.5l2.4 -4.7M688.1 296.8l2.9 4.4M706.8 279.6l3.9 -3.2M300.6 474.5l4.6 -3.0M562.9 231.6l3.8 -4.1M234.5 261.9l3.7 -3.2M679.5 231.5l5.3 -0.1M695.3 315.2l2.6 -3.0M139.6 229.6l3.4 -3.2M452.8 215.7l2.3 -2.4M177.8 254.6l3.3 -2.7M547.0 217.9l1.9 -2.0M723.7 404.4l2.1 -5.8M615.9 263.3l0.8 -2.8M199.2 347.3l1.7 -1.3M475.2 239.4l1.8 -1.7M674.2 239.5l1.8 -5.8M244.1 253.2l3.6 -5.0M713.7 519.9l2.1 -2.5M614.4 305.2l3.9 -1.5M396.0 343.5l4.9 -0.5M526.6 372.7l3.0 -2.0M614.5 248.4l3.4 -1.1M312.9 425.6l4.5 -0.6M699.2 264.0l1.9 -2.4M146.2 229.7l2.0 -1.3M455.8 246.2l5.2 -3.5M180.2 327.4l5.0 -2.9M651.9 367.2l2.2 -4.4M463.5 340.3l1.6 4.5M425.0 363.2l2.9 -4.8M526.4 293.5l2.9 -2.3M706.2 408.0l3.2 4.0M381.3 190.9l1.6 -2.0M199.8 229.8l4.3 -4.1M484.4 278.2l4.6 -2.1M600.5 223.4l2.2 0.0M242.8 398.2l3.3 -3.8M453.2 217.7l4.4 -3.0M589.3 222.5l2.0 -2.9M239.8 435.5l5.3 -3.6M590.2 231.8l1.9 5.3M453.2 271.7l4.6 -2.3M644.7 319.7l2.6 -3.2M759.2 530.4l1.4 -1.5M441.0 370.9l2.6 -2.3M724.8 312.5l2.6 -4.2M349.7 208.6l3.2 -1.8M584.6 335.5l1.5 -2.0M681.9 339.5l1.2 -1.9M266.6 480.1l4.1 -3.2M253.4 291.7l2.8 -2.0M715.1 286.8l2.5 -0.5M702.3 249.2l2.9 2.3M285.6 429.9l1.8 -1.1M204.1 292.3l2.4 0.3M603.5 341.8l0.9 -1.9M269.0 383.9l2.4 -2.4M812.5 535.4l1.3 -1.9M574.2 293.2l5.0 -2.1M279.9 516.1l4.2 -4.9M746.5 255.0l0.8 -2.2M620.3 218.0l3.1 -3.8M695.7 353.7l1.9 3.0M289.4 512.5l4.3 -2.0M142.6 249.0l3.2 0.4M391.4 193.9l4.7 -1.7M400.5 207.3l3.4 -3.8M571.5 259.1l4.0 -3.6M584.4 238.6l4.3 -4.4M594.0 236.5l2.3 -4.4M257.2 417.4l4.6 4.1M461.7 435.4l4.2 -4.4M168.0 238.6l2.1 -0.1M636.9 248.6l1.9 -2.1M758.3 454.5l2.4 -4.3M671.7 227.1l2.3 -5.4M454.5 384.9l4.0 -4.1M501.7 382.9l3.1 4.6M651.5 344.3l2.6 -3.0M354.8 214.7l2.8 -2.7M239.2 390.9l4.8 -3.4M544.6 360.1l3.8 -4.5M529.6 310.3l3.7 -2.2M569.5 312.0l3.9 -4.6M309.1 201.0l4.7 0.9M525.7 225.5l3.7 -3.7M302.9 428.4l3.3 -3.9M741.2 432.8l2.5 -3.4M475.8 392.1l5.9 -2.2M504.4 348.2l2.4 -2.7M601.1 335.2l2.7 -3.0M135.0 239.8l4.4 -2.1M595.2 219.6l3.6 -4.9M180.6 262.8l4.8 -4.1M696.7 234.6l1.2 -3.6M640.5 297.8l1.2 -1.7M526.6 262.1l4.3 -3.1M634.7 302.1l3.8 -4.9M251.2 458.5l4.1 -4.3M175.9 301.6l3.4 -1.9M617.6 278.5l1.1 -1.8M275.5 369.1l2.0 3.2M449.5 384.1l3.3 -2.5M497.2 369.9l2.4 4.4M261.9 291.0l1.8 -1.4M679.9 275.0l1.3 -2.7M304.3 471.0l3.4 0.6M209.0 289.7l3.7 -2.3M497.1 235.2l3.4 -2.8M644.8 346.7l2.0 -2.6M152.6 267.3l4.3 -4.6M217.1 226.0l2.5 -1.8M640.9 273.6l2.7 -3.5M625.6 260.1l1.9 1.3M305.2 420.3l2.7 5.5M456.7 325.4l2.1 -2.0M593.9 320.3l2.4 -1.5M308.4 251.4l3.7 -5.1M695.0 341.7l2.5 -3.0M760.3 535.2l1.7 -6.2M345.8 186.5l3.8 -3.3M150.2 273.5l2.8 -2.0M527.1 297.5l4.2 -2.5M680.5 227.3l2.7 -4.3M570.5 338.0l2.7 -1.1M229.6 424.5l1.8 -2.2M277.5 558.9l3.7 -3.3M280.2 512.5l3.7 2.2M620.8 364.1l2.6 -3.6M287.4 245.7l4.7 -4.2M517.0 249.3l1.8 1.9M615.1 215.4l3.3 -5.6M673.7 234.9l1.4 -1.8M396.4 200.3l3.9 -3.0M516.3 224.9l2.9 -2.5M178.6 211.0l2.5 5.5M757.2 529.2l3.3 -4.7M448.2 271.3l3.9 -2.3M693.3 421.4l3.1 -3.6M410.9 195.7l3.4 -5.2M600.1 212.6l4.7 -4.0M452.6 412.2l3.7 -1.9M559.3 355.4l3.2 -3.6M490.8 235.3l4.1 -3.0M578.4 209.6l4.2 -3.1M366.7 197.8l3.9 -3.4M171.0 296.3l3.6 -2.8M752.1 498.7l1.9 -4.7M466.6 235.3l3.2 -2.1M483.7 416.1l4.6 -3.8M483.1 234.7l2.9 -2.5M511.6 260.2l6.1 -0.3M581.5 320.4l1.0 -1.9M575.1 297.0l2.7 5.4M152.9 256.4l3.7 -3.2M599.4 306.9l3.2 -0.6M262.1 296.2l1.6 -2.6M285.0 435.2l5.0 -2.9M537.6 217.5l3.2 -0.5M154.4 273.4l2.6 -2.3M169.6 312.3l2.5 -2.5M446.7 373.3l2.6 -2.7M686.2 302.0l3.3 -5.1M347.8 221.0l1.0 2.2M215.9 311.6l4.2 -3.9M598.5 284.9l2.1 -2.6M274.6 406.3l5.0 -3.1M256.0 370.6l5.7 -2.3M557.6 323.6l2.6 -1.6M559.1 245.9l2.2 -2.7M255.1 301.4l5.3 -3.4M574.4 272.5l1.9 -1.9M589.9 350.8l3.6 1.8M259.9 272.4l2.5 -2.6M313.3 441.1l3.8 3.5M458.1 340.5l1.6 -1.4M260.1 373.7l2.5 -2.3M303.2 441.3l1.7 -1.4M268.1 439.2l4.0 -3.5M225.5 217.1l5.2 -2.2M712.8 303.6l1.7 -3.6M543.4 245.2l5.8 2.4M592.4 298.2l3.3 -4.6M760.8 520.4l2.7 4.9M598.8 227.7l2.5 -2.4M175.9 261.6l3.5 -2.5M415.7 349.5l2.3 -1.6M275.2 445.0l4.7 -2.8M510.4 268.4l0.3 2.5M728.9 505.3l2.0 -3.3M514.7 323.2l4.0 -3.5M242.0 378.5l4.3 -4.5M472.5 487.4l4.1 -2.9M765.5 242.4l3.6 -1.9M528.6 333.7l2.0 3.2M526.2 373.3l5.2 -1.8M612.5 345.0l1.2 -2.2M461.4 393.7l3.1 2.8M642.9 325.5l2.2 -4.1M697.3 232.1l3.1 -3.8M295.3 447.0l2.1 -1.7M259.1 437.6l2.9 -2.3M581.2 230.3l2.8 2.0M670.0 323.8l4.5 -4.1M659.3 374.5l1.3 2.5M429.9 351.6l4.9 -3.0M619.9 243.4l4.7 -2.5M560.0 256.5l4.9 -3.9M424.0 310.0l6.3 -0.6M685.2 240.4l1.4 2.9M258.1 406.2l5.1 -3.4M637.3 317.2l1.5 -3.7M653.8 335.5l5.4 -1.5M577.5 292.9l2.2 -3.3M607.3 387.0l3.2 -4.2M524.0 288.4l1.7 -1.9M616.8 316.3l3.2 -4.9M263.7 379.7l2.6 -1.8M448.5 354.9l1.7 4.1M600.8 262.4l1.4 -2.1M465.9 484.1l2.9 -4.2M611.8 210.8l1.4 -1.9M159.6 303.8l2.8 -2.1M484.4 257.5l2.3 -2.2M315.5 248.7l1.8 -2.0M514.3 376.2l2.9 -1.4M194.3 292.4l4.9 -2.4M204.2 227.2l4.6 -3.2M261.0 244.8l3.8 2.4M397.1 195.3l1.3 2.6M558.8 242.1l1.4 -2.2M197.7 343.4l1.7 -1.4M233.1 248.3l3.7 -3.1M748.7 521.4l3.4 -5.1M676.9 256.8l4.0 1.6M353.6 187.8l1.6 1.8M533.8 337.0l3.1 -2.4M267.6 288.0l1.9 -1.2M481.9 412.2l4.7 1.2M161.9 290.3l1.9 -1.4M659.5 399.0l1.6 -1.8M274.7 511.8l1.6 -1.4M765.9 456.5l0.8 -2.2M627.5 228.8l-0.0 5.6M245.2 198.2l5.6 -1.1M352.1 229.5l3.1 4.2M432.5 391.1l4.5 -3.6M187.9 220.6l3.4 -2.8M528.7 308.6l3.9 -3.1M533.4 349.2l1.0 4.2M270.8 216.5l2.1 -1.8M309.3 417.6l3.8 4.4M250.9 462.1l2.0 3.0M698.4 524.2l2.6 -3.6M447.4 432.7l1.5 -1.5M542.7 274.7l6.3 -0.6M489.8 421.8l1.8 -1.4M589.6 270.1l1.5 -2.7M626.7 301.9l3.2 -4.0M272.6 218.8l1.9 -2.6M691.0 318.4l1.5 2.9M475.9 250.7l3.0 2.8M608.8 282.3l3.1 -3.1M300.2 386.8l2.6 2.3M192.9 259.7l4.2 -2.6M421.0 311.9l1.2 -2.0M553.5 296.1l2.2 0.3M163.7 275.1l4.7 -3.7M286.4 496.9l2.2 -1.9M716.7 473.4l4.4 2.5M342.5 177.0l4.4 -3.8M186.2 322.3l4.8 -3.9M619.3 213.2l1.4 -1.5M699.8 236.3l2.6 -2.7M520.1 318.5l2.5 -2.0M454.8 341.7l4.6 -3.4M448.1 307.6l4.1 -2.8M179.2 288.1l3.5 -2.8M617.4 331.3l2.4 -4.4M575.8 330.8l2.7 -1.1M525.9 232.2l2.1 -1.3M599.8 229.4l1.8 -4.7M217.2 215.3l1.9 -1.3M314.5 445.1l3.4 -3.5M276.8 247.8l3.9 -4.4M496.1 297.1l4.8 -3.0M515.4 251.1l4.6 -4.2M493.2 391.9l1.9 -1.5M685.3 277.3l1.5 -5.5M262.9 471.2l4.1 3.3M173.3 234.6l2.1 -1.0M569.5 221.4l3.6 -4.6M597.6 223.1l2.1 -2.5M480.1 478.3l4.5 -4.1M436.4 367.6l3.6 -1.4M233.9 307.3l3.4 -3.0M418.6 297.3l4.2 -4.6M489.3 489.6l2.4 -0.4M556.8 300.3l3.2 -1.6M668.7 322.0l2.8 -5.5M703.0 426.5l2.2 -4.5M596.6 252.1l4.1 -4.4M551.4 285.0l3.7 -3.0M683.8 513.8l1.2 -2.3M285.5 457.5l4.6 -2.9M678.8 230.4l1.6 -3.3M543.2 343.8l3.3 -2.7M286.5 394.7l5.1 -2.3M611.4 249.7l2.3 -4.8M263.5 244.7l2.1 0.4M274.3 253.6l4.2 -4.4M561.9 214.2l2.9 -4.0M719.1 246.2l1.7 -2.4M283.2 433.4l5.8 -0.5M212.0 287.5l3.0 -4.5M512.6 304.4l4.2 -2.9M632.4 312.7l3.5 -3.8M287.9 214.6l4.9 -3.7M445.7 363.6l3.4 -3.0M438.9 317.1l4.4 -3.3M507.5 448.0l2.5 -2.0M534.6 330.9l3.9 -2.0M256.8 205.4l1.6 -1.5M696.8 301.1l3.0 -5.5M314.5 207.6l3.1 2.9M668.1 362.7l2.4 4.2M495.8 241.4l4.7 -4.0M694.4 509.7l2.8 -5.4M743.7 551.7l2.1 -0.1M429.9 312.0l5.9 -0.5M521.4 332.4l3.0 -4.5M282.6 274.4l2.6 -1.8M471.6 469.2l5.0 -3.6M465.4 310.9l4.7 -4.2M476.2 490.4l6.3 -0.1M409.1 291.0l4.3 -2.1M364.0 188.1l4.1 -2.9M215.6 274.5l4.3 -3.6M630.9 306.4l2.8 -4.3M216.6 368.1l0.9 -2.9M233.0 424.3l3.3 -4.1M468.0 352.0l2.8 -2.1M308.5 447.6l4.0 -4.0M671.3 262.0l1.2 -1.9M736.9 527.1l1.7 5.5M682.9 521.4l2.4 -5.1M720.3 309.9l2.8 -4.4M541.4 394.9l1.3 -1.8M567.2 248.0l3.4 -4.6M280.1 251.8l2.4 -2.2M743.6 467.4l2.1 -5.5M310.4 403.8l2.7 -3.8M712.1 320.0l3.0 -5.6M241.3 348.3l1.8 -1.1M256.4 376.9l6.3 -0.3M178.7 242.0l3.2 -3.5M767.3 518.1l2.9 -4.7M450.4 262.1l2.5 -1.8M279.5 427.7l3.1 -1.9M651.5 348.3l2.9 -2.3M729.3 497.6l1.7 -2.7M506.2 254.1l3.4 -3.2M694.7 431.0l2.1 -3.3M466.6 264.2l3.5 -2.1M483.2 403.8l2.9 -1.6M720.3 233.1l1.1 -2.6M454.3 436.2l3.2 2.3M686.5 282.2l3.3 -4.8M163.1 301.1l1.8 -1.7M189.3 321.2l5.7 -2.0M451.9 273.7l2.9 -2.8M666.8 407.7l2.4 -3.3M568.5 223.6l4.1 -4.2M286.8 521.2l3.9 2.6M285.9 407.7l2.0 -3.3M629.0 334.2l3.5 -3.7M736.6 482.6l3.9 -4.4M672.9 233.9l2.8 2.5M308.0 262.9l1.8 -1.3M432.7 318.3l4.0 -3.5M503.1 276.0l4.2 -2.4M258.9 449.1l5.0 -4.1M395.6 366.9l1.4 -1.7M649.9 313.0l1.6 -1.8M596.9 324.1l3.0 -3.1M658.2 258.2l1.1 -1.8M217.6 362.5l5.2 -0.5M545.4 376.3l1.5 -1.5M476.0 436.2l1.0 2.5M147.9 278.0l4.0 -3.4M581.2 263.7l4.4 -4.4M449.6 352.0l2.4 -1.6M535.2 393.4l2.3 -2.6M235.3 274.0l3.6 -5.0M211.4 216.8l4.2 -3.8M489.4 328.5l4.1 -4.1M316.6 265.3l5.3 -0.3M322.1 418.4l3.2 -2.5M265.4 200.2l2.9 -3.6M207.3 241.4l3.8 -3.2M358.5 225.4l4.5 -3.2M700.6 285.7l1.7 -2.2M152.8 250.4l1.6 -1.4M670.9 283.2l3.3 -4.5M539.7 313.5l2.7 -0.9M227.4 310.9l6.0 0.2M160.8 272.0l4.4 3.0M421.0 376.1l5.3 0.3M290.0 405.3l1.7 3.1M566.1 335.1l4.1 -1.3M503.1 249.8l5.3 -2.6M497.5 411.1l3.1 -0.1M414.5 371.9l3.6 -3.1M542.7 389.0l2.3 -2.9M696.6 499.8l3.0 -3.8M457.9 342.3l3.7 -2.8M266.3 423.9l4.1 -1.7M211.2 212.2l1.6 -1.6M622.3 249.4l6.1 0.1M228.1 218.5l2.3 -2.7M410.6 361.3l4.2 4.1M613.4 391.2l1.4 -2.0M697.6 498.3l0.7 2.8M230.7 260.2l3.9 -1.5M648.4 246.6l3.3 -4.0M433.7 372.4l1.6 -1.3M261.1 504.1l4.0 -4.2M531.7 288.1l3.7 -2.5M269.0 257.8l4.2 -3.8M657.8 340.2l3.8 -3.6M527.8 395.5l1.8 -1.5M210.1 220.1l3.6 -1.2M621.2 323.3l3.9 -4.1M404.9 387.3l3.1 2.7M185.6 346.6l5.1 -3.9M663.5 317.8l2.0 -3.3M169.8 301.6l4.0 -3.1M684.7 502.5l2.1 -2.3M280.9 521.7l3.7 -2.1M523.1 242.0l4.6 -1.9M409.7 190.0l3.5 -1.5M484.3 486.7l6.2 1.6M186.4 299.7l3.4 -4.6M720.0 295.8l2.1 -5.3M581.4 311.8l2.6 -2.6M412.5 388.9l5.0 -3.7M739.6 230.6l5.8 -1.4M290.7 513.9l4.6 -2.2M288.4 494.5l2.4 -2.9M498.7 335.7l1.7 -1.4M683.1 236.3l1.7 -4.5M424.9 333.3l1.7 -2.0M304.9 422.1l4.7 -3.7M471.0 280.1l5.8 -2.3M637.4 292.0l2.5 -4.7M577.2 249.9l2.9 -5.3M743.5 250.2l3.0 -3.9M202.1 276.6l3.7 -2.7M464.2 243.4l1.1 -2.3M505.6 489.3l4.0 -3.5M620.3 222.6l1.5 -2.2M476.9 513.3l2.6 -1.6M204.6 205.0l3.0 -2.1M184.3 310.6l4.1 -2.7M315.6 405.1l4.4 3.3M240.5 247.3l3.2 -2.4M614.7 240.1l2.8 -4.3M437.7 336.3l2.4 1.3M256.2 492.9l1.0 2.1M665.8 344.6l4.9 0.6M448.4 287.9l2.8 -1.1M648.1 275.6l1.4 -2.1M244.8 377.4l3.3 -4.0M624.8 343.4l3.8 -5.2M244.4 232.0l3.3 -2.6M691.9 316.7l3.6 -4.6M162.4 282.5l3.2 -4.0M260.2 286.1l2.1 4.5M272.2 447.3l4.9 -0.7M727.2 289.5l2.2 -3.7M224.9 291.0l0.0 3.1M678.8 345.2l4.1 -5.0M286.1 422.8l3.3 -1.8M279.2 461.4l4.2 -4.0M625.6 306.9l1.6 2.1M464.9 319.9l4.2 -2.4M295.0 381.0l3.0 -2.0M558.6 229.7l2.6 -2.3M618.6 244.5l1.3 -1.9M242.6 208.9l5.1 -2.1M684.2 231.3l3.0 1.4M260.1 498.4l5.7 -2.6M749.0 271.5l2.0 -3.3M507.7 253.6l4.9 -3.1M220.6 238.7l3.2 -3.5M681.8 349.1l1.0 -2.2M660.7 284.3l3.6 -4.1M280.8 248.6l3.9 -3.5M193.0 213.1l4.6 -1.5M156.3 201.9l1.8 -1.4M524.3 389.1l3.8 0.4M758.4 244.2l2.3 0.1M453.5 397.4l4.3 -1.8M344.3 176.1l2.6 2.4M714.9 329.8l1.5 -1.9M541.7 386.0l3.2 4.4M725.3 496.9l3.4 -4.5M141.7 243.9l4.4 -3.9M392.8 352.1l3.0 3.2M455.1 440.9l2.2 2.1M291.2 502.9l4.6 -2.3M546.5 273.6l4.7 -2.5M481.4 352.3l5.2 -1.1M151.4 226.6l3.8 -2.9M320.8 451.3l3.4 3.0M272.0 431.0l5.0 -3.4M299.6 485.6l3.0 -1.9M634.2 266.6l3.4 -1.0M666.8 256.5l2.1 -0.8M263.4 417.4l2.2 -1.5M749.3 475.8l2.1 -1.2M692.9 506.7l3.0 5.6M276.5 199.9l1.9 2.7M298.8 269.4l3.9 -0.9M558.2 327.4l1.6 2.8M356.6 202.6l4.1 -1.6M648.5 229.3l4.4 -4.5M733.6 469.7l1.4 -3.1M300.4 195.9l4.7 -3.6M474.5 494.9l2.8 -3.4M319.3 249.0l1.7 -1.9M680.8 322.2l1.4 -5.1M493.4 339.0l3.1 -2.8M217.4 302.6l3.8 -2.4M611.0 389.4l3.3 -2.3M449.9 451.8l4.1 2.6M214.8 253.8l2.5 -2.5M524.2 324.3l3.0 -0.1M523.6 363.5l2.4 -1.6M605.9 291.9l2.0 -2.1M633.6 337.3l2.0 -3.0M217.2 209.6l4.5 -4.0M309.9 424.3l3.3 -1.2M703.3 287.8l3.2 -0.5M567.0 270.1l3.1 -3.8M527.5 290.0l5.4 -2.6M502.4 244.4l2.4 -2.4M289.2 459.1l1.7 -1.4M263.2 461.2l4.5 -3.9M528.2 284.1l3.3 -3.3M432.0 312.7l3.9 -4.1M238.4 276.6l3.1 0.8M283.2 524.2l3.2 2.4M605.0 214.1l2.2 -2.6M370.1 205.9l4.5 -4.2M278.9 453.2l3.6 -3.3M430.3 285.1l3.0 -2.2M647.2 321.7l1.5 -3.7M609.3 357.6l1.8 -2.8M481.6 411.9l4.4 -4.5M527.3 281.0l2.6 -1.9M612.0 354.1l3.9 -4.4M548.4 284.8l4.0 -3.2M724.8 292.9l2.8 -4.1M165.1 288.6l2.0 -2.1M470.5 252.4l3.1 -2.5M438.2 348.7l3.8 -2.7M748.9 253.8l2.3 -2.9M463.9 274.7l3.7 -2.3M292.4 385.5l3.6 -2.8M781.3 561.9l1.8 -2.0M391.9 379.9l2.8 -0.3M288.5 236.9l4.7 -3.5M550.3 275.8l2.5 -0.6M423.3 351.8l3.0 -1.5M293.2 249.6l5.2 -3.6M669.9 326.7l3.2 3.0M290.6 417.7l2.5 -1.5M490.6 398.9l2.5 -1.0M694.1 321.7l2.8 -5.4M700.5 521.6l2.6 2.0M473.4 246.4l2.7 -1.8M538.5 306.3l3.5 -2.6M260.2 247.2l3.2 -0.8M155.3 289.8l2.2 -1.2M604.3 310.2l1.3 2.3M521.4 370.8l2.0 -1.4M558.7 300.9l2.6 -4.1M291.3 274.5l3.3 -2.8M688.2 502.5l1.6 -3.4M493.0 442.7l2.2 -2.8M281.0 453.0l5.0 -3.6M619.7 297.2l2.9 -5.3M734.9 236.9l6.3 -1.0M207.2 224.0l2.7 -1.1M276.1 276.7l3.5 -4.8M496.5 273.3l2.4 -1.6M652.5 299.7l1.5 -2.5M552.8 303.0l3.6 -4.5M168.0 293.1l3.2 -2.2M671.6 299.0l2.8 -4.4M570.3 291.8l2.6 -1.6M754.9 505.7l1.1 -2.8M307.1 474.7l3.9 -1.8M603.1 278.4l1.4 -1.8M474.6 328.3l1.7 -1.2M534.5 238.7l3.6 -4.8M265.6 436.3l2.3 -1.7M268.6 291.8l2.3 -2.6M614.4 214.3l2.8 -2.9M622.9 251.8l3.2 3.6M230.7 267.3l4.4 -2.6M502.2 296.4l2.2 2.6M695.1 515.0l1.0 -1.8M648.1 248.5l1.5 -2.7M161.3 249.3l1.8 1.9M239.3 411.9l2.7 -2.0M523.1 474.4l2.1 1.8M646.9 318.4l4.5 -3.9M294.9 430.4l3.8 -1.8M628.9 321.6l3.9 -5.2M265.0 368.3l3.7 2.1M677.8 347.0l4.3 -0.4M283.9 381.2l2.9 -1.5M391.2 348.0l2.9 -2.0M256.7 496.5l2.9 -1.5M199.7 266.3l5.5 -1.5M569.8 325.2l5.5 -1.5M592.6 345.5l0.9 2.9M254.2 370.9l2.4 -1.4M428.0 338.1l2.3 -2.1M348.0 196.8l4.4 3.5M368.9 190.7l5.8 0.4M769.2 513.1l3.4 -4.5M279.7 215.8l2.5 -2.2M264.6 492.5l4.0 -4.1M421.9 378.1l3.0 -2.9M272.2 477.1l3.8 -3.8M155.0 218.6l4.5 -3.9M689.1 515.9l0.6 4.7M596.2 292.1l2.5 -5.7M600.5 209.9l1.9 -3.4M300.5 456.4l2.9 -1.1M540.2 282.1l3.7 -1.3M242.4 309.5l3.2 -3.7M237.2 284.7l4.7 -2.3M607.0 258.7l2.1 -3.2M502.2 376.6l2.3 0.2M371.6 200.2l2.6 -1.9M253.0 468.8l4.2 -4.0M175.5 289.0l1.4 2.1M152.5 211.3l4.8 -3.0M221.5 229.3l4.6 3.5M434.5 294.6l1.8 -2.4M455.6 289.0l3.4 -2.3M675.2 296.0l1.6 -4.8M608.0 251.6l1.9 -2.8M169.6 263.5l2.0 -1.8M554.2 339.6l3.6 -4.2M723.6 503.7l1.9 -2.5M507.9 457.7l4.2 -2.9M603.2 294.2l1.0 -4.4M237.3 402.4l5.5 -2.5M707.2 524.3l3.2 -4.7M766.7 511.0l2.8 -3.2M283.3 385.3l2.9 -2.3M258.0 442.4l2.3 1.6M340.1 195.4l5.9 0.8M544.1 313.1l2.0 1.8M450.4 341.3l2.6 -2.2M687.4 263.3l5.0 3.8M556.2 337.4l4.2 -4.3M261.9 277.8l2.5 -2.0M666.7 315.7l3.0 -3.1M244.1 235.2l1.3 -1.6M149.0 261.8l3.6 -3.9M183.2 216.7l2.4 -3.9M472.3 290.2l5.5 -3.3M291.8 464.4l3.1 0.6M217.1 240.0l3.0 -3.3M745.8 488.6l2.1 -3.0M419.3 340.0l0.2 3.0M304.2 441.5l4.4 -2.8M493.7 252.6l3.5 -2.7M701.3 354.0l1.9 -2.4M327.2 464.9l3.0 -2.7M522.9 406.6l4.9 -0.9M318.9 469.1l2.8 -2.0M690.7 292.6l2.3 -3.1M273.9 513.2l3.3 -2.2M418.7 177.8l2.0 -1.6M635.9 363.9l2.2 -3.7M277.3 262.0l1.6 -1.5M555.2 226.4l2.2 -3.3M439.7 258.6l6.3 0.8M406.0 224.3l3.7 5.2M437.6 322.4l2.3 -2.0M303.2 207.6l1.8 -2.1M578.7 233.9l3.8 -4.7M650.2 241.5l3.1 -3.5M584.6 305.2l3.4 -3.9M634.4 309.3l5.4 -1.3M443.3 260.5l3.3 -2.9M214.7 230.6l2.2 -1.4M521.5 264.8l3.1 -2.8M492.3 237.9l3.2 -2.8M644.8 270.2l2.4 -2.4M724.9 472.6l1.6 -2.4M258.7 369.5l2.3 -2.8M336.5 431.9l4.5 -1.8M460.8 402.9l4.2 -2.9M224.2 211.4l3.5 -3.2M208.4 352.3l3.5 -2.2M691.2 420.0l3.7 -1.6M721.4 247.1l1.5 -1.8M486.7 329.6l4.4 -0.3M655.6 417.7l1.6 -6.2M691.0 492.4l1.4 -5.8M202.4 306.0l3.6 -1.2M425.0 365.9l3.4 -1.4M525.5 411.2l5.5 -0.7M214.1 214.7l4.4 -0.6M222.2 282.0l1.6 -2.2M236.4 249.6l3.6 -3.2M235.6 248.4l2.1 -1.2M484.8 211.7l2.1 -2.8M601.8 301.6l4.6 -3.1M520.4 351.7l1.7 -1.7M569.1 254.9l2.1 -2.1M262.3 414.5l5.0 -3.6M309.7 395.4l4.9 -3.3M472.8 422.4l2.2 -0.9M769.3 526.2l2.4 -4.2M143.0 233.9l4.3 -4.8M488.8 353.6l2.1 -0.1M348.8 186.0l2.6 -1.7M740.3 491.0l2.4 -3.8M290.1 196.4l2.8 -3.6M205.2 230.4l4.0 -3.7M662.4 314.5l3.4 -4.1M206.0 253.8l4.4 -4.6M655.8 250.0l1.9 -2.2M448.4 282.3l5.3 -3.5M506.3 330.0l2.8 -3.8M438.9 366.0l5.3 -3.8M224.8 316.1l4.9 -3.0M385.4 185.0l1.7 -1.5M396.2 333.3l2.8 5.6M557.1 311.7l5.1 -2.8M461.2 475.9l5.1 -3.0M611.2 379.8l1.5 -2.6M178.0 286.8l4.2 -2.9M638.4 233.5l1.8 -3.7M452.5 333.5l4.5 -4.1M386.9 207.4l3.8 -2.2M720.8 296.3l1.8 -1.7M278.6 422.7l3.2 -2.0M269.1 216.6l2.6 -2.8M343.0 208.9l5.2 -3.2M308.7 205.6l5.3 -3.5M411.6 354.5l2.3 -2.1M663.6 264.9l1.6 -3.0M175.3 324.2l4.1 -3.9M577.9 293.2l2.2 -2.6M530.6 219.5l1.8 -2.8M513.4 239.3l3.2 -3.1M318.6 216.0l2.4 -4.7M493.1 238.6l2.2 -1.8M637.1 309.0l4.8 -3.8M235.5 226.6l2.6 -3.8M512.6 378.0l1.0 -1.8M493.3 450.4l2.1 -1.1M552.0 313.1l4.9 -3.1M468.6 510.7l1.7 -2.2M609.0 222.3l3.7 3.6M244.0 406.9l2.6 -1.6M504.8 459.6l4.0 -4.3M646.6 353.7l2.3 -3.8M578.3 234.0l4.6 -3.1M490.9 461.0l3.8 -2.1M404.4 298.3l5.5 -1.5M716.6 314.1l3.1 -4.3M303.9 238.8l3.1 -1.5M215.2 349.5l4.2 -1.9M729.3 304.0l2.7 -5.2M433.6 323.2l3.0 -2.7M575.2 274.5l1.7 -1.2M240.7 242.9l3.3 -4.5M746.3 528.3l5.3 -2.0M249.7 237.0l5.3 -3.0M458.1 456.7l1.6 -1.5M395.7 196.5l1.5 3.9M664.8 403.8l2.7 -4.9M669.4 330.0l1.1 -6.3M289.3 195.2l2.6 -2.4M691.7 340.0l2.1 -2.0M529.1 280.1l3.3 -2.5M514.3 226.4l4.9 -3.4M661.0 396.0l3.8 -3.4M475.1 359.7l2.1 -1.5M558.5 360.7l1.7 1.0M209.4 219.0l5.5 -0.8M748.6 473.3l0.3 5.9M607.0 321.7l1.7 -4.0M473.4 404.4l3.0 -3.2M411.4 291.3l1.7 -2.2M598.9 261.2l2.3 -4.0M424.5 380.3l3.0 -1.6M642.6 329.9l4.1 -3.6M761.6 518.5l2.5 -4.0M532.7 289.6l4.1 -4.7M686.1 321.6l3.3 -4.8M286.0 234.9l2.9 -1.0M493.3 311.8l2.7 -2.5M513.6 426.1l1.5 -1.6M230.6 418.2l4.5 -3.8M738.0 482.7l1.8 -4.2M283.1 481.6l2.5 -2.8M607.6 256.4l5.0 -0.3M500.3 429.4l4.9 -0.4M603.4 315.6l3.5 -5.1M413.9 373.1l3.0 -4.3M185.7 240.8l1.7 -1.6M496.0 401.8l2.4 -1.9M517.3 250.0l2.1 -1.2M504.1 419.8l3.9 -3.9M557.2 224.2l4.5 -3.6M237.4 299.8l3.7 -1.3M261.8 427.5l5.2 -2.7M733.4 469.9l2.9 -4.5M286.5 523.9l1.9 -1.6M167.4 305.3l1.5 -1.4M690.2 502.8l2.0 1.6M729.3 237.2l5.9 -2.3M642.3 339.1l1.8 -3.4M201.6 253.2l3.1 0.4M141.3 259.3l3.0 -4.4M616.5 252.3l4.5 -0.8M574.8 288.9l2.6 5.9M515.6 466.1l1.9 -1.6M259.0 410.6l2.4 -2.1M469.5 451.9l5.5 -1.1M171.4 244.1l2.0 -1.5M453.6 357.8l4.7 -0.5M447.9 431.9l5.3 -0.8M478.0 292.8l2.1 -1.9M264.3 245.4l3.0 3.1M442.4 361.4l2.3 -1.7M491.7 490.9l4.5 -4.5M310.9 260.2l3.4 -1.4M314.6 244.2l3.0 -1.1M663.7 235.8l2.9 -0.8M665.0 370.8l2.2 -4.3M206.6 307.1l2.4 -1.5M713.0 235.8l5.8 -1.5M404.0 223.1l2.2 -1.6M268.1 553.4l4.4 -2.4M210.0 217.7l4.0 -2.1M678.0 343.7l3.8 4.2M775.5 505.5l1.2 -1.8M661.2 312.3l3.5 2.9M458.4 354.1l3.4 -2.8M722.4 400.2l2.5 -2.7M184.6 250.2l1.9 4.8M181.3 262.7l3.8 -4.1M507.9 425.5l4.7 -0.7M304.8 430.4l1.8 -1.5M532.2 344.9l2.5 -4.0M561.5 359.5l3.8 -3.7M176.2 318.4l4.5 -3.0M528.2 281.7l3.1 -3.1M667.0 241.9l1.7 -2.3M266.3 266.3l4.2 -1.8M411.0 342.2l2.8 -2.8M452.9 455.8l1.6 3.8M465.3 332.4l2.7 5.9M474.4 408.8l3.2 0.6M191.6 241.1l1.8 -1.5M471.5 256.3l3.6 -3.1M595.4 328.2l4.3 -0.5M776.9 462.1l1.8 -6.2M643.7 297.5l3.4 -3.0M701.4 514.2l3.6 -3.5M770.4 452.9l2.1 -4.2M550.3 353.9l2.3 -2.6M301.5 498.5l0.3 2.7M510.8 405.8l4.4 -3.2M395.9 225.9l4.2 -3.7M300.0 249.9l2.9 -0.2M277.6 554.4l2.8 -1.3M593.8 264.1l2.6 4.3M544.4 263.1l4.3 4.0M455.8 251.6l3.1 -2.5M236.1 262.0l4.6 -4.0M228.6 270.1l2.1 -2.2M447.2 268.6l2.0 4.1M292.8 515.5l5.1 -2.9M557.4 256.4l2.7 -0.8M706.8 285.1l4.0 4.8M519.6 319.7l5.2 -3.6M332.4 438.4l2.9 -2.3M470.3 240.7l4.0 -2.1M531.8 219.7l2.9 -0.6M228.5 241.9l3.4 -0.9M576.7 309.6l3.6 -4.3M500.1 439.4l2.2 -1.4M652.2 219.7l1.3 -2.5M315.2 419.7l1.5 -1.8M648.0 255.5l2.1 -1.5M277.2 517.1l3.2 -2.2M209.2 252.8l4.4 -3.3M683.2 326.8l2.4 3.2M444.1 389.9l5.1 -0.1M601.9 272.5l1.7 3.8M703.7 237.6l2.2 -3.1M268.7 444.4l6.3 0.5M512.3 430.6l3.5 -2.1M417.1 291.2l4.3 -3.1M237.1 394.7l5.1 -3.8M221.1 355.6l1.3 2.1M573.9 243.1l1.8 -1.6M527.1 365.9l2.8 -2.2M448.6 361.2l3.3 -1.3M461.7 238.1l3.4 4.4M201.1 230.5l2.3 4.5M157.6 301.4l3.9 -3.5M532.6 276.6l2.8 -2.9M196.8 202.9l2.7 -2.2M616.3 218.6l2.4 -4.8M652.8 254.2l2.0 -0.7M675.6 294.0l1.4 -1.5M714.5 308.3l2.1 -2.9M509.1 461.8l3.3 -0.1M422.5 273.4l3.1 -2.3M701.3 486.5l3.4 -5.1M656.8 380.4l2.9 -5.0M633.4 254.1l1.5 -2.5M180.4 251.9l2.7 -2.4M434.8 343.9l3.0 -3.3M175.9 234.0l3.7 -3.2M487.6 338.4l3.5 -1.8M212.3 269.9l3.5 -3.0M713.7 319.7l2.6 -2.3M548.9 259.5l1.7 -1.5M766.1 245.6l2.6 -4.4M543.2 364.0l3.3 -2.9M219.7 243.6l4.0 -4.0M669.7 280.0l2.1 0.1M255.1 228.7l1.7 -1.2M696.9 357.9l4.3 -4.6M689.3 520.2l2.7 -3.7M550.8 326.4l4.0 -0.1M552.2 276.3l5.2 -2.3M315.2 447.3l4.0 -3.4M482.6 287.1l3.9 -2.4M511.2 238.8l2.1 -1.2M665.0 288.2l1.3 -2.8M478.9 244.9l5.1 -3.2M287.4 201.1l5.4 -3.2M178.1 254.5l2.4 -2.4M500.2 344.5l1.7 -2.1M434.8 351.7l2.3 -1.5M179.2 213.8l1.4 -1.6M610.7 265.2l1.6 1.1M489.0 357.7l2.8 -1.6M438.0 294.0l3.9 -4.5M243.6 424.3l3.3 -1.3M695.2 431.9l2.4 -2.8M670.7 293.4l2.5 -4.0M477.4 206.6l4.1 -3.0M493.7 261.3l4.7 -2.1M740.9 518.3l3.1 -5.5M405.0 328.3l3.0 -2.5M507.8 370.2l4.8 -3.8M392.5 375.8l3.4 -1.7M675.9 358.6l3.1 -5.3M469.9 203.3l2.8 -1.5M471.6 332.0l3.2 -3.1M401.2 305.2l5.1 -3.9M651.0 236.6l1.6 -2.9M708.8 435.9l3.5 -3.1M184.9 294.6l3.4 -2.8M413.7 255.7l2.9 -2.4M401.7 194.1l3.9 4.9M458.9 332.1l1.9 -1.7M763.2 439.7l2.4 -3.8M632.2 344.9l1.2 -2.4M477.6 453.1l3.2 -0.1M639.4 279.2l1.6 -2.8M433.5 343.2l3.7 -4.3M513.3 239.3l3.7 -4.2M711.6 386.7l4.1 4.7M192.7 301.1l4.2 -2.9M233.5 417.9l2.8 -1.9M532.1 360.1l3.7 -4.2M678.4 247.0l1.9 -3.0M279.7 251.4l3.3 -3.0M438.8 273.4l1.5 -1.4M622.5 319.9l2.5 -2.9M682.6 352.0l1.2 -2.7M462.9 352.5l2.0 -1.3M742.6 500.3l2.5 0.1M649.9 288.8l0.8 2.8M235.8 391.7l4.2 1.2M573.4 244.4l2.8 -5.2M480.8 462.8l2.2 -2.8M526.1 306.1l2.1 -1.0M547.1 361.3l4.6 -1.4M571.4 318.6l2.7 -5.8M434.3 353.6l3.0 -3.3M261.1 407.0l2.0 -0.1M150.0 273.2l3.8 -3.0M522.7 377.4l5.6 0.5M656.3 294.4l3.8 -0.8M597.8 293.6l1.7 -1.8M670.7 238.5l1.1 -2.7M621.0 304.2l2.0 -4.6M286.7 250.5l2.0 -1.5M301.8 404.5l3.5 -2.2M644.0 263.6l4.0 -2.9M775.2 455.9l1.4 -1.8M300.6 202.6l3.4 -3.1M658.2 300.3l4.3 -4.3M717.1 328.7l2.0 -2.9M700.1 512.7l2.8 -5.3M745.6 483.5l4.2 -4.1M491.0 237.9l3.2 4.0M595.7 297.4l3.0 -3.7M748.9 250.2l1.5 -2.2M677.2 381.9l2.9 -4.7M556.7 309.6l4.7 -3.9M704.7 287.8l4.2 -4.3M712.8 326.3l2.2 -4.0M401.3 362.0l2.9 -2.0M279.4 528.4l2.0 -1.6M613.9 214.1l4.2 -3.9M618.4 331.6l3.2 -5.5M685.7 228.3l2.4 -2.9M591.0 329.5l2.1 -2.1M618.8 295.8l3.5 -4.4M706.0 409.7l2.7 -4.4M610.8 364.6l2.8 -4.1M555.9 295.0l2.8 -3.8M682.9 339.8l2.2 -4.2M306.0 429.5l2.8 -1.4M648.6 351.2l2.0 -2.4M532.4 290.3l2.2 -2.2M269.2 541.7l2.3 -1.6M599.7 325.7l3.0 -3.3M473.8 438.6l2.0 2.7M564.2 252.9l3.5 -4.6M467.4 229.2l3.0 -1.8M531.5 358.1l4.4 -4.6M481.3 498.4l4.6 -3.2M470.9 205.8l3.7 -0.7M481.5 433.0l2.8 -1.6M726.3 278.1l2.9 -4.3M311.4 405.6l4.6 -4.3M420.8 337.5l5.3 -0.6M246.0 234.8l3.7 -2.5M208.6 213.4l4.3 -4.7M669.6 309.4l1.3 4.9M268.0 215.4l2.8 -1.8M400.8 344.2l1.5 2.1M723.0 293.8l3.2 -4.7M433.6 345.5l5.0 0.2M136.2 247.4l5.0 -3.9M476.4 508.0l2.7 -2.2M592.7 243.7l3.2 -3.3M667.8 304.4l3.2 -3.9M694.9 263.2l2.0 -2.3M367.8 187.9l2.8 -0.9M369.5 210.4l2.0 -1.9M366.3 202.0l3.7 3.6M274.2 462.8l4.0 -2.6M465.7 280.5l1.7 -1.8M261.0 439.5l3.7 -3.1M217.2 279.5l2.6 -1.3M171.3 264.8l4.0 0.4M505.6 472.6l2.1 -2.1M690.3 348.8l1.2 -2.2M166.4 218.8l2.6 -0.2M736.9 470.7l2.6 -5.4M637.2 285.3l3.0 -4.6M505.5 386.8l4.2 0.7M189.0 226.9l5.3 -3.5M298.7 201.6l3.8 4.7M499.2 475.9l4.0 -3.8M525.2 280.4l3.6 -3.0M749.2 508.2l2.9 -3.1M664.6 412.9l1.4 -2.3M225.9 266.0l4.0 -3.5M251.4 261.7l3.5 -3.8M418.4 315.9l1.8 -1.7M465.0 213.0l3.7 -2.4M591.0 266.3l2.1 1.5M718.0 391.8l3.6 -5.3M474.9 376.6l3.3 -2.9M310.0 428.4l3.4 -2.1M616.3 349.9l2.0 -1.4M600.8 217.7l4.4 -3.3M290.3 462.4l2.2 4.2M632.3 271.0l4.2 -4.3M645.5 236.5l3.0 -2.9M247.7 402.0l2.1 3.7M634.5 218.3l1.9 -2.9M448.6 404.1l3.9 -5.0M272.3 556.3l2.9 -2.3M442.9 281.0l4.5 -3.2M424.9 294.9l2.5 0.2M216.1 233.1l3.5 -4.0M249.4 253.1l5.1 -3.1M305.5 195.1l4.7 -2.0M513.7 405.1l3.8 -2.5M151.4 207.6l2.8 -1.2M704.4 520.3l2.2 -2.9M312.6 242.8l2.3 3.3M505.7 449.7l5.8 -2.1M742.3 475.5l4.8 -3.6M181.6 229.8l3.2 -0.3M596.8 297.0l3.8 -4.1M443.8 399.2l4.1 -3.4M707.8 230.6l2.7 2.7M474.0 442.7l3.3 -2.1M563.1 282.0l2.6 -0.6M275.8 248.4l2.1 5.3M448.3 220.9l4.3 -3.0M773.6 450.8l1.6 -3.6M616.3 220.0l4.0 -4.5M711.8 255.8l2.9 -3.3M432.0 310.2l1.9 -2.6M713.9 292.9l3.2 -4.8M459.9 390.1l1.8 -2.1M187.4 220.8l2.6 -2.7M764.6 241.8l1.7 -1.8M465.2 239.4l1.9 -1.8M480.6 282.0l4.3 -4.4M728.7 282.5l4.3 4.3M193.5 340.9l6.0 -2.2M765.5 508.5l3.6 3.5M470.0 265.4l1.9 -2.0M404.3 299.7l2.7 -2.1M770.9 518.4l1.1 -1.9M489.4 340.3l1.5 3.3M518.3 258.7l3.9 -2.8M552.6 321.3l3.2 -4.3M201.7 297.9l4.3 -3.7M255.2 380.9l1.6 -1.7M238.1 404.8l2.2 -2.7M231.3 206.6l3.0 -2.5M445.1 279.8l2.5 -1.5M166.2 315.4l3.3 -2.9M475.1 269.8l2.7 -2.5M151.1 243.9l2.7 -2.1M732.6 297.7l1.5 -2.1M194.5 316.5l3.1 -1.7M215.2 347.7l3.2 -2.3M195.8 343.4l5.3 -0.4M661.0 303.9l1.9 -4.3M752.6 232.7l4.1 -3.8M487.9 507.2l4.3 -3.1M156.5 280.9l3.7 -2.9M589.1 306.8l2.5 -5.7M513.3 299.0l4.7 2.2M281.3 489.5l2.9 -0.4M686.4 231.3l3.2 -2.9M460.3 477.1l4.4 -0.7M187.2 352.5l4.4 -3.9M460.5 365.5l1.9 3.1M454.5 262.0l3.9 -4.1M598.5 298.6l2.2 -4.9M284.2 442.4l3.5 -2.3M270.3 270.2l4.7 -2.6M555.2 326.1l2.0 2.4M367.4 194.7l3.1 -3.2M302.0 260.3l3.7 3.8M461.5 431.5l4.3 -3.3M186.3 334.2l4.6 -3.6M425.2 311.1l4.5 -3.9M169.9 332.9l2.8 -1.3M707.0 276.7l3.0 -5.0M566.8 270.8l2.2 -1.9M466.4 243.2l2.1 -1.2M589.2 330.2l2.6 -3.1M504.9 224.3l5.1 -1.0M265.8 266.4l4.8 -3.1M289.6 399.4l4.2 -1.9M232.3 311.9l4.8 0.7M321.9 194.0l4.8 -2.3M617.9 272.1l1.1 -2.7M660.0 326.5l1.8 -3.9M314.7 469.2l4.6 -2.1M676.9 278.6l2.9 -0.6M571.2 260.1l2.9 -3.1M506.7 349.1l1.9 -1.2M628.3 267.1l3.3 -2.7M691.0 266.3l1.6 -3.1M478.6 224.0l1.9 -2.0M488.5 288.5l4.3 -4.3M157.5 207.6l1.4 -2.1M259.0 272.1l3.2 -1.9M585.6 263.2l4.0 4.2M540.5 202.3l3.8 -1.0M213.3 311.1l6.4 0.3M711.4 293.8l6.4 0.8M270.3 387.3l3.5 -3.5M689.4 312.3l3.0 -4.8M629.8 345.2l1.2 -1.9M725.3 311.4l3.6 -5.2M173.3 290.2l3.9 -2.9M734.0 299.8l1.6 -3.7M669.2 260.1l3.6 -4.6M540.2 242.9l2.4 -1.9M629.2 291.9l1.8 -2.7M262.5 508.3l4.7 -4.0M214.7 258.3l3.5 -2.2M301.7 438.0l3.6 -2.0M429.3 323.4l2.4 -2.4M628.2 236.6l1.7 -2.2M297.7 408.8l4.9 -4.2M447.5 225.2l4.7 -4.4M665.1 288.9l2.7 -3.4M755.8 499.9l4.1 -1.7M289.1 451.6l2.1 -1.6M650.4 367.6l3.8 -5.1M267.4 276.1l3.1 -1.7M677.6 348.7l2.8 -3.7M473.5 262.1l2.5 -1.7M657.2 342.2l4.1 -5.0M167.2 249.0l3.3 -4.4M583.1 301.3l1.5 -1.5M486.9 216.5l3.2 -2.8M245.2 407.4l2.5 -2.6M707.2 237.6l1.6 -4.3M416.0 394.0l5.9 -2.8M489.3 407.1l3.3 -3.0M391.6 383.7l5.5 -0.3M396.7 348.7l2.6 -2.5M501.3 464.0l4.9 -3.2M721.4 498.0l0.9 -4.0M546.3 323.3l3.9 3.9M188.1 345.5l3.4 -2.6M356.4 213.2l2.2 1.2M256.8 455.9l2.1 -0.8M456.4 263.2l2.0 -2.6M588.2 219.5l3.0 -0.3M534.5 205.7l4.1 -2.6M273.8 269.2l3.3 -3.3M278.7 274.8l2.6 1.9M395.8 352.6l5.2 -1.2M420.5 382.4l2.0 -2.0M685.3 348.7l0.9 -3.7M266.3 470.7l4.1 -3.6M495.2 261.3l2.2 -2.5M303.0 203.8l1.6 -1.5M753.0 524.8l2.4 -3.5M743.0 493.9l1.7 -5.7M655.2 360.6l2.4 -4.0M694.7 276.4l1.5 -2.5M630.5 317.1l3.5 -1.5M660.9 259.5l2.8 -4.1M514.4 329.4l1.4 -1.8M613.9 257.7l1.2 -1.9M575.7 217.1l2.6 1.4M346.5 181.1l5.8 -0.4M292.2 395.9l1.6 1.3M603.7 276.9l1.8 -1.7M270.7 510.1l1.6 1.6M532.4 359.0l4.9 -3.8M422.3 323.3l4.4 -3.1M230.3 275.5l2.0 -1.6M569.3 217.5l2.9 -4.5M745.2 467.3l2.5 0.8M762.4 448.7l6.3 -0.4M689.4 244.6l2.3 -2.8M211.8 348.5l2.7 -2.4M257.6 448.0l4.4 -3.5M251.8 295.1l2.7 -1.6M499.6 435.3l3.0 3.6M494.5 476.6l1.7 -1.9M667.0 297.3l2.2 -5.3M568.0 337.9l3.2 -3.1M259.2 486.8l1.8 -0.9M433.9 373.8l1.8 -1.9M249.1 216.5l4.6 -3.6M263.0 191.7l3.3 -3.2M686.3 521.5l0.9 -2.0M488.0 342.6l4.2 -2.7M248.0 456.6l3.5 -3.4M633.7 243.2l4.3 -4.6M738.6 497.3l2.7 -4.0M402.2 190.2l3.8 -0.8M161.3 288.8l5.6 -3.0M674.9 443.2l1.8 -5.1M451.8 444.2l3.2 -2.1M445.8 402.5l3.5 -2.8M503.6 448.0l1.6 -2.1M464.1 250.0l4.7 -3.3M451.2 347.9l4.7 -1.6M669.3 383.0l4.0 -5.1M525.8 416.3l1.7 -1.5M774.8 454.5l1.4 -1.7M283.4 271.6l2.9 -3.2M289.8 444.3l3.6 -3.5M486.6 474.9l3.8 -2.6M206.2 355.1l4.8 -3.5M608.7 304.3l4.0 -4.6M709.6 477.4l2.6 -3.3M291.5 496.7l2.9 3.2M495.0 257.8l2.9 -2.3M290.7 484.7l2.7 -2.3M647.7 296.3l2.6 -0.6M295.0 466.1l2.0 -1.5M552.5 236.5l4.3 -1.8M535.8 216.8l4.7 0.3M765.6 526.1l1.8 -2.7M688.8 273.9l2.6 -2.6M746.8 508.8l2.3 -4.7M481.6 383.8l3.1 -2.3M428.3 347.2l4.3 -4.5M691.8 241.1l2.4 -3.5M744.7 514.7l1.0 -1.9M713.7 483.2l0.4 -2.0M301.1 407.5l2.8 -1.7M638.7 288.3l2.8 -3.5M656.6 276.2l3.3 -4.9M152.0 222.0l1.7 -1.9M281.4 186.7l3.5 -3.0M289.4 216.4l2.3 -2.0M533.7 323.4l3.1 -1.6M561.3 268.4l4.6 -3.4M347.2 176.4l4.1 -1.9M574.3 276.3l2.7 -2.5M613.0 251.0l2.5 -4.3M497.2 486.5l4.0 -1.0M197.9 222.2l1.8 -1.6M611.8 225.2l2.0 -0.2M526.7 367.5l1.0 2.9M290.0 250.1l5.1 -3.7M467.4 505.2l2.6 -2.1M426.2 270.2l1.5 4.9M315.2 460.8l3.3 -3.5M757.2 442.9l2.0 -3.7M318.5 205.6l2.2 -0.2M508.0 269.1l4.3 -2.0M271.7 265.4l1.5 -1.3M256.2 439.3l2.1 0.1M658.2 334.6l1.7 -2.0"/></g>
<path d="M205 265.9H238" stroke="#a8206e" stroke-width="4.1" fill="none"/>
<path d="M334.5 184V279.9" stroke="#a8206e" stroke-width="3" fill="none"/><path d="M333 277.9H431" stroke="#a8206e" stroke-width="4" fill="none"/>
<path d="M464.5 184V217" stroke="#a8206e" stroke-width="2.8" fill="none"/>
<path d="M712 184V265.85" stroke="#a8206e" stroke-width="3.9" fill="none"/><path d="M473 264.35H713.95" stroke="#a8206e" stroke-width="3" fill="none"/>
<path d="M370 370.9H420" stroke="#a8206e" stroke-width="3.9" fill="none"/><path d="M418.4 372.8V299" stroke="#a8206e" stroke-width="3.1" fill="none"/>
<path d="M609.5 372.4H784" stroke="#a8206e" stroke-width="4" fill="none"/>
<path d="M495.5 419.9H591.05" stroke="#a8206e" stroke-width="3.9" fill="none"/><path d="M589.1 418V450" stroke="#a8206e" stroke-width="3.9" fill="none"/>
<path d="M510 324.5H639" stroke="#3f6584" stroke-width="2.9" fill="none"/>
<g fill="#a8206e"><circle cx="237.7" cy="265.6" r="17.5"/><circle cx="464.8" cy="217.4" r="24.7"/><circle cx="473.1" cy="264.6" r="19.2"/><circle cx="418" cy="299" r="25"/><circle cx="431.2" cy="277.6" r="21.4" stroke="#fff" stroke-width="1.5"/><circle cx="609.5" cy="372.5" r="13.4"/><circle cx="495.5" cy="419.2" r="28.3"/></g>
<circle cx="510" cy="324" r="17.1" fill="#3f6584"/>
<rect x="275.2" y="95.9" width="118.7" height="89.8" rx="11" fill="#cf9fca" filter="url(#sh)"/><text x="299.5" y="131.6" font-size="23.2" fill="#231f20" textLength="69.9" lengthAdjust="spacingAndGlyphs">France</text><text transform="matrix(0.3584 0 0 0.3533 299.71 175.45)" font-size="100" font-weight="700" fill="#231f20" stroke="#231f20" stroke-width="1.39" stroke-linejoin="round">4</text><text transform="matrix(0.4247 0 0 0.2723 321.57 170.07)" font-size="100" font-weight="700" fill="#231f20" stroke="#231f20" stroke-width="1.18" stroke-linejoin="round">0</text><text transform="matrix(0.2482 0 0 0.3738 347.38 170.31)" font-size="100" font-weight="700" fill="#231f20">%</text>
<rect x="405.4" y="95.9" width="118.7" height="89.8" rx="11" fill="#cf9fca" filter="url(#sh)"/><text x="423.0" y="131.6" font-size="23.2" fill="#231f20" textLength="83.1" lengthAdjust="spacingAndGlyphs">Sweden</text><text transform="matrix(0.3696 0 0 0.3535 431.49 175.46)" font-size="100" font-weight="700" fill="#231f20" stroke="#231f20" stroke-width="1.35" stroke-linejoin="round">4</text><text transform="matrix(0.3772 0 0 0.3537 453.83 175.47)" font-size="100" font-weight="700" fill="#231f20" stroke="#231f20" stroke-width="1.33" stroke-linejoin="round">7</text><text transform="matrix(0.2423 0 0 0.3738 476.70 170.31)" font-size="100" font-weight="700" fill="#231f20">%</text>
<rect x="655.8" y="95.9" width="118.7" height="89.8" rx="11" fill="#cf9fca" filter="url(#sh)"/><text x="680.6" y="131.6" font-size="23.2" fill="#231f20" textLength="68.8" lengthAdjust="spacingAndGlyphs">Poland</text><text transform="matrix(0.3219 0 0 0.2746 682.23 170.29)" font-size="100" font-weight="700" fill="#231f20" stroke="#231f20" stroke-width="1.55" stroke-linejoin="round">2</text><text transform="matrix(0.4294 0 0 0.3446 700.86 175.16)" font-size="100" font-weight="700" fill="#231f20" stroke="#231f20" stroke-width="1.16" stroke-linejoin="round">9</text><text transform="matrix(0.2470 0 0 0.3738 725.38 170.31)" font-size="100" font-weight="700" fill="#231f20">%</text>
<rect x="15" y="202.5" width="191.8" height="89.8" rx="11" fill="#cf9fca" filter="url(#sh)"/><text x="79.6" y="238.2" font-size="23.2" fill="#231f20" textLength="61.6" lengthAdjust="spacingAndGlyphs">U.S.A</text><text transform="matrix(0.3365 0 0 0.2749 75.88 276.90)" font-size="100" font-weight="700" fill="#231f20" stroke="#231f20" stroke-width="1.49" stroke-linejoin="round">2</text><text transform="matrix(0.3696 0 0 0.3535 97.49 282.06)" font-size="100" font-weight="700" fill="#231f20" stroke="#231f20" stroke-width="1.35" stroke-linejoin="round">4</text><text transform="matrix(0.2459 0 0 0.3738 121.39 276.91)" font-size="100" font-weight="700" fill="#231f20">%</text>
<rect x="253" y="323.3" width="118.7" height="89.8" rx="11" fill="#cf9fca" filter="url(#sh)"/><text x="283.7" y="359.0" font-size="23.2" fill="#231f20" textLength="58.2" lengthAdjust="spacingAndGlyphs">Spain</text><text transform="matrix(0.3696 0 0 0.3535 279.09 402.86)" font-size="100" font-weight="700" fill="#231f20" stroke="#231f20" stroke-width="1.35" stroke-linejoin="round">4</text><text transform="matrix(0.3772 0 0 0.3537 301.43 402.87)" font-size="100" font-weight="700" fill="#231f20" stroke="#231f20" stroke-width="1.33" stroke-linejoin="round">7</text><text transform="matrix(0.2423 0 0 0.3738 324.30 397.71)" font-size="100" font-weight="700" fill="#231f20">%</text>
<rect x="638.3" y="274.7" width="118.7" height="89.8" rx="11" fill="#8197a3" filter="url(#sh)"/><text x="669.6" y="310.4" font-size="23.2" fill="#fff" textLength="56.3" lengthAdjust="spacingAndGlyphs">Israel</text><text transform="matrix(0.3303 0 0 0.2747 665.01 349.09)" font-size="100" font-weight="700" fill="#fff" stroke="#fff" stroke-width="1.51" stroke-linejoin="round">2</text><text transform="matrix(0.3501 0 0 0.3427 686.25 353.87)" font-size="100" font-weight="700" fill="#fff" stroke="#fff" stroke-width="1.43" stroke-linejoin="round">3</text><text transform="matrix(0.2459 0 0 0.3738 707.19 349.11)" font-size="100" font-weight="700" fill="#fff">%</text>
<rect x="783.2" y="327.9" width="118.7" height="89.8" rx="11" fill="#cf9fca" filter="url(#sh)"/><text x="817.6" y="363.6" font-size="23.2" fill="#231f20" textLength="49.7" lengthAdjust="spacingAndGlyphs">India</text><text transform="matrix(0.2085 0 0 0.2629 811.49 401.74)" font-size="100" font-weight="700" fill="#231f20" stroke="#231f20" stroke-width="5.76" stroke-linejoin="round">1</text><text transform="matrix(0.3640 0 0 0.3534 827.60 407.46)" font-size="100" font-weight="700" fill="#231f20" stroke="#231f20" stroke-width="1.37" stroke-linejoin="round">4</text><text transform="matrix(0.2411 0 0 0.3738 851.60 402.31)" font-size="100" font-weight="700" fill="#231f20">%</text>
<rect x="530.9" y="448.9" width="118.7" height="89.8" rx="11" fill="#cf9fca" filter="url(#sh)"/><text x="549.6" y="484.6" font-size="23.2" fill="#231f20" textLength="80.9" lengthAdjust="spacingAndGlyphs">Rwanda</text><text transform="matrix(0.4117 0 0 0.3499 558.54 523.15)" font-size="100" font-weight="700" fill="#231f20" stroke="#231f20" stroke-width="1.21" stroke-linejoin="round">6</text><text transform="matrix(0.2170 0 0 0.2637 581.23 522.77)" font-size="100" font-weight="700" fill="#231f20" stroke="#231f20" stroke-width="5.53" stroke-linejoin="round">1</text><text transform="matrix(0.2411 0 0 0.3738 598.40 523.31)" font-size="100" font-weight="700" fill="#231f20">%</text>
<text x="598.4" y="608.7" font-size="20.3" fill="#231f20" textLength="305.6" lengthAdjust="spacingAndGlyphs">Source: Inter Parliamentary Union</text>
</svg>
</body></html>
